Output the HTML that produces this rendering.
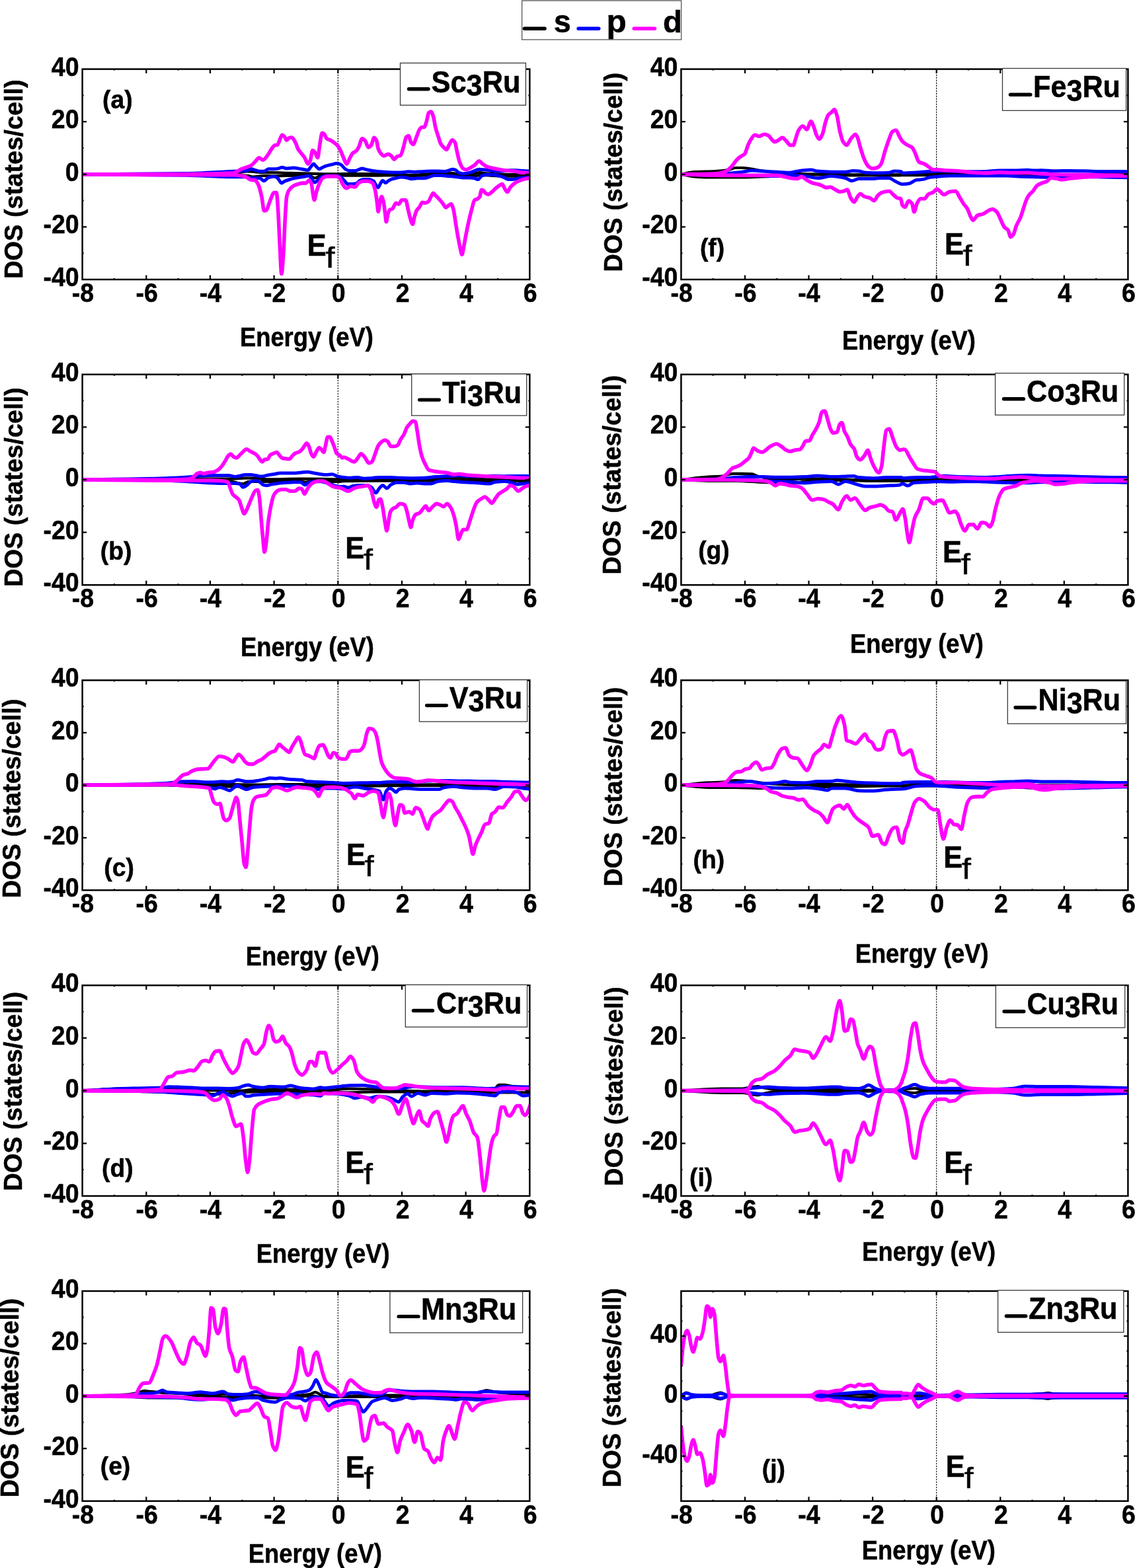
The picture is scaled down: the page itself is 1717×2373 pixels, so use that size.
<!DOCTYPE html>
<html><head><meta charset="utf-8"><title>DOS</title><style>html,body{margin:0;padding:0;background:#fff;}svg{display:block;}</style></head><body>
<svg xmlns="http://www.w3.org/2000/svg" width="1717" height="2373" viewBox="0 0 1717 2373" font-family="'Liberation Sans', Arial, sans-serif">
<style>text{stroke:#000;stroke-width:0.55px;paint-order:stroke}</style>
<rect width="1717" height="2373" fill="#fff"/>
<clipPath id="ca"><rect x="124.6" y="104.6" width="676.7" height="318.4"/></clipPath>
<line x1="511.3" y1="104.6" x2="511.3" y2="423.0" stroke="#000" stroke-width="1.1" stroke-dasharray="2.4,1.6"/>
<g clip-path="url(#ca)" fill="none" stroke-linejoin="round" stroke-linecap="round">
<path d="M124.6,263.8C176.4,263.6 228.2,263.5 280.0,263.1C304.5,262.9 328.9,262.7 353.4,261.9C360.8,261.7 368.2,259.5 375.5,259.5C383.5,259.5 391.5,261.2 399.4,261.2C404.0,261.2 408.5,261.2 413.1,261.2C419.9,261.2 426.7,261.6 433.6,261.8C444.9,262.0 456.3,262.4 467.7,262.6C479.1,262.9 490.4,263.3 501.8,263.3C507.9,263.3 513.9,263.2 520.0,263.2C531.6,263.2 543.2,263.2 554.7,263.2C572.1,263.2 589.5,264.2 606.8,264.6C612.6,264.8 618.4,265.0 624.2,265.0C635.8,265.0 647.4,262.9 658.9,262.5C667.6,262.3 676.3,262.0 685.0,262.0C687.9,262.0 690.8,263.5 693.7,263.8C699.5,264.3 705.2,264.6 711.0,264.6C715.7,264.6 720.3,261.1 724.9,261.1C729.0,261.1 733.0,262.3 737.1,262.5C745.8,263.1 754.5,263.5 763.1,263.8C777.0,264.2 790.9,264.3 804.8,264.6" stroke="#000000" stroke-width="4.2"/>
<path d="M124.6,263.8C176.4,263.8 228.2,263.8 280.0,263.8C304.5,263.8 328.9,264.1 353.4,264.7C360.8,264.8 368.2,265.2 375.5,266.0C377.8,266.3 380.1,267.7 382.4,267.7C388.1,267.7 393.7,266.0 399.4,266.0C404.0,266.0 408.5,266.4 413.1,266.4C419.9,266.4 426.7,266.1 433.6,266.0C444.9,265.8 456.3,265.3 467.7,265.3C470.5,265.3 473.4,269.4 476.2,269.4C479.1,269.4 481.9,266.7 484.7,266.4C490.4,265.7 496.1,265.3 501.8,265.3C507.9,265.3 513.9,265.7 520.0,265.7C531.6,265.7 543.2,265.7 554.7,265.7C572.1,265.7 589.5,265.1 606.8,265.1C612.6,265.1 618.4,266.0 624.2,266.0C635.8,266.0 647.4,264.6 658.9,264.6C670.5,264.6 682.1,264.8 693.7,265.0C702.4,265.1 711.0,266.4 719.7,266.4C721.5,266.4 723.2,265.0 724.9,265.0C737.7,265.0 750.4,266.7 763.1,266.7C777.0,266.7 790.9,266.2 804.8,266.0" stroke="#000000" stroke-width="4.2"/>
<path d="M124.6,263.8C176.4,263.4 228.2,263.4 280.0,262.6C304.5,262.3 328.9,260.3 353.4,259.2C359.6,258.9 365.9,258.9 372.1,258.3C375.0,258.1 377.8,255.8 380.7,255.8C382.4,255.8 384.1,257.0 385.8,257.5C388.1,258.1 390.3,259.2 392.6,259.2C394.9,259.2 397.2,259.2 399.4,259.2C401.7,259.2 404.0,255.8 406.3,255.8C409.1,255.8 411.9,255.8 414.8,255.8C417.1,255.8 419.3,255.4 421.6,254.9C423.3,254.6 425.0,253.2 426.7,253.2C429.0,253.2 431.3,254.9 433.6,254.9C437.0,254.9 440.4,254.1 443.8,254.1C447.8,254.1 451.8,255.2 455.7,255.8C459.2,256.3 462.6,257.5 466.0,257.5C467.4,257.5 468.8,253.9 470.2,252.4C471.7,250.8 473.1,248.1 474.5,248.1C475.9,248.1 477.3,251.1 478.8,252.4C480.2,253.6 481.6,255.8 483.0,255.8C484.7,255.8 486.4,254.0 488.2,253.2C490.4,252.2 492.7,251.3 495.0,250.7C497.3,250.0 499.5,249.5 501.8,249.0C504.4,248.4 506.9,247.3 509.5,247.3C511.5,247.3 513.5,248.1 515.5,249.0C517.7,250.0 520.0,254.3 522.3,255.8C524.0,256.9 525.7,258.2 527.4,258.3C528.4,258.5 529.4,258.5 530.4,258.5C532.7,258.5 535.1,258.5 537.4,258.5C539.1,258.5 540.8,257.4 542.6,256.8C544.3,256.2 546.1,255.1 547.8,255.1C550.1,255.1 552.4,256.3 554.7,256.8C557.6,257.5 560.5,258.2 563.4,258.5C566.3,258.9 569.2,259.1 572.1,259.4C575.0,259.7 577.9,260.1 580.8,260.3C583.7,260.5 586.6,260.7 589.5,260.8C592.9,261.0 596.4,261.1 599.9,261.1C603.4,261.1 606.8,261.0 610.3,260.8C612.6,260.7 614.9,259.8 617.3,259.8C620.7,259.8 624.2,260.3 627.7,260.3C632.3,260.3 636.9,259.6 641.6,259.4C645.0,259.3 648.5,259.1 652.0,259.1C655.5,259.1 658.9,259.1 662.4,259.1C665.9,259.1 669.4,259.4 672.8,259.4C675.1,259.4 677.5,258.3 679.8,257.7C681.5,257.2 683.3,256.3 685.0,256.3C686.4,256.3 687.9,256.8 689.3,257.3C690.8,257.9 692.2,260.6 693.7,261.1C696.0,262.1 698.3,262.9 700.6,262.9C704.1,262.9 707.6,262.0 711.0,261.1C713.4,260.6 715.7,259.4 718.0,258.5C720.3,257.7 722.6,256.3 724.9,256.3C727.2,256.3 729.6,256.6 731.9,256.8C734.2,257.0 736.5,257.4 738.8,257.7C741.1,258.0 743.5,258.4 745.8,258.5C748.7,258.8 751.6,259.1 754.5,259.1C757.4,259.1 760.2,258.8 763.1,258.5C766.0,258.3 768.9,257.7 771.8,257.7C774.7,257.7 777.6,257.7 780.5,257.7C784.0,257.7 787.5,258.3 790.9,258.5C795.6,258.9 800.2,259.1 804.8,259.4" stroke="#0000ff" stroke-width="5.0"/>
<path d="M124.6,263.8C176.4,264.3 228.2,264.4 280.0,265.2C304.5,265.5 328.9,267.7 353.4,267.7C359.1,267.7 364.7,267.7 370.4,267.7C373.3,267.7 376.1,269.4 379.0,269.4C381.2,269.4 383.5,269.4 385.8,269.4C388.1,269.4 390.3,269.4 392.6,269.4C394.9,269.4 397.2,273.7 399.4,273.7C401.7,273.7 404.0,269.3 406.3,268.6C409.1,267.7 411.9,266.9 414.8,266.9C416.5,266.9 418.2,268.2 419.9,269.4C421.9,270.9 423.9,277.1 425.9,277.1C427.3,277.1 428.7,275.2 430.1,274.6C432.4,273.5 434.7,272.7 437.0,272.0C440.4,271.0 443.8,270.1 447.2,269.4C450.6,268.8 454.0,268.3 457.4,267.7C460.9,267.2 464.3,266.0 467.7,266.0C469.4,266.0 471.1,270.9 472.8,272.8C473.9,274.1 475.1,276.3 476.2,276.3C477.6,276.3 479.1,274.0 480.5,272.8C482.5,271.2 484.5,268.5 486.4,267.7C488.7,266.8 491.0,266.0 493.3,266.0C496.1,266.0 499.0,266.0 501.8,266.0C504.6,266.0 507.5,266.0 510.3,266.0C512.6,266.0 514.9,267.9 517.2,269.4C519.4,271.0 521.7,274.5 524.0,277.1C524.4,277.6 524.8,278.5 525.2,278.5C527.5,278.5 529.8,278.5 532.2,278.5C534.5,278.5 536.8,278.2 539.1,277.6C540.8,277.3 542.6,274.1 544.3,273.3C546.3,272.4 548.4,271.6 550.4,271.6C553.0,271.6 555.6,271.6 558.2,271.6C560.5,271.6 562.8,272.7 565.2,274.2C566.6,275.1 568.0,279.4 569.5,281.1C570.4,282.2 571.2,283.7 572.1,283.7C573.3,283.7 574.4,279.3 575.6,277.6C576.7,276.0 577.9,273.3 579.0,273.3C580.5,273.3 581.9,276.8 583.4,276.8C584.5,276.8 585.7,275.0 586.9,274.2C588.3,273.2 589.8,272.1 591.2,271.6C593.5,270.7 595.8,270.3 598.2,269.8C601.0,269.2 603.9,268.1 606.8,268.1C609.7,268.1 612.6,268.5 615.5,269.0C617.8,269.3 620.2,270.7 622.5,270.7C625.4,270.7 628.3,269.8 631.1,269.8C634.6,269.8 638.1,269.8 641.6,269.8C643.9,269.8 646.2,268.7 648.5,268.1C651.4,267.3 654.3,265.5 657.2,265.5C660.7,265.5 664.1,265.5 667.6,265.5C670.5,265.5 673.4,266.1 676.3,266.4C679.8,266.7 683.3,266.9 686.7,267.2C689.0,267.5 691.4,267.8 693.7,268.1C696.6,268.4 699.5,269.0 702.4,269.0C705.2,269.0 708.1,269.0 711.0,269.0C713.4,269.0 715.7,269.4 718.0,269.8C719.7,270.2 721.5,271.6 723.2,271.6C724.9,271.6 726.7,267.1 728.4,266.4C730.7,265.4 733.0,264.6 735.4,264.6C738.8,264.6 742.3,264.6 745.8,264.6C749.2,264.6 752.7,265.5 756.2,266.4C758.5,266.9 760.8,268.0 763.1,269.0C764.9,269.7 766.6,271.6 768.4,271.6C770.7,271.6 773.0,271.6 775.3,271.6C778.2,271.6 781.1,270.3 784.0,269.8C786.3,269.5 788.6,269.2 790.9,269.0C795.6,268.6 800.2,268.4 804.8,268.1" stroke="#0000ff" stroke-width="5.0"/>
<path d="M124.6,263.8C176.4,263.7 228.2,263.7 280.0,263.5C304.5,263.4 328.9,263.1 353.4,261.8C357.3,261.5 361.3,257.5 365.3,255.8C370.4,253.5 375.5,252.9 380.7,249.8C382.9,248.5 385.2,245.3 387.5,243.0C388.9,241.6 390.3,238.7 391.8,238.7C393.7,238.7 395.7,242.1 397.7,242.1C400.0,242.1 402.3,238.1 404.6,235.3C407.1,232.2 409.7,226.4 412.2,223.4C413.4,222.0 414.5,220.3 415.6,220.0C417.1,219.5 418.5,219.6 419.9,219.1C421.0,218.7 422.2,213.9 423.3,211.4C424.5,209.0 425.6,204.3 426.7,204.3C427.9,204.3 429.0,205.3 430.1,206.3C431.3,207.3 432.4,212.3 433.6,212.3C434.7,212.3 435.8,209.3 437.0,208.9C438.4,208.4 439.8,208.0 441.2,208.0C442.4,208.0 443.5,209.9 444.6,211.4C445.8,212.9 446.9,215.6 448.1,218.2C448.9,220.2 449.8,223.5 450.6,225.1C452.3,228.2 454.0,229.6 455.7,231.9C457.4,234.2 459.2,236.1 460.9,238.7C462.6,241.4 464.3,248.1 466.0,248.1C467.1,248.1 468.3,245.5 469.4,243.0C470.5,240.4 471.7,227.6 472.8,227.6C473.9,227.6 475.1,229.0 476.2,230.2C477.6,231.7 479.1,238.7 480.5,238.7C481.6,238.7 482.8,224.5 483.9,218.2C485.0,212.0 486.2,201.2 487.3,201.2C488.4,201.2 489.6,202.0 490.7,202.9C491.9,203.8 493.0,208.9 494.1,209.7C496.1,211.2 498.1,211.2 500.1,212.3C501.8,213.2 503.5,214.4 505.2,215.7C506.9,217.0 508.6,218.1 510.3,220.0C511.8,221.5 513.2,224.0 514.6,226.8C516.0,229.5 517.4,234.0 518.9,237.0C520.9,241.2 522.8,248.1 524.8,248.1C526.1,248.1 527.4,242.7 528.7,240.3C530.4,237.1 532.2,233.3 533.9,231.6C535.6,230.0 537.4,229.8 539.1,228.2C540.3,227.1 541.4,225.1 542.6,222.9C544.3,219.7 546.1,209.9 547.8,209.9C549.2,209.9 550.7,211.2 552.1,212.5C553.9,214.1 555.6,222.9 557.3,222.9C558.8,222.9 560.2,221.2 561.7,219.5C563.1,217.7 564.6,208.2 566.0,208.2C567.2,208.2 568.3,210.2 569.5,212.5C570.4,214.3 571.2,222.2 572.1,224.7C573.3,228.0 574.4,230.2 575.6,231.6C577.3,233.7 579.0,236.0 580.8,236.0C582.8,236.0 584.8,233.4 586.9,233.4C588.3,233.4 589.8,234.2 591.2,235.1C592.9,236.1 594.7,241.2 596.4,241.2C597.9,241.2 599.3,237.6 600.8,236.8C602.5,236.0 604.2,236.2 606.0,235.1C607.4,234.2 608.9,227.5 610.3,222.9C611.8,218.4 613.2,208.5 614.7,207.3C615.8,206.3 617.0,205.6 618.1,205.6C619.3,205.6 620.4,213.4 621.6,215.1C622.8,216.8 623.9,218.6 625.1,218.6C626.5,218.6 628.0,212.4 629.4,209.0C631.1,205.0 632.9,198.4 634.6,196.0C635.8,194.4 636.9,192.5 638.1,192.5C639.3,192.5 640.4,192.5 641.6,192.5C642.7,192.5 643.9,188.1 645.0,184.7C646.2,181.4 647.4,171.9 648.5,170.8C649.7,169.8 650.8,169.1 652.0,169.1C653.1,169.1 654.3,172.7 655.5,176.1C656.6,179.4 657.8,188.9 658.9,193.4C660.4,199.1 661.8,202.8 663.3,207.3C664.4,210.9 665.6,215.7 666.8,217.7C668.2,220.3 669.6,221.6 671.1,222.9C672.5,224.3 674.0,226.4 675.4,226.4C676.9,226.4 678.3,221.1 679.8,218.6C681.2,216.1 682.7,211.7 684.1,211.7C685.6,211.7 687.0,213.5 688.5,216.0C689.3,217.5 690.2,224.4 691.1,228.2C692.5,234.4 694.0,241.8 695.4,245.5C697.1,249.9 698.9,254.0 700.6,255.1C702.1,256.0 703.5,256.8 705.0,256.8C707.0,256.8 709.0,255.2 711.0,254.2C713.4,253.0 715.7,251.5 718.0,249.9C720.3,248.2 722.6,243.8 724.9,243.8C726.7,243.8 728.4,246.8 730.1,248.1C731.9,249.4 733.6,250.9 735.4,251.6C738.2,252.8 741.1,253.5 744.0,254.2C746.9,254.9 749.8,255.4 752.7,255.9C756.2,256.6 759.7,257.2 763.1,257.7C766.0,258.0 768.9,258.3 771.8,258.5C774.7,258.8 777.6,259.0 780.5,259.4C783.4,259.8 786.3,260.9 789.2,261.1C794.4,261.6 799.6,261.7 804.8,262.0" stroke="#ff00ff" stroke-width="5.6"/>
<path d="M124.6,263.8C176.4,264.1 228.2,264.7 280.0,264.7C304.5,264.7 328.9,264.7 353.4,264.7C357.3,264.7 361.3,265.4 365.3,266.0C367.6,266.4 369.9,266.9 372.1,267.7C374.4,268.5 376.7,271.5 379.0,272.0C381.2,272.5 383.5,272.3 385.8,272.8C387.5,273.3 389.2,276.3 390.9,279.7C392.6,283.0 394.3,290.5 396.0,298.4C397.2,303.7 398.3,318.9 399.4,318.9C400.6,318.9 401.7,318.6 402.8,318.1C404.6,317.3 406.3,309.1 408.0,305.3C410.2,300.2 412.5,291.6 414.8,291.6C415.9,291.6 417.1,291.6 418.2,291.6C419.1,291.6 419.9,308.3 420.8,320.6C421.6,333.0 422.5,356.3 423.3,371.8C424.2,387.3 425.0,414.5 425.9,414.5C426.7,414.5 427.6,400.1 428.4,388.9C429.6,373.9 430.7,338.1 431.9,320.6C432.4,311.9 433.0,301.4 433.6,298.4C434.7,292.5 435.8,290.0 437.0,288.2C439.2,284.6 441.5,282.6 443.8,281.4C446.1,280.1 448.3,279.5 450.6,278.8C452.9,278.1 455.2,277.1 457.4,277.1C459.2,277.1 460.9,277.1 462.6,277.1C464.3,277.1 466.0,272.8 467.7,272.8C468.8,272.8 470.0,275.1 471.1,278.0C471.9,280.1 472.8,290.5 473.7,295.0C474.2,298.0 474.8,302.7 475.4,302.7C476.5,302.7 477.6,293.6 478.8,289.9C480.2,285.3 481.6,281.0 483.0,278.0C484.7,274.4 486.4,270.5 488.2,269.4C490.4,268.0 492.7,266.9 495.0,266.9C499.5,266.9 504.1,266.9 508.6,266.9C510.3,266.9 512.0,268.1 513.7,269.4C515.5,270.8 517.2,277.4 518.9,279.7C520.6,281.9 522.3,284.8 524.0,284.8C526.1,284.8 528.3,282.0 530.4,282.0C532.7,282.0 535.1,282.9 537.4,282.9C539.1,282.9 540.8,277.8 542.6,276.8C544.9,275.4 547.2,274.2 549.5,274.2C551.8,274.2 554.2,274.2 556.5,274.2C558.8,274.2 561.1,275.2 563.4,276.8C564.9,277.8 566.3,283.0 567.8,288.9C568.6,292.5 569.5,300.0 570.4,306.3C570.9,310.5 571.5,320.2 572.1,320.2C573.0,320.2 573.8,309.9 574.7,306.3C575.6,302.7 576.4,297.6 577.3,297.6C578.2,297.6 579.0,301.3 579.9,304.6C580.8,307.9 581.7,315.6 582.5,321.9C583.1,326.2 583.7,335.8 584.3,335.8C585.1,335.8 586.0,326.4 586.9,323.7C587.7,321.0 588.6,318.2 589.5,317.6C590.9,316.5 592.4,316.8 593.8,315.9C595.5,314.8 597.3,307.2 599.0,307.2C600.5,307.2 601.9,308.9 603.4,308.9C604.8,308.9 606.3,302.8 607.7,302.8C609.7,302.8 611.8,302.8 613.8,302.8C614.9,302.8 616.1,312.1 617.3,316.7C618.4,321.4 619.6,327.1 620.7,330.6C621.9,334.2 623.0,339.3 624.2,339.3C625.1,339.3 625.9,331.9 626.8,328.9C628.0,324.9 629.1,320.5 630.3,318.5C631.7,315.9 633.2,315.2 634.6,313.3C636.1,311.3 637.5,306.3 639.0,306.3C640.4,306.3 641.9,307.2 643.3,307.2C645.0,307.2 646.8,306.0 648.5,304.6C649.7,303.6 650.8,299.6 652.0,297.6C653.1,295.6 654.3,292.4 655.5,292.4C656.6,292.4 657.8,294.7 658.9,295.9C660.7,297.6 662.4,299.2 664.1,301.1C665.9,303.0 667.6,305.0 669.4,307.2C671.1,309.3 672.8,314.1 674.6,314.1C675.7,314.1 676.9,312.3 678.0,311.5C679.5,310.5 680.9,308.9 682.4,308.9C683.5,308.9 684.7,312.9 685.9,316.7C687.0,320.5 688.2,330.6 689.3,337.6C690.5,344.5 691.6,352.1 692.8,358.4C694.0,364.7 695.1,370.9 696.3,375.8C697.1,379.4 698.0,385.3 698.9,385.3C699.7,385.3 700.6,378.2 701.5,374.0C702.6,368.5 703.8,360.9 705.0,354.9C706.4,347.5 707.9,340.4 709.3,334.1C710.7,327.8 712.2,321.9 713.6,316.7C715.1,311.6 716.5,303.9 718.0,302.8C719.4,301.8 720.9,301.9 722.3,301.1C723.5,300.4 724.6,299.5 725.8,297.6C726.7,296.2 727.5,287.2 728.4,287.2C729.3,287.2 730.1,287.6 731.0,288.1C732.2,288.7 733.3,291.7 734.5,292.4C735.9,293.3 737.4,294.1 738.8,294.1C740.6,294.1 742.3,292.1 744.0,290.7C745.8,289.3 747.5,287.0 749.2,285.5C751.6,283.5 753.9,281.6 756.2,280.3C757.4,279.6 758.5,278.5 759.7,278.5C760.8,278.5 762.0,282.8 763.1,284.6C764.6,286.9 766.0,290.7 767.5,290.7C768.9,290.7 770.4,285.5 771.8,283.7C773.6,281.6 775.3,279.9 777.0,278.5C779.3,276.7 781.7,275.3 784.0,274.2C786.3,273.1 788.6,272.2 790.9,271.6C795.6,270.4 800.2,269.8 804.8,269.0" stroke="#ff00ff" stroke-width="5.6"/>
</g>
<rect x="124.6" y="104.6" width="676.7" height="318.4" fill="none" stroke="#000" stroke-width="2.5"/>
<path d="M172.9,423.0v-2.0M172.9,104.6v2.0M221.3,423.0v-6.5M221.3,104.6v6.5M269.6,423.0v-2.0M269.6,104.6v2.0M317.9,423.0v-6.5M317.9,104.6v6.5M366.3,423.0v-2.0M366.3,104.6v2.0M414.6,423.0v-6.5M414.6,104.6v6.5M462.9,423.0v-2.0M462.9,104.6v2.0M511.3,423.0v-6.5M511.3,104.6v6.5M559.6,423.0v-2.0M559.6,104.6v2.0M608.0,423.0v-6.5M608.0,104.6v6.5M656.3,423.0v-2.0M656.3,104.6v2.0M704.6,423.0v-6.5M704.6,104.6v6.5M753.0,423.0v-2.0M753.0,104.6v2.0M124.6,383.2h2.0M801.3,383.2h-2.0M124.6,343.4h6.5M801.3,343.4h-6.5M124.6,303.6h2.0M801.3,303.6h-2.0M124.6,263.8h6.5M801.3,263.8h-6.5M124.6,224.0h2.0M801.3,224.0h-2.0M124.6,184.2h6.5M801.3,184.2h-6.5M124.6,144.4h2.0M801.3,144.4h-2.0" stroke="#000" stroke-width="2.2" fill="none"/>
<text transform="translate(108.74,457.10) scale(0.9250,1)" font-size="40.50" font-weight="bold">-8</text>
<text transform="translate(205.60,457.10) scale(0.9250,1)" font-size="40.50" font-weight="bold">-6</text>
<text transform="translate(301.71,457.10) scale(0.9250,1)" font-size="40.50" font-weight="bold">-4</text>
<text transform="translate(398.94,457.10) scale(0.9250,1)" font-size="40.50" font-weight="bold">-2</text>
<text transform="translate(501.80,457.10) scale(0.9250,1)" font-size="40.50" font-weight="bold">0</text>
<text transform="translate(598.65,457.10) scale(0.9250,1)" font-size="40.50" font-weight="bold">2</text>
<text transform="translate(694.95,457.10) scale(0.9250,1)" font-size="40.50" font-weight="bold">4</text>
<text transform="translate(791.81,457.10) scale(0.9250,1)" font-size="40.50" font-weight="bold">6</text>
<text transform="translate(77.84,114.50) scale(0.9250,1)" font-size="40.50" font-weight="bold">40</text>
<text transform="translate(77.84,194.10) scale(0.9250,1)" font-size="40.50" font-weight="bold">20</text>
<text transform="translate(98.82,273.70) scale(0.9250,1)" font-size="40.50" font-weight="bold">0</text>
<text transform="translate(65.48,353.30) scale(0.9250,1)" font-size="40.50" font-weight="bold">-20</text>
<text transform="translate(65.48,432.90) scale(0.9250,1)" font-size="40.50" font-weight="bold">-40</text>
<text transform="translate(155.04,164.25) scale(0.9700,1)" font-size="38.40" font-weight="bold">(a)</text>
<text transform="translate(464.76,387.40) scale(0.9415,1)" font-size="46.09" font-weight="bold" fill="#000">E</text>
<text transform="translate(492.60,404.80) scale(1.1180,1)" font-size="44.72" font-weight="normal" fill="#000">f</text>
<text transform="translate(362.96,524.00) scale(0.8998,1)" font-size="40.40" font-weight="bold">Energy (eV)</text>
<text transform="translate(33.80,419.20) rotate(-90) scale(0.9561,1) translate(-2.78,0)" font-size="39.71" font-weight="bold">DOS (states/cell)</text>
<rect x="605.5" y="95.4" width="189.9" height="63.8" fill="#fff" stroke="#3a3a3a" stroke-width="1.3"/>
<line x1="618.5" y1="134.7" x2="648.0" y2="134.7" stroke="#000" stroke-width="5.4" stroke-linecap="round"/>
<text transform="translate(652.60,139.90) scale(0.9267,1)" font-size="46.75" font-weight="bold">Sc<tspan dy="5.2">3</tspan><tspan dy="-5.2">Ru</tspan></text>
<clipPath id="cb"><rect x="124.6" y="566.7" width="676.7" height="318.6"/></clipPath>
<line x1="511.3" y1="566.7" x2="511.3" y2="885.3" stroke="#000" stroke-width="1.1" stroke-dasharray="2.4,1.6"/>
<g clip-path="url(#cb)" fill="none" stroke-linejoin="round" stroke-linecap="round">
<path d="M124.6,726.0C166.4,725.8 208.2,725.7 250.0,725.4C272.7,725.2 295.5,724.6 318.2,724.6C329.6,724.6 341.0,724.6 352.4,724.6C358.1,724.6 363.7,723.7 369.4,723.7C375.1,723.7 380.8,723.7 386.5,723.7C392.2,723.7 397.9,725.4 403.6,725.4C420.6,725.4 437.7,724.6 454.7,724.6C474.6,724.6 494.6,724.7 514.5,725.4C516.3,725.5 518.2,726.8 520.0,726.8C537.4,726.8 554.7,725.9 572.1,725.9C589.5,725.9 606.8,725.9 624.2,725.9C641.6,725.9 658.9,725.2 676.3,724.7C682.1,724.5 687.9,724.2 693.7,724.2C711.0,724.2 728.4,725.2 745.8,725.4C765.5,725.6 785.1,725.7 804.8,725.9" stroke="#000000" stroke-width="4.2"/>
<path d="M124.6,726.0C166.4,726.4 208.2,726.7 250.0,727.1C272.7,727.4 295.5,728.0 318.2,728.0C327.3,728.0 336.4,728.0 345.5,728.0C352.9,728.0 360.3,732.2 367.7,732.2C370.6,732.2 373.4,728.8 376.3,728.8C385.4,728.8 394.5,728.8 403.6,728.8C420.6,728.8 437.7,728.0 454.7,728.0C457.0,728.0 459.3,729.7 461.6,729.7C465.0,729.7 468.4,728.3 471.8,728.3C486.0,728.3 500.2,728.8 514.5,728.8C516.3,728.8 518.2,728.2 520.0,728.2C537.4,727.8 554.7,727.6 572.1,727.6C589.5,727.6 606.8,727.6 624.2,727.6C641.6,727.6 658.9,727.6 676.3,727.6C687.9,727.6 699.5,728.0 711.0,728.2C716.8,728.3 722.6,728.5 728.4,728.5C734.2,728.5 740.0,727.6 745.8,727.6C765.5,727.6 785.1,728.0 804.8,728.2" stroke="#000000" stroke-width="4.2"/>
<path d="M124.6,726.0C166.4,725.2 208.2,724.9 250.0,723.7C261.4,723.4 272.7,722.8 284.1,722.0C289.8,721.6 295.5,720.7 301.2,720.3C306.9,719.9 312.6,719.4 318.2,719.4C323.9,719.4 329.6,719.4 335.3,719.4C338.7,719.4 342.1,719.4 345.5,719.4C349.0,719.4 352.4,721.5 355.8,721.5C358.1,721.5 360.3,720.7 362.6,720.3C365.5,719.8 368.3,718.6 371.1,718.6C374.0,718.6 376.8,718.6 379.7,718.6C381.9,718.6 384.2,719.1 386.5,719.4C389.3,719.9 392.2,721.1 395.0,721.1C397.9,721.1 400.7,720.0 403.6,719.4C407.0,718.8 410.4,718.3 413.8,717.7C417.2,717.2 420.6,716.0 424.0,716.0C427.4,716.0 430.9,716.0 434.3,716.0C437.7,716.0 441.1,716.0 444.5,716.0C447.9,716.0 451.3,715.5 454.7,715.2C458.2,714.9 461.6,714.3 465.0,714.3C468.4,714.3 471.8,715.5 475.2,716.0C478.6,716.6 482.0,717.2 485.5,717.7C487.7,718.0 490.0,718.6 492.3,718.6C495.7,718.6 499.1,717.7 502.5,717.7C504.8,717.7 507.1,719.6 509.3,720.3C511.6,721.0 513.9,721.6 516.2,722.0C517.4,722.2 518.7,722.3 520.0,722.4C523.5,722.8 526.9,723.3 530.4,723.3C533.9,723.3 537.4,722.4 540.8,722.4C544.3,722.4 547.8,724.2 551.3,724.2C554.7,724.2 558.2,723.9 561.7,723.7C565.2,723.4 568.6,722.4 572.1,722.4C577.9,722.4 583.7,722.4 589.5,722.4C595.3,722.4 601.0,723.1 606.8,723.3C612.6,723.5 618.4,723.7 624.2,723.7C630.0,723.7 635.8,723.5 641.6,723.3C647.4,723.1 653.1,722.0 658.9,721.6C664.7,721.2 670.5,721.0 676.3,720.7C682.1,720.4 687.9,719.8 693.7,719.8C699.5,719.8 705.2,720.7 711.0,720.7C716.8,720.7 722.6,720.7 728.4,720.7C734.2,720.7 740.0,720.2 745.8,720.2C751.6,720.2 757.4,720.7 763.1,720.7C768.9,720.7 774.7,720.4 780.5,720.4C788.6,720.4 796.7,720.6 804.8,720.7" stroke="#0000ff" stroke-width="5.0"/>
<path d="M124.6,726.0C166.4,726.4 208.2,726.4 250.0,727.1C261.4,727.3 272.7,728.2 284.1,728.8C292.7,729.3 301.2,730.1 309.7,730.5C318.2,730.9 326.8,731.4 335.3,731.4C338.7,731.4 342.1,731.4 345.5,731.4C349.0,731.4 352.4,731.4 355.8,731.4C358.1,731.4 360.3,731.7 362.6,732.2C364.3,732.6 366.0,737.3 367.7,737.3C369.4,737.3 371.1,735.9 372.8,734.8C375.1,733.4 377.4,729.4 379.7,728.8C382.5,728.1 385.4,727.6 388.2,727.6C389.9,727.6 391.6,728.7 393.3,729.7C395.0,730.6 396.7,733.5 398.4,733.9C400.1,734.4 401.9,734.8 403.6,734.8C405.8,734.8 408.1,733.5 410.4,733.1C413.8,732.4 417.2,731.8 420.6,731.4C424.0,731.0 427.4,730.8 430.9,730.5C435.4,730.2 440.0,729.7 444.5,729.7C447.9,729.7 451.3,729.7 454.7,729.7C457.0,729.7 459.3,733.9 461.6,733.9C463.3,733.9 465.0,731.1 466.7,730.5C469.5,729.6 472.4,728.8 475.2,728.8C478.6,728.8 482.0,728.8 485.5,728.8C488.9,728.8 492.3,730.4 495.7,731.4C499.1,732.4 502.5,733.9 505.9,734.8C508.8,735.5 511.6,736.5 514.5,736.5C516.3,736.5 518.2,736.3 520.0,736.3C522.3,736.3 524.6,738.1 526.9,738.1C529.3,738.1 531.6,735.8 533.9,735.5C537.4,735.0 540.8,734.6 544.3,734.6C547.8,734.6 551.3,734.6 554.7,734.6C557.0,734.6 559.4,735.9 561.7,737.2C564.0,738.5 566.3,745.9 568.6,745.9C570.4,745.9 572.1,740.7 573.8,738.9C575.6,737.2 577.3,734.6 579.0,734.6C581.1,734.6 583.1,738.9 585.1,738.9C587.2,738.9 589.2,734.9 591.2,733.7C594.1,732.1 597.0,730.3 599.9,730.3C603.4,730.3 606.8,730.3 610.3,730.3C613.8,730.3 617.3,732.0 620.7,732.0C624.2,732.0 627.7,731.1 631.1,731.1C634.6,731.1 638.1,732.0 641.6,732.0C645.0,732.0 648.5,732.0 652.0,732.0C655.5,732.0 658.9,728.9 662.4,728.5C667.0,728.0 671.7,727.6 676.3,727.6C679.8,727.6 683.3,728.2 686.7,728.5C690.2,728.8 693.7,729.1 697.1,729.4C701.8,729.7 706.4,730.0 711.0,730.3C715.7,730.5 720.3,730.8 724.9,731.1C730.1,731.4 735.4,732.0 740.6,732.0C743.5,732.0 746.4,729.7 749.2,729.4C753.9,728.9 758.5,728.5 763.1,728.5C766.6,728.5 770.1,729.5 773.6,730.3C776.5,730.9 779.3,732.9 782.2,732.9C785.1,732.9 788.0,732.2 790.9,732.0C795.6,731.6 800.2,731.4 804.8,731.1" stroke="#0000ff" stroke-width="5.0"/>
<path d="M124.6,726.0C166.4,726.1 208.2,726.3 250.0,726.3C261.4,726.3 272.7,726.1 284.1,725.4C287.0,725.2 289.8,723.7 292.7,722.0C294.4,721.0 296.1,717.7 297.8,716.9C299.5,716.0 301.2,715.2 302.9,715.2C304.6,715.2 306.3,716.9 308.0,716.9C310.3,716.9 312.6,715.5 314.8,715.2C317.7,714.8 320.5,714.8 323.4,714.3C325.6,713.9 327.9,712.4 330.2,710.9C331.9,709.7 333.6,707.8 335.3,705.8C337.0,703.7 338.7,700.8 340.4,698.1C342.1,695.4 343.8,691.3 345.5,689.6C346.7,688.4 347.8,687.0 349.0,687.0C350.1,687.0 351.2,689.7 352.4,690.4C354.1,691.6 355.8,693.0 357.5,693.0C359.2,693.0 360.9,690.3 362.6,688.7C364.3,687.2 366.0,685.0 367.7,683.6C369.4,682.2 371.1,679.8 372.8,679.8C374.6,679.8 376.3,681.8 378.0,682.8C380.2,684.0 382.5,684.7 384.8,686.2C386.5,687.2 388.2,688.6 389.9,690.4C391.0,691.7 392.2,694.2 393.3,695.5C394.5,696.9 395.6,699.0 396.7,699.0C397.9,699.0 399.0,695.9 400.1,695.5C401.9,695.0 403.6,695.2 405.3,694.7C406.4,694.3 407.5,689.6 408.7,688.7C410.4,687.3 412.1,686.8 413.8,686.2C415.5,685.5 417.2,684.5 418.9,684.5C420.1,684.5 421.2,687.5 422.3,688.7C424.0,690.6 425.7,693.1 427.4,693.5C429.2,693.9 430.9,694.0 432.6,694.2C434.3,694.4 436.0,694.7 437.7,694.7C439.1,694.7 440.5,691.9 441.9,690.4C443.4,689.0 444.8,687.0 446.2,686.2C448.5,684.9 450.8,684.9 453.0,683.6C454.7,682.7 456.4,680.4 458.2,678.5C460.1,676.3 462.1,670.8 464.1,670.8C465.3,670.8 466.4,673.6 467.5,675.9C468.7,678.3 469.8,685.0 471.0,687.0C472.1,689.1 473.2,691.3 474.4,691.3C475.8,691.3 477.2,685.8 478.6,683.6C480.1,681.4 481.5,677.6 482.9,677.6C484.0,677.6 485.2,679.1 486.3,680.2C487.4,681.3 488.6,684.5 489.7,684.5C490.6,684.5 491.4,678.3 492.3,675.1C493.4,670.7 494.6,661.4 495.7,661.4C496.8,661.4 498.0,661.4 499.1,661.4C500.2,661.4 501.4,665.7 502.5,668.2C503.7,670.8 504.8,673.8 505.9,676.8C507.1,679.8 508.2,685.0 509.3,686.2C510.8,687.6 512.2,687.7 513.6,688.7C515.0,689.8 516.5,693.0 517.9,693.0C518.6,693.0 519.3,692.0 520.0,692.0C522.3,692.0 524.6,693.7 526.9,694.7C529.8,695.9 532.7,699.0 535.6,699.0C537.4,699.0 539.1,695.8 540.8,693.8C542.6,691.8 544.3,686.8 546.1,686.8C547.8,686.8 549.5,689.4 551.3,691.2C553.6,693.6 555.9,700.7 558.2,700.7C559.7,700.7 561.1,700.0 562.5,699.0C564.0,698.0 565.4,692.2 566.9,688.6C568.6,684.2 570.4,677.5 572.1,674.7C573.8,671.9 575.6,669.8 577.3,668.6C579.0,667.4 580.8,666.0 582.5,666.0C584.0,666.0 585.4,667.3 586.9,668.6C588.3,669.9 589.8,675.5 591.2,675.5C592.9,675.5 594.7,675.5 596.4,675.5C598.2,675.5 599.9,674.8 601.6,673.8C603.1,673.0 604.5,667.6 606.0,665.1C607.7,662.1 609.4,660.5 611.2,657.3C612.6,654.6 614.1,649.2 615.5,646.9C617.0,644.6 618.4,643.3 619.9,641.7C621.3,640.1 622.8,637.3 624.2,637.3C625.7,637.3 627.1,637.6 628.5,638.2C629.4,638.6 630.3,647.0 631.1,652.1C632.3,658.9 633.5,668.5 634.6,674.7C635.8,680.8 636.9,686.7 638.1,690.3C639.8,695.8 641.6,699.1 643.3,702.5C645.0,705.8 646.8,710.4 648.5,711.1C650.8,712.2 653.1,712.4 655.5,712.9C658.4,713.5 661.3,713.9 664.1,714.3C668.2,714.8 672.3,714.9 676.3,715.5C679.8,716.0 683.3,718.1 686.7,718.1C689.0,718.1 691.4,717.2 693.7,717.2C698.3,717.2 702.9,718.5 707.6,719.0C711.6,719.3 715.7,719.6 719.7,719.8C725.5,720.2 731.3,720.4 737.1,720.7C742.9,721.0 748.7,721.3 754.5,721.6C760.2,721.9 766.0,722.1 771.8,722.4C777.6,722.7 783.4,723.1 789.2,723.3C794.4,723.5 799.6,723.5 804.8,723.7" stroke="#ff00ff" stroke-width="5.6"/>
<path d="M124.6,726.0C166.4,726.4 208.2,727.1 250.0,727.1C272.7,727.1 295.5,727.1 318.2,727.1C325.1,727.1 331.9,727.4 338.7,728.0C340.7,728.1 342.7,728.6 344.7,729.7C345.8,730.3 347.0,735.4 348.1,738.2C349.5,741.7 350.9,746.7 352.4,748.4C354.1,750.6 355.8,751.1 357.5,752.7C358.9,754.0 360.3,754.8 361.8,757.0C362.9,758.7 364.0,764.2 365.2,767.2C366.6,771.0 368.0,777.4 369.4,777.4C370.6,777.4 371.7,774.4 372.8,772.3C374.3,769.7 375.7,765.5 377.1,762.1C378.5,758.7 380.0,754.8 381.4,751.9C383.1,748.3 384.8,743.2 386.5,742.5C387.6,742.0 388.8,741.6 389.9,741.6C390.8,741.6 391.6,747.8 392.5,753.6C393.3,759.3 394.2,774.3 395.0,784.3C395.9,794.2 396.7,804.9 397.6,813.3C398.4,821.7 399.3,835.5 400.1,835.5C401.0,835.5 401.9,827.7 402.7,821.8C403.8,814.0 405.0,796.2 406.1,787.7C407.3,779.2 408.4,772.7 409.5,767.2C411.0,760.3 412.4,753.0 413.8,750.1C415.5,746.7 417.2,744.3 418.9,743.3C421.2,742.0 423.5,740.8 425.7,740.8C428.0,740.8 430.3,740.8 432.6,740.8C434.8,740.8 437.1,743.3 439.4,743.3C441.7,743.3 443.9,743.3 446.2,743.3C448.2,743.3 450.2,739.1 452.2,739.1C453.6,739.1 455.0,739.4 456.4,739.9C457.9,740.4 459.3,747.6 460.7,747.6C461.9,747.6 463.0,743.5 464.1,741.6C465.5,739.2 467.0,736.3 468.4,734.8C470.7,732.4 472.9,730.5 475.2,729.7C477.5,728.8 479.8,728.0 482.0,728.0C484.3,728.0 486.6,728.0 488.9,728.0C491.1,728.0 493.4,730.1 495.7,731.4C498.0,732.6 500.2,734.7 502.5,735.6C504.2,736.4 505.9,737.0 507.6,737.3C509.9,737.8 512.2,737.7 514.5,738.2C516.3,738.6 518.2,739.9 520.0,740.7C522.3,741.6 524.6,743.3 526.9,743.3C529.3,743.3 531.6,740.8 533.9,739.8C536.2,738.8 538.5,737.6 540.8,737.2C543.2,736.8 545.5,736.7 547.8,736.3C550.7,735.9 553.6,734.6 556.5,734.6C558.2,734.6 559.9,738.6 561.7,742.4C563.1,745.6 564.6,755.7 566.0,759.8C567.2,763.1 568.3,767.6 569.5,767.6C570.7,767.6 571.8,757.0 573.0,756.3C573.8,755.8 574.7,755.4 575.6,755.4C576.7,755.4 577.9,763.0 579.0,768.5C580.2,774.0 581.4,784.8 582.5,791.0C583.4,795.7 584.3,803.2 585.1,803.2C586.0,803.2 586.9,793.9 587.7,789.3C588.6,784.7 589.5,777.5 590.3,775.4C591.5,772.6 592.7,771.1 593.8,770.2C595.5,768.9 597.3,768.7 599.0,767.6C601.0,766.3 603.1,762.4 605.1,762.4C607.4,762.4 609.7,762.9 612.0,764.1C613.2,764.7 614.4,769.7 615.5,773.7C616.7,777.6 617.8,784.9 619.0,789.3C619.9,792.6 620.7,798.0 621.6,798.0C622.5,798.0 623.3,789.9 624.2,787.6C625.7,783.6 627.1,779.9 628.5,778.9C630.6,777.4 632.6,777.6 634.6,776.3C636.4,775.2 638.1,772.1 639.8,770.2C641.3,768.6 642.7,765.9 644.2,765.9C645.6,765.9 647.1,772.8 648.5,772.8C650.3,772.8 652.0,769.1 653.7,767.6C656.0,765.6 658.4,762.4 660.7,762.4C662.4,762.4 664.1,763.4 665.9,764.1C667.6,764.8 669.4,766.7 671.1,766.7C672.8,766.7 674.6,762.4 676.3,762.4C678.0,762.4 679.8,765.1 681.5,767.6C683.3,770.1 685.0,774.9 686.7,780.6C687.9,784.4 689.0,790.4 690.2,796.2C691.4,802.1 692.5,816.2 693.7,816.2C694.8,816.2 696.0,810.9 697.1,808.4C698.3,806.0 699.5,801.5 700.6,801.5C702.4,801.5 704.1,801.5 705.8,801.5C707.6,801.5 709.3,792.5 711.0,787.6C712.8,782.7 714.5,776.5 716.2,771.9C718.0,767.4 719.7,761.8 721.5,759.8C723.8,757.1 726.1,755.9 728.4,754.6C730.1,753.5 731.9,752.0 733.6,752.0C735.4,752.0 737.1,754.7 738.8,756.3C740.6,757.9 742.3,761.5 744.0,761.5C745.8,761.5 747.5,756.9 749.2,754.6C751.0,752.3 752.7,749.2 754.5,747.6C756.2,746.1 757.9,745.3 759.7,744.1C762.0,742.7 764.3,741.6 766.6,739.8C768.4,738.5 770.1,734.6 771.8,734.6C773.6,734.6 775.3,735.5 777.0,736.3C779.3,737.5 781.7,743.3 784.0,743.3C785.7,743.3 787.5,741.0 789.2,739.8C790.9,738.6 792.7,737.0 794.4,736.3C797.9,735.0 801.3,734.6 804.8,733.7" stroke="#ff00ff" stroke-width="5.6"/>
</g>
<rect x="124.6" y="566.7" width="676.7" height="318.6" fill="none" stroke="#000" stroke-width="2.5"/>
<path d="M172.9,885.3v-2.0M172.9,566.7v2.0M221.3,885.3v-6.5M221.3,566.7v6.5M269.6,885.3v-2.0M269.6,566.7v2.0M317.9,885.3v-6.5M317.9,566.7v6.5M366.3,885.3v-2.0M366.3,566.7v2.0M414.6,885.3v-6.5M414.6,566.7v6.5M462.9,885.3v-2.0M462.9,566.7v2.0M511.3,885.3v-6.5M511.3,566.7v6.5M559.6,885.3v-2.0M559.6,566.7v2.0M608.0,885.3v-6.5M608.0,566.7v6.5M656.3,885.3v-2.0M656.3,566.7v2.0M704.6,885.3v-6.5M704.6,566.7v6.5M753.0,885.3v-2.0M753.0,566.7v2.0M124.6,845.5h2.0M801.3,845.5h-2.0M124.6,805.6h6.5M801.3,805.6h-6.5M124.6,765.8h2.0M801.3,765.8h-2.0M124.6,726.0h6.5M801.3,726.0h-6.5M124.6,686.2h2.0M801.3,686.2h-2.0M124.6,646.4h6.5M801.3,646.4h-6.5M124.6,606.5h2.0M801.3,606.5h-2.0" stroke="#000" stroke-width="2.2" fill="none"/>
<text transform="translate(108.74,919.40) scale(0.9250,1)" font-size="40.50" font-weight="bold">-8</text>
<text transform="translate(205.60,919.40) scale(0.9250,1)" font-size="40.50" font-weight="bold">-6</text>
<text transform="translate(301.71,919.40) scale(0.9250,1)" font-size="40.50" font-weight="bold">-4</text>
<text transform="translate(398.94,919.40) scale(0.9250,1)" font-size="40.50" font-weight="bold">-2</text>
<text transform="translate(501.80,919.40) scale(0.9250,1)" font-size="40.50" font-weight="bold">0</text>
<text transform="translate(598.65,919.40) scale(0.9250,1)" font-size="40.50" font-weight="bold">2</text>
<text transform="translate(694.95,919.40) scale(0.9250,1)" font-size="40.50" font-weight="bold">4</text>
<text transform="translate(791.81,919.40) scale(0.9250,1)" font-size="40.50" font-weight="bold">6</text>
<text transform="translate(77.84,576.60) scale(0.9250,1)" font-size="40.50" font-weight="bold">40</text>
<text transform="translate(77.84,656.25) scale(0.9250,1)" font-size="40.50" font-weight="bold">20</text>
<text transform="translate(98.82,735.90) scale(0.9250,1)" font-size="40.50" font-weight="bold">0</text>
<text transform="translate(65.48,815.55) scale(0.9250,1)" font-size="40.50" font-weight="bold">-20</text>
<text transform="translate(65.48,895.20) scale(0.9250,1)" font-size="40.50" font-weight="bold">-40</text>
<text transform="translate(151.84,847.05) scale(0.9700,1)" font-size="38.40" font-weight="bold">(b)</text>
<text transform="translate(522.16,844.70) scale(0.9298,1)" font-size="46.67" font-weight="bold" fill="#000">E</text>
<text transform="translate(550.00,862.10) scale(1.1043,1)" font-size="45.28" font-weight="normal" fill="#000">f</text>
<text transform="translate(363.96,992.60) scale(0.8998,1)" font-size="40.40" font-weight="bold">Energy (eV)</text>
<text transform="translate(34.40,885.30) rotate(-90) scale(0.9561,1) translate(-2.78,0)" font-size="39.71" font-weight="bold">DOS (states/cell)</text>
<rect x="622.7" y="565.9" width="174.0" height="63.0" fill="#fff" stroke="#3a3a3a" stroke-width="1.3"/>
<line x1="634.6" y1="605.1" x2="664.3" y2="605.1" stroke="#000" stroke-width="5.4" stroke-linecap="round"/>
<text transform="translate(669.06,609.70) scale(0.9314,1)" font-size="46.75" font-weight="bold">Ti<tspan dy="5.2">3</tspan><tspan dy="-5.2">Ru</tspan></text>
<clipPath id="cc"><rect x="124.6" y="1029.5" width="676.7" height="317.7"/></clipPath>
<line x1="511.3" y1="1029.5" x2="511.3" y2="1347.2" stroke="#000" stroke-width="1.1" stroke-dasharray="2.4,1.6"/>
<g clip-path="url(#cc)" fill="none" stroke-linejoin="round" stroke-linecap="round">
<path d="M124.6,1188.3C166.4,1187.9 208.2,1187.8 250.0,1187.1C258.5,1187.0 267.1,1186.3 275.6,1186.3C289.8,1186.3 304.0,1187.1 318.2,1187.1C329.6,1187.1 341.0,1187.1 352.4,1187.1C363.7,1187.1 375.1,1187.6 386.5,1187.6C397.9,1187.6 409.2,1187.1 420.6,1187.1C432.0,1187.1 443.4,1187.1 454.7,1187.1C476.4,1187.1 498.0,1188.3 519.6,1188.3C537.1,1188.3 554.6,1187.6 572.1,1187.6C589.5,1187.6 606.8,1187.6 624.2,1187.6C641.6,1187.6 658.9,1187.1 676.3,1187.1C699.5,1187.1 722.6,1187.9 745.8,1188.2C765.5,1188.4 785.1,1188.6 804.8,1188.9" stroke="#000000" stroke-width="4.2"/>
<path d="M124.6,1188.3C166.4,1188.3 208.2,1188.3 250.0,1188.3C267.1,1188.3 284.1,1189.7 301.2,1189.7C312.6,1189.7 323.9,1189.3 335.3,1189.3C338.7,1189.3 342.1,1190.5 345.5,1190.5C353.5,1190.5 361.5,1190.5 369.4,1190.5C380.8,1190.5 392.2,1190.0 403.6,1190.0C420.6,1190.0 437.7,1190.0 454.7,1190.0C463.8,1190.0 472.9,1191.4 482.0,1191.4C494.6,1191.4 507.1,1190.8 519.6,1190.5C537.1,1190.1 554.6,1189.6 572.1,1189.4C589.5,1189.1 606.8,1188.9 624.2,1188.9C641.6,1188.9 658.9,1188.9 676.3,1188.9C699.5,1188.9 722.6,1190.3 745.8,1190.3C765.5,1190.3 785.1,1189.7 804.8,1189.4" stroke="#000000" stroke-width="4.2"/>
<path d="M124.6,1188.3C166.4,1187.4 208.2,1187.2 250.0,1185.4C258.5,1185.0 267.1,1183.1 275.6,1182.8C281.3,1182.7 287.0,1182.5 292.7,1182.5C298.3,1182.5 304.0,1183.7 309.7,1183.7C314.3,1183.7 318.8,1183.7 323.4,1183.7C327.3,1183.7 331.3,1182.8 335.3,1182.8C338.7,1182.8 342.1,1183.2 345.5,1183.2C347.8,1183.2 350.1,1183.0 352.4,1182.8C354.6,1182.6 356.9,1180.3 359.2,1180.3C360.9,1180.3 362.6,1180.8 364.3,1181.1C367.2,1181.7 370.0,1182.8 372.8,1182.8C376.3,1182.8 379.7,1182.7 383.1,1182.5C385.9,1182.3 388.8,1181.6 391.6,1181.1C394.5,1180.6 397.3,1180.1 400.1,1179.4C403.0,1178.8 405.8,1177.4 408.7,1177.4C411.5,1177.4 414.4,1178.1 417.2,1178.1C419.5,1178.1 421.8,1177.4 424.0,1177.4C427.4,1177.4 430.9,1178.6 434.3,1178.9C437.7,1179.3 441.1,1179.6 444.5,1179.8C448.5,1180.0 452.5,1180.0 456.4,1180.3C458.7,1180.5 461.0,1182.3 463.3,1182.5C467.3,1182.9 471.2,1183.0 475.2,1183.2C479.8,1183.4 484.3,1183.5 488.9,1183.7C494.6,1183.9 500.2,1184.2 505.9,1184.6C510.5,1184.8 515.0,1185.4 519.6,1185.4C525.5,1185.4 531.4,1185.2 537.4,1185.0C543.2,1184.9 548.9,1184.8 554.7,1184.7C560.5,1184.6 566.3,1184.6 572.1,1184.5C577.9,1184.4 583.7,1183.3 589.5,1183.3C595.3,1183.3 601.0,1183.3 606.8,1183.3C612.6,1183.3 618.4,1183.7 624.2,1183.7C630.0,1183.7 635.8,1182.8 641.6,1182.4C647.4,1182.1 653.1,1181.6 658.9,1181.6C664.7,1181.6 670.5,1181.6 676.3,1181.6C682.1,1181.6 687.9,1181.8 693.7,1181.9C699.5,1182.0 705.2,1182.0 711.0,1182.1C716.8,1182.2 722.6,1182.4 728.4,1182.4C734.2,1182.4 740.0,1182.4 745.8,1182.4C751.6,1182.4 757.4,1183.1 763.1,1183.3C768.9,1183.5 774.7,1183.5 780.5,1183.7C788.6,1183.8 796.7,1184.0 804.8,1184.2" stroke="#0000ff" stroke-width="5.0"/>
<path d="M124.6,1188.3C166.4,1188.1 208.2,1187.6 250.0,1187.6C258.5,1187.6 267.1,1188.3 275.6,1188.8C284.1,1189.3 292.7,1189.8 301.2,1190.5C306.9,1191.0 312.6,1191.4 318.2,1192.2C320.5,1192.6 322.8,1193.9 325.1,1193.9C327.3,1193.9 329.6,1191.4 331.9,1191.4C334.2,1191.4 336.4,1192.4 338.7,1193.1C341.6,1194.0 344.4,1196.5 347.3,1196.5C349.0,1196.5 350.7,1194.2 352.4,1193.1C354.6,1191.6 356.9,1188.8 359.2,1188.8C361.5,1188.8 363.7,1191.3 366.0,1192.2C368.3,1193.2 370.6,1194.8 372.8,1194.8C376.3,1194.8 379.7,1191.8 383.1,1191.4C387.1,1190.9 391.0,1190.7 395.0,1190.5C399.0,1190.3 403.0,1190.1 407.0,1190.0C411.5,1189.9 416.1,1189.7 420.6,1189.7C425.2,1189.7 429.7,1189.7 434.3,1189.7C438.3,1189.7 442.2,1189.7 446.2,1189.7C450.2,1189.7 454.2,1190.8 458.2,1191.4C462.7,1192.0 467.3,1192.3 471.8,1193.1C474.1,1193.5 476.4,1194.8 478.6,1194.8C482.0,1194.8 485.5,1193.1 488.9,1193.1C494.6,1193.1 500.2,1193.1 505.9,1193.1C510.5,1193.1 515.0,1193.9 519.6,1193.9C525.5,1193.9 531.4,1191.1 537.4,1191.1C543.2,1191.1 548.9,1192.9 554.7,1193.7C558.2,1194.2 561.7,1194.5 565.2,1195.1C568.0,1195.6 570.9,1195.9 573.8,1197.2C575.9,1198.1 577.9,1210.2 579.9,1210.2C581.4,1210.2 582.8,1199.1 584.3,1197.2C586.0,1194.9 587.7,1192.9 589.5,1192.9C591.2,1192.9 592.9,1194.4 594.7,1195.5C596.1,1196.4 597.6,1198.9 599.0,1198.9C600.5,1198.9 601.9,1195.1 603.4,1194.6C606.3,1193.6 609.2,1192.9 612.0,1192.9C616.1,1192.9 620.2,1193.5 624.2,1193.7C630.0,1194.1 635.8,1194.6 641.6,1194.6C646.2,1194.6 650.8,1194.6 655.5,1194.6C658.4,1194.6 661.3,1194.6 664.1,1194.6C666.5,1194.6 668.8,1192.4 671.1,1192.0C675.7,1191.1 680.4,1190.3 685.0,1190.3C690.8,1190.3 696.6,1191.6 702.4,1192.0C708.1,1192.4 713.9,1192.9 719.7,1192.9C725.5,1192.9 731.3,1192.9 737.1,1192.9C741.1,1192.9 745.2,1194.6 749.2,1194.6C751.0,1194.6 752.7,1193.4 754.5,1192.9C757.4,1191.9 760.2,1190.3 763.1,1190.3C768.9,1190.3 774.7,1190.7 780.5,1191.1C784.0,1191.4 787.5,1192.4 790.9,1192.9C795.6,1193.5 800.2,1194.0 804.8,1194.6" stroke="#0000ff" stroke-width="5.0"/>
<path d="M124.6,1188.3C166.4,1187.9 208.2,1188.1 250.0,1187.1C253.4,1187.0 256.8,1186.8 260.2,1186.3C263.1,1185.8 265.9,1182.5 268.8,1180.3C271.6,1178.0 274.5,1173.7 277.3,1172.6C279.6,1171.7 281.8,1171.7 284.1,1170.9C285.8,1170.3 287.5,1168.3 289.2,1167.5C292.7,1165.9 296.1,1164.3 299.5,1164.1C302.3,1163.9 305.2,1163.9 308.0,1163.7C310.3,1163.6 312.6,1163.6 314.8,1163.2C316.5,1163.0 318.2,1159.4 320.0,1157.3C321.7,1155.1 323.4,1152.2 325.1,1150.4C327.3,1148.0 329.6,1144.5 331.9,1144.5C334.7,1144.5 337.6,1145.3 340.4,1146.2C342.1,1146.7 343.8,1147.8 345.5,1148.7C347.8,1150.0 350.1,1153.0 352.4,1153.0C353.8,1153.0 355.2,1148.9 356.6,1147.0C358.1,1145.2 359.5,1141.9 360.9,1141.9C362.6,1141.9 364.3,1144.4 366.0,1146.2C367.7,1147.9 369.4,1151.5 371.1,1153.0C372.8,1154.5 374.6,1156.4 376.3,1156.4C378.5,1156.4 380.8,1156.4 383.1,1156.4C385.4,1156.4 387.6,1153.4 389.9,1152.1C392.2,1150.9 394.5,1150.2 396.7,1148.7C398.4,1147.6 400.1,1145.9 401.9,1144.5C403.6,1143.0 405.3,1141.3 407.0,1140.2C408.7,1139.1 410.4,1138.2 412.1,1137.6C413.2,1137.3 414.4,1137.3 415.5,1136.8C416.6,1136.3 417.8,1133.4 418.9,1131.7C420.1,1130.0 421.2,1126.5 422.3,1126.5C424.0,1126.5 425.7,1129.4 427.4,1130.8C429.2,1132.2 430.9,1133.8 432.6,1135.1C434.3,1136.3 436.0,1138.5 437.7,1138.5C438.8,1138.5 440.0,1133.7 441.1,1131.7C442.8,1128.5 444.5,1125.8 446.2,1123.1C447.9,1120.4 449.6,1115.5 451.3,1115.5C452.5,1115.5 453.6,1118.8 454.7,1121.4C455.9,1124.1 457.0,1130.0 458.2,1133.4C459.3,1136.7 460.4,1141.2 461.6,1141.9C463.3,1143.0 465.0,1142.9 466.7,1143.6C468.4,1144.3 470.1,1145.3 471.8,1146.2C472.9,1146.7 474.1,1147.9 475.2,1147.9C476.4,1147.9 477.5,1141.1 478.6,1138.5C480.3,1134.5 482.0,1128.8 483.7,1128.2C485.5,1127.7 487.2,1127.4 488.9,1127.4C490.0,1127.4 491.1,1131.1 492.3,1133.4C493.7,1136.2 495.1,1141.6 496.5,1143.6C497.7,1145.2 498.8,1147.0 500.0,1147.0C501.4,1147.0 502.8,1139.3 504.2,1139.3C505.4,1139.3 506.5,1139.7 507.6,1140.2C509.1,1140.8 510.5,1146.3 511.9,1147.0C513.9,1148.0 515.9,1148.7 517.9,1148.7C519.6,1148.7 521.3,1148.7 523.0,1148.7C524.4,1148.7 525.8,1144.8 527.3,1141.9C527.7,1140.9 528.2,1138.5 528.7,1138.2C530.4,1136.9 532.2,1136.4 533.9,1136.4C536.8,1136.4 539.7,1136.4 542.6,1136.4C544.3,1136.4 546.1,1134.7 547.8,1132.9C548.9,1131.7 550.1,1129.2 551.3,1126.0C552.4,1122.8 553.6,1113.8 554.7,1110.4C555.9,1106.9 557.0,1102.5 558.2,1102.5C559.9,1102.5 561.7,1102.9 563.4,1103.4C564.9,1103.9 566.3,1106.0 567.8,1108.6C568.9,1110.7 570.1,1115.6 571.2,1120.8C572.1,1124.7 573.0,1131.7 573.8,1136.4C575.0,1142.8 576.2,1150.4 577.3,1153.8C579.0,1158.9 580.8,1161.5 582.5,1164.2C584.8,1167.8 587.2,1171.0 589.5,1172.9C591.8,1174.8 594.1,1176.9 596.4,1177.2C599.9,1177.8 603.4,1177.8 606.8,1178.1C610.3,1178.4 613.8,1178.5 617.3,1179.0C619.6,1179.3 621.9,1180.9 624.2,1181.6C626.5,1182.3 628.8,1183.3 631.1,1183.3C633.5,1183.3 635.8,1182.8 638.1,1182.4C641.6,1181.9 645.0,1180.7 648.5,1180.7C652.0,1180.7 655.5,1181.3 658.9,1181.6C664.7,1182.1 670.5,1182.9 676.3,1183.3C682.1,1183.7 687.9,1184.0 693.7,1184.2C699.5,1184.4 705.2,1184.5 711.0,1184.7C716.8,1184.9 722.6,1185.2 728.4,1185.4C734.2,1185.6 740.0,1185.7 745.8,1185.9C751.6,1186.1 757.4,1186.3 763.1,1186.4C768.9,1186.6 774.7,1186.6 780.5,1186.8C788.6,1187.0 796.7,1187.4 804.8,1187.6" stroke="#ff00ff" stroke-width="5.6"/>
<path d="M124.6,1188.3C166.4,1187.9 208.2,1187.1 250.0,1187.1C261.4,1187.1 272.7,1188.8 284.1,1189.7C292.1,1190.3 300.0,1190.5 308.0,1191.4C310.9,1191.7 313.7,1191.9 316.5,1193.1C317.7,1193.6 318.8,1199.9 320.0,1203.3C321.1,1206.7 322.2,1212.3 323.4,1213.6C325.1,1215.5 326.8,1217.0 328.5,1217.0C329.9,1217.0 331.3,1216.1 332.8,1216.1C333.6,1216.1 334.5,1222.2 335.3,1225.5C336.4,1229.8 337.6,1237.7 338.7,1239.2C339.9,1240.6 341.0,1241.7 342.1,1241.7C343.8,1241.7 345.5,1240.3 347.3,1238.3C348.4,1237.0 349.5,1231.0 350.7,1227.2C351.8,1223.4 352.9,1218.6 354.1,1215.3C355.2,1211.9 356.4,1206.7 357.5,1206.7C358.3,1206.7 359.2,1210.0 360.0,1213.6C360.9,1217.1 361.8,1230.6 362.6,1239.2C363.7,1250.5 364.9,1261.9 366.0,1273.3C367.2,1284.6 368.3,1303.7 369.4,1307.4C370.3,1310.2 371.1,1312.5 372.0,1312.5C372.8,1312.5 373.7,1299.0 374.6,1290.3C375.7,1278.8 376.8,1260.3 378.0,1247.7C378.8,1238.3 379.7,1227.0 380.5,1222.1C381.4,1217.2 382.2,1213.5 383.1,1211.9C384.8,1208.6 386.5,1206.5 388.2,1205.9C391.0,1204.8 393.9,1204.7 396.7,1204.2C398.4,1203.9 400.1,1203.8 401.9,1203.3C403.6,1202.8 405.3,1200.0 407.0,1198.2C408.7,1196.4 410.4,1192.6 412.1,1192.2C414.4,1191.7 416.6,1191.4 418.9,1191.4C421.2,1191.4 423.5,1192.4 425.7,1193.1C428.6,1194.0 431.4,1196.5 434.3,1196.5C436.5,1196.5 438.8,1194.7 441.1,1193.9C443.9,1193.0 446.8,1191.4 449.6,1191.4C452.5,1191.4 455.3,1191.9 458.2,1192.2C461.0,1192.5 463.8,1192.7 466.7,1193.1C469.0,1193.4 471.2,1193.9 473.5,1194.8C475.2,1195.5 476.9,1197.8 478.6,1199.9C479.8,1201.3 480.9,1205.0 482.0,1205.0C483.2,1205.0 484.3,1200.2 485.5,1198.2C486.6,1196.3 487.7,1193.6 488.9,1193.1C491.1,1192.0 493.4,1191.4 495.7,1191.4C499.1,1191.4 502.5,1191.4 505.9,1191.4C509.3,1191.4 512.8,1191.7 516.2,1192.2C518.4,1192.6 520.7,1193.7 523.0,1194.8C524.3,1195.4 525.6,1196.3 526.9,1197.2C528.7,1198.4 530.4,1199.6 532.2,1201.5C533.6,1203.1 535.1,1208.5 536.5,1208.5C537.9,1208.5 539.4,1202.4 540.8,1202.4C543.7,1202.4 546.6,1204.1 549.5,1204.1C552.4,1204.1 555.3,1199.9 558.2,1198.9C560.5,1198.1 562.8,1197.2 565.2,1197.2C567.5,1197.2 569.8,1198.0 572.1,1199.8C573.3,1200.7 574.4,1210.8 575.6,1216.3C577.0,1223.2 578.5,1237.1 579.9,1237.1C581.1,1237.1 582.2,1225.2 583.4,1219.8C584.8,1213.0 586.3,1200.7 587.7,1200.7C588.9,1200.7 590.0,1204.0 591.2,1207.6C592.4,1211.3 593.5,1227.2 594.7,1233.7C595.8,1240.2 597.0,1249.3 598.2,1249.3C599.3,1249.3 600.5,1237.1 601.6,1231.9C602.8,1226.8 603.9,1218.0 605.1,1218.0C606.5,1218.0 608.0,1218.6 609.4,1219.8C610.3,1220.5 611.2,1230.2 612.0,1230.2C614.4,1230.2 616.7,1228.5 619.0,1228.5C620.7,1228.5 622.5,1231.9 624.2,1231.9C625.7,1231.9 627.1,1222.4 628.5,1222.4C630.6,1222.4 632.6,1223.5 634.6,1225.0C636.4,1226.3 638.1,1232.7 639.8,1237.1C641.3,1240.8 642.7,1246.0 644.2,1249.3C645.0,1251.3 645.9,1254.5 646.8,1254.5C647.9,1254.5 649.1,1246.9 650.3,1244.1C651.7,1240.6 653.1,1237.2 654.6,1235.4C656.6,1232.9 658.6,1231.7 660.7,1230.2C662.4,1228.9 664.1,1228.2 665.9,1226.7C668.2,1224.7 670.5,1220.6 672.8,1218.0C675.1,1215.5 677.5,1211.1 679.8,1211.1C681.2,1211.1 682.7,1211.9 684.1,1212.8C685.6,1213.8 687.0,1218.9 688.5,1221.5C690.2,1224.7 691.9,1227.0 693.7,1230.2C695.4,1233.4 697.1,1237.1 698.9,1240.6C700.6,1244.1 702.4,1247.1 704.1,1251.0C705.8,1255.0 707.6,1258.8 709.3,1264.9C710.5,1269.0 711.6,1277.2 712.8,1282.3C713.6,1286.1 714.5,1292.7 715.4,1292.7C716.5,1292.7 717.7,1283.9 718.9,1280.6C720.3,1276.4 721.7,1273.3 723.2,1270.1C724.9,1266.3 726.7,1263.5 728.4,1259.7C730.1,1256.0 731.9,1248.5 733.6,1247.6C735.6,1246.5 737.7,1246.9 739.7,1245.8C741.1,1245.0 742.6,1233.6 744.0,1231.9C745.8,1230.0 747.5,1230.0 749.2,1228.5C751.0,1226.9 752.7,1221.5 754.5,1221.5C756.5,1221.5 758.5,1222.4 760.5,1222.4C762.6,1222.4 764.6,1217.1 766.6,1214.6C768.9,1211.6 771.2,1209.1 773.6,1205.9C775.3,1203.5 777.0,1198.6 778.8,1198.1C780.5,1197.5 782.2,1197.2 784.0,1197.2C785.7,1197.2 787.5,1202.0 789.2,1204.1C791.2,1206.6 793.2,1211.1 795.3,1211.1C798.5,1211.1 801.6,1203.0 804.8,1198.9" stroke="#ff00ff" stroke-width="5.6"/>
</g>
<rect x="124.6" y="1029.5" width="676.7" height="317.7" fill="none" stroke="#000" stroke-width="2.5"/>
<path d="M172.9,1347.2v-2.0M172.9,1029.5v2.0M221.3,1347.2v-6.5M221.3,1029.5v6.5M269.6,1347.2v-2.0M269.6,1029.5v2.0M317.9,1347.2v-6.5M317.9,1029.5v6.5M366.3,1347.2v-2.0M366.3,1029.5v2.0M414.6,1347.2v-6.5M414.6,1029.5v6.5M462.9,1347.2v-2.0M462.9,1029.5v2.0M511.3,1347.2v-6.5M511.3,1029.5v6.5M559.6,1347.2v-2.0M559.6,1029.5v2.0M608.0,1347.2v-6.5M608.0,1029.5v6.5M656.3,1347.2v-2.0M656.3,1029.5v2.0M704.6,1347.2v-6.5M704.6,1029.5v6.5M753.0,1347.2v-2.0M753.0,1029.5v2.0M124.6,1307.5h2.0M801.3,1307.5h-2.0M124.6,1267.8h6.5M801.3,1267.8h-6.5M124.6,1228.1h2.0M801.3,1228.1h-2.0M124.6,1188.3h6.5M801.3,1188.3h-6.5M124.6,1148.6h2.0M801.3,1148.6h-2.0M124.6,1108.9h6.5M801.3,1108.9h-6.5M124.6,1069.2h2.0M801.3,1069.2h-2.0" stroke="#000" stroke-width="2.2" fill="none"/>
<text transform="translate(108.74,1381.30) scale(0.9250,1)" font-size="40.50" font-weight="bold">-8</text>
<text transform="translate(205.60,1381.30) scale(0.9250,1)" font-size="40.50" font-weight="bold">-6</text>
<text transform="translate(301.71,1381.30) scale(0.9250,1)" font-size="40.50" font-weight="bold">-4</text>
<text transform="translate(398.94,1381.30) scale(0.9250,1)" font-size="40.50" font-weight="bold">-2</text>
<text transform="translate(501.80,1381.30) scale(0.9250,1)" font-size="40.50" font-weight="bold">0</text>
<text transform="translate(598.65,1381.30) scale(0.9250,1)" font-size="40.50" font-weight="bold">2</text>
<text transform="translate(694.95,1381.30) scale(0.9250,1)" font-size="40.50" font-weight="bold">4</text>
<text transform="translate(791.81,1381.30) scale(0.9250,1)" font-size="40.50" font-weight="bold">6</text>
<text transform="translate(77.84,1039.40) scale(0.9250,1)" font-size="40.50" font-weight="bold">40</text>
<text transform="translate(77.84,1118.83) scale(0.9250,1)" font-size="40.50" font-weight="bold">20</text>
<text transform="translate(98.82,1198.25) scale(0.9250,1)" font-size="40.50" font-weight="bold">0</text>
<text transform="translate(65.48,1277.67) scale(0.9250,1)" font-size="40.50" font-weight="bold">-20</text>
<text transform="translate(65.48,1357.10) scale(0.9250,1)" font-size="40.50" font-weight="bold">-40</text>
<text transform="translate(157.34,1325.85) scale(0.9700,1)" font-size="38.40" font-weight="bold">(c)</text>
<text transform="translate(523.96,1308.90) scale(0.9357,1)" font-size="46.38" font-weight="bold" fill="#000">E</text>
<text transform="translate(551.80,1326.30) scale(1.1111,1)" font-size="45.00" font-weight="normal" fill="#000">f</text>
<text transform="translate(371.86,1460.80) scale(0.8998,1)" font-size="40.40" font-weight="bold">Energy (eV)</text>
<text transform="translate(31.40,1356.50) rotate(-90) scale(0.9561,1) translate(-2.78,0)" font-size="39.71" font-weight="bold">DOS (states/cell)</text>
<rect x="634.4" y="1028.8" width="163.2" height="63.3" fill="#fff" stroke="#3a3a3a" stroke-width="1.3"/>
<line x1="645.6" y1="1067.6" x2="675.3" y2="1067.6" stroke="#000" stroke-width="5.4" stroke-linecap="round"/>
<text transform="translate(679.77,1072.00) scale(0.9246,1)" font-size="46.75" font-weight="bold">V<tspan dy="5.2">3</tspan><tspan dy="-5.2">Ru</tspan></text>
<clipPath id="cd"><rect x="124.6" y="1491.2" width="676.7" height="318.8"/></clipPath>
<line x1="511.3" y1="1491.2" x2="511.3" y2="1810.0" stroke="#000" stroke-width="1.1" stroke-dasharray="2.4,1.6"/>
<g clip-path="url(#cd)" fill="none" stroke-linejoin="round" stroke-linecap="round">
<path d="M124.6,1650.6C149.7,1649.4 174.9,1647.1 200.0,1647.1C218.3,1647.1 236.6,1647.5 254.8,1648.0C273.1,1648.4 291.4,1649.9 309.7,1650.2C328.0,1650.5 346.3,1650.7 364.5,1650.7C370.6,1650.7 376.7,1648.9 382.8,1648.9C401.1,1648.9 419.4,1648.9 437.7,1648.9C453.5,1648.9 469.3,1649.4 485.2,1650.2C486.8,1650.2 488.4,1650.5 490.0,1650.5C502.8,1650.5 515.6,1647.6 528.4,1647.6C541.2,1647.6 554.0,1648.2 566.8,1648.6C579.6,1649.0 592.4,1650.1 605.2,1650.5C618.0,1650.9 630.8,1651.5 643.6,1651.5C656.3,1651.5 669.1,1650.5 681.9,1650.5C694.7,1650.5 707.5,1650.5 720.3,1650.5C729.3,1650.5 738.2,1650.0 747.2,1648.6C749.8,1648.2 752.3,1641.9 754.9,1641.9C757.4,1641.9 760.0,1641.9 762.6,1641.9C766.4,1641.9 770.2,1643.4 774.1,1643.8C784.3,1644.8 794.5,1645.1 804.8,1645.7" stroke="#000000" stroke-width="4.2"/>
<path d="M124.6,1650.6C149.7,1650.9 174.9,1651.2 200.0,1651.6C218.3,1652.0 236.6,1652.9 254.8,1653.1C273.1,1653.3 291.4,1653.2 309.7,1653.5C313.3,1653.5 317.0,1656.2 320.7,1656.2C335.3,1656.2 349.9,1654.2 364.5,1653.5C376.7,1652.9 388.9,1652.0 401.1,1652.0C429.1,1652.0 457.2,1652.5 485.2,1652.5C486.8,1652.5 488.4,1652.4 490.0,1652.4C502.8,1652.4 515.6,1653.4 528.4,1653.4C541.2,1653.4 554.0,1652.4 566.8,1652.4C579.6,1652.4 592.4,1652.4 605.2,1652.4C618.0,1652.4 630.8,1653.4 643.6,1653.4C656.3,1653.4 669.1,1652.1 681.9,1652.1C694.7,1652.1 707.5,1652.3 720.3,1652.4C733.1,1652.6 745.9,1653.4 758.7,1653.4C774.1,1653.4 789.4,1653.4 804.8,1653.4" stroke="#000000" stroke-width="4.2"/>
<path d="M124.6,1650.6C149.7,1649.4 174.9,1647.7 200.0,1647.1C215.2,1646.6 230.5,1646.8 245.7,1646.1C248.8,1646.0 251.8,1644.7 254.8,1644.7C260.9,1644.7 267.0,1645.0 273.1,1645.2C279.2,1645.5 285.3,1645.8 291.4,1646.1C297.5,1646.4 303.6,1647.1 309.7,1647.1C315.8,1647.1 321.9,1647.1 328.0,1647.1C334.1,1647.1 340.2,1647.4 346.3,1647.4C351.1,1647.4 356.0,1646.9 360.9,1646.1C363.3,1645.8 365.8,1644.0 368.2,1643.4C370.6,1642.8 373.1,1642.1 375.5,1642.1C377.9,1642.1 380.4,1643.9 382.8,1644.3C387.7,1645.2 392.6,1646.1 397.4,1646.1C401.1,1646.1 404.8,1644.3 408.4,1644.3C412.1,1644.3 415.7,1644.6 419.4,1644.7C423.0,1644.8 426.7,1644.9 430.3,1644.9C433.4,1644.9 436.4,1642.9 439.5,1642.9C442.5,1642.9 445.6,1644.6 448.6,1645.2C452.3,1646.0 455.9,1646.7 459.6,1647.1C464.5,1647.5 469.3,1648.0 474.2,1648.0C477.9,1648.0 481.5,1645.8 485.2,1645.8C486.8,1645.8 488.4,1646.7 490.0,1646.7C496.4,1646.7 502.8,1645.4 509.2,1644.8C515.6,1644.1 522.0,1643.1 528.4,1642.8C534.8,1642.6 541.2,1642.5 547.6,1642.5C554.0,1642.5 560.4,1644.1 566.8,1644.8C573.2,1645.5 579.6,1646.3 586.0,1646.7C592.4,1647.1 598.8,1647.6 605.2,1647.6C611.6,1647.6 618.0,1644.4 624.4,1644.4C630.8,1644.4 637.2,1644.9 643.6,1645.1C649.9,1645.4 656.3,1645.7 662.7,1645.7C669.1,1645.7 675.5,1645.7 681.9,1645.7C688.3,1645.7 694.7,1645.7 701.1,1645.7C707.5,1645.7 713.9,1646.4 720.3,1646.7C726.7,1647.0 733.1,1647.6 739.5,1647.6C743.4,1647.6 747.2,1647.4 751.0,1647.1C753.6,1646.8 756.2,1644.4 758.7,1644.4C765.1,1644.4 771.5,1644.7 777.9,1644.8C786.9,1644.9 795.8,1645.0 804.8,1645.1" stroke="#0000ff" stroke-width="5.0"/>
<path d="M124.6,1650.6C149.7,1650.8 174.9,1650.9 200.0,1651.3C215.2,1651.5 230.5,1651.9 245.7,1652.5C254.8,1652.9 264.0,1653.8 273.1,1654.4C282.3,1655.0 291.4,1655.6 300.5,1656.2C304.8,1656.5 309.1,1656.8 313.3,1657.1C316.4,1657.4 319.4,1658.0 322.5,1658.0C324.9,1658.0 327.4,1655.2 329.8,1654.4C332.2,1653.6 334.7,1652.5 337.1,1652.5C339.5,1652.5 342.0,1655.2 344.4,1656.2C346.9,1657.2 349.3,1658.9 351.7,1658.9C354.2,1658.9 356.6,1656.9 359.0,1656.2C361.5,1655.5 363.9,1654.4 366.4,1654.4C368.2,1654.4 370.0,1658.9 371.8,1658.9C373.7,1658.9 375.5,1658.9 377.3,1658.9C379.2,1658.9 381.0,1657.7 382.8,1657.5C388.9,1656.7 395.0,1656.6 401.1,1656.2C407.2,1655.8 413.3,1655.3 419.4,1655.3C425.5,1655.3 431.6,1655.3 437.7,1655.3C443.8,1655.3 449.8,1655.9 455.9,1656.2C462.0,1656.5 468.1,1656.7 474.2,1657.1C477.9,1657.4 481.5,1658.6 485.2,1658.6C486.8,1658.6 488.4,1654.4 490.0,1654.4C496.4,1654.4 502.8,1654.8 509.2,1655.3C515.6,1655.8 522.0,1656.6 528.4,1658.2C530.9,1658.8 533.5,1662.0 536.1,1662.0C539.9,1662.0 543.7,1660.1 547.6,1660.1C551.4,1660.1 555.3,1662.0 559.1,1662.0C562.9,1662.0 566.8,1659.2 570.6,1659.2C574.5,1659.2 578.3,1659.6 582.1,1660.1C586.0,1660.6 589.8,1661.7 593.6,1663.0C596.8,1664.1 600.0,1667.8 603.2,1667.8C605.2,1667.8 607.1,1661.8 609.0,1660.1C611.6,1657.9 614.1,1655.3 616.7,1655.3C618.6,1655.3 620.5,1659.2 622.4,1659.2C625.6,1659.2 628.8,1654.4 632.0,1654.4C635.9,1654.4 639.7,1657.2 643.6,1657.2C646.7,1657.2 649.9,1654.4 653.1,1654.4C659.5,1654.4 665.9,1655.3 672.3,1655.3C678.7,1655.3 685.1,1654.0 691.5,1654.0C697.9,1654.0 704.3,1654.1 710.7,1654.4C717.1,1654.6 723.5,1655.6 729.9,1656.3C733.1,1656.6 736.3,1656.9 739.5,1657.2C742.7,1657.6 745.9,1658.2 749.1,1658.2C751.0,1658.2 753.0,1653.9 754.9,1653.4C759.4,1652.2 763.8,1651.5 768.3,1651.5C772.8,1651.5 777.3,1652.4 781.7,1653.4C784.9,1654.1 788.1,1658.2 791.3,1658.2C795.8,1658.2 800.3,1657.2 804.8,1656.7" stroke="#0000ff" stroke-width="5.0"/>
<path d="M124.6,1650.6C149.7,1650.6 174.9,1650.7 200.0,1650.7C214.0,1650.7 228.0,1650.4 242.0,1648.9C243.9,1648.7 245.7,1643.4 247.5,1640.7C250.0,1637.0 252.4,1630.4 254.8,1629.7C256.7,1629.2 258.5,1629.3 260.3,1628.8C262.8,1628.1 265.2,1623.7 267.6,1623.3C270.7,1622.7 273.7,1622.8 276.8,1622.4C280.4,1621.9 284.1,1619.6 287.8,1619.6C289.6,1619.6 291.4,1620.5 293.2,1620.5C295.1,1620.5 296.9,1617.1 298.7,1615.1C301.2,1612.4 303.6,1606.6 306.0,1605.9C307.9,1605.4 309.7,1605.0 311.5,1605.0C313.3,1605.0 315.2,1606.8 317.0,1606.8C318.5,1606.8 320.0,1599.1 321.6,1596.8C323.1,1594.4 324.6,1591.7 326.1,1591.3C328.3,1590.7 330.4,1590.4 332.5,1590.4C334.1,1590.4 335.6,1597.2 337.1,1600.4C338.9,1604.3 340.8,1608.1 342.6,1611.4C344.4,1614.7 346.3,1618.3 348.1,1620.5C349.3,1622.0 350.5,1624.2 351.7,1624.2C353.6,1624.2 355.4,1621.7 357.2,1619.6C358.4,1618.2 359.7,1616.3 360.9,1613.2C362.1,1610.2 363.3,1602.3 364.5,1596.8C365.8,1591.3 367.0,1583.0 368.2,1580.3C369.7,1577.0 371.2,1573.9 372.8,1573.9C374.3,1573.9 375.8,1577.7 377.3,1580.3C379.2,1583.5 381.0,1591.9 382.8,1593.1C384.3,1594.1 385.9,1595.0 387.4,1595.0C389.5,1595.0 391.7,1590.3 393.8,1587.6C395.6,1585.4 397.4,1584.3 399.3,1580.3C400.5,1577.7 401.7,1566.4 402.9,1562.0C404.1,1557.7 405.4,1552.0 406.6,1552.0C407.8,1552.0 409.0,1554.8 410.2,1557.5C411.5,1560.2 412.7,1571.0 413.9,1573.0C415.1,1575.0 416.3,1576.7 417.6,1576.7C419.4,1576.7 421.2,1575.8 423.0,1574.8C424.6,1574.0 426.1,1568.4 427.6,1568.4C429.1,1568.4 430.7,1576.4 432.2,1578.5C434.0,1581.0 435.8,1581.3 437.7,1584.0C438.9,1585.8 440.1,1589.4 441.3,1593.1C442.8,1597.8 444.4,1607.1 445.9,1611.4C447.4,1615.7 448.9,1619.5 450.5,1621.5C452.6,1624.2 454.7,1626.9 456.9,1626.9C459.0,1626.9 461.1,1623.6 463.3,1620.5C465.1,1617.9 466.9,1606.8 468.7,1606.8C470.0,1606.8 471.2,1606.8 472.4,1606.8C473.9,1606.8 475.4,1613.2 477.0,1613.2C478.8,1613.2 480.6,1593.1 482.4,1593.1C484.0,1593.1 485.5,1593.1 487.0,1593.1C488.5,1593.1 490.1,1593.1 491.6,1593.1C492.8,1593.1 494.0,1601.3 495.2,1605.9C496.1,1609.0 496.9,1614.2 497.7,1616.0C499.6,1620.1 501.5,1623.6 503.4,1623.6C505.4,1623.6 507.3,1621.3 509.2,1619.8C511.8,1617.8 514.3,1614.5 516.9,1612.1C519.4,1609.7 522.0,1608.0 524.5,1605.4C526.5,1603.5 528.4,1598.7 530.3,1598.7C531.9,1598.7 533.5,1601.6 535.1,1604.5C536.7,1607.3 538.3,1618.6 539.9,1621.7C541.8,1625.5 543.7,1627.7 545.7,1629.4C548.2,1631.6 550.8,1633.0 553.3,1634.2C555.9,1635.4 558.5,1636.6 561.0,1637.1C563.6,1637.6 566.1,1637.5 568.7,1638.0C570.6,1638.5 572.5,1641.4 574.5,1642.8C576.4,1644.3 578.3,1646.5 580.2,1646.7C583.4,1646.9 586.6,1647.1 589.8,1647.1C593.0,1647.1 596.2,1646.9 599.4,1646.7C602.0,1646.5 604.5,1644.7 607.1,1643.8C609.0,1643.1 610.9,1641.9 612.8,1641.9C615.4,1641.9 618.0,1642.5 620.5,1642.8C624.4,1643.3 628.2,1643.9 632.0,1644.4C635.9,1644.9 639.7,1645.4 643.6,1645.7C649.9,1646.2 656.3,1646.5 662.7,1646.7C669.1,1646.9 675.5,1646.9 681.9,1647.1C688.3,1647.2 694.7,1647.4 701.1,1647.6C707.5,1647.8 713.9,1648.0 720.3,1648.2C726.7,1648.4 733.1,1648.7 739.5,1649.0C742.7,1649.1 745.9,1649.6 749.1,1649.6C751.7,1649.6 754.2,1648.0 756.8,1647.6C760.6,1647.1 764.5,1646.7 768.3,1646.7C774.7,1646.7 781.1,1647.6 787.5,1647.6C793.3,1647.6 799.0,1647.6 804.8,1647.6" stroke="#ff00ff" stroke-width="5.6"/>
<path d="M124.6,1650.6C149.7,1650.8 174.9,1651.3 200.0,1651.3C218.3,1651.3 236.6,1650.7 254.8,1650.7C267.0,1650.7 279.2,1651.1 291.4,1651.6C297.5,1651.9 303.6,1652.2 309.7,1653.5C312.1,1654.0 314.6,1658.9 317.0,1660.8C319.4,1662.6 321.9,1665.3 324.3,1665.3C326.8,1665.3 329.2,1664.5 331.6,1663.5C333.5,1662.7 335.3,1657.1 337.1,1657.1C338.6,1657.1 340.2,1658.9 341.7,1660.8C343.2,1662.6 344.7,1667.3 346.3,1671.7C348.1,1677.0 349.9,1686.6 351.7,1691.8C353.6,1697.1 355.4,1704.6 357.2,1704.6C359.7,1704.6 362.1,1701.0 364.5,1701.0C365.8,1701.0 367.0,1712.4 368.2,1721.1C369.4,1729.7 370.6,1748.6 371.8,1757.7C372.8,1764.4 373.7,1774.1 374.6,1774.1C375.5,1774.1 376.4,1764.9 377.3,1757.7C378.5,1747.9 379.8,1724.7 381.0,1712.0C382.2,1699.2 383.4,1682.0 384.6,1679.0C386.5,1674.6 388.3,1673.1 390.1,1671.7C392.6,1669.9 395.0,1669.1 397.4,1668.1C399.9,1667.0 402.3,1666.1 404.8,1665.3C407.2,1664.6 409.6,1663.9 412.1,1663.5C414.5,1663.1 416.9,1663.1 419.4,1662.6C421.8,1662.1 424.3,1660.3 426.7,1658.9C429.1,1657.6 431.6,1654.4 434.0,1654.4C436.4,1654.4 438.9,1656.1 441.3,1657.1C443.8,1658.2 446.2,1660.8 448.6,1660.8C451.1,1660.8 453.5,1658.7 455.9,1658.0C459.0,1657.2 462.0,1656.5 465.1,1656.2C468.1,1655.9 471.2,1655.6 474.2,1655.6C477.9,1655.6 481.5,1656.2 485.2,1656.2C486.8,1656.2 488.4,1654.4 490.0,1654.4C492.6,1654.4 495.1,1655.3 497.7,1655.3C500.2,1655.3 502.8,1654.4 505.4,1654.4C508.6,1654.4 511.8,1654.4 515.0,1654.4C519.4,1654.4 523.9,1654.9 528.4,1655.3C532.2,1655.7 536.1,1656.4 539.9,1657.2C543.7,1658.1 547.6,1659.7 551.4,1661.1C554.0,1662.0 556.5,1662.6 559.1,1664.0C560.7,1664.8 562.3,1667.8 563.9,1667.8C565.5,1667.8 567.1,1663.2 568.7,1662.0C570.6,1660.7 572.5,1659.2 574.5,1659.2C577.0,1659.2 579.6,1660.2 582.1,1661.1C585.3,1662.1 588.5,1663.5 591.7,1665.9C593.6,1667.3 595.6,1670.4 597.5,1673.6C599.4,1676.7 601.3,1686.0 603.2,1686.0C605.2,1686.0 607.1,1675.6 609.0,1671.6C610.6,1668.3 612.2,1663.0 613.8,1663.0C615.1,1663.0 616.4,1669.4 617.6,1673.6C619.2,1678.7 620.8,1687.7 622.4,1692.7C623.4,1695.8 624.4,1700.4 625.3,1700.4C626.9,1700.4 628.5,1692.4 630.1,1688.9C631.4,1686.1 632.7,1681.2 634.0,1681.2C635.6,1681.2 637.2,1694.5 638.8,1696.6C640.4,1698.6 642.0,1699.0 643.6,1700.4C644.8,1701.6 646.1,1704.3 647.4,1704.3C648.7,1704.3 649.9,1695.4 651.2,1692.7C653.1,1688.8 655.1,1685.3 657.0,1684.1C658.6,1683.1 660.2,1682.2 661.8,1682.2C663.4,1682.2 665.0,1691.3 666.6,1696.6C668.2,1701.8 669.8,1708.0 671.4,1713.9C672.7,1718.6 673.9,1728.3 675.2,1728.3C676.2,1728.3 677.1,1723.2 678.1,1719.6C679.4,1714.9 680.7,1705.2 681.9,1700.4C683.2,1695.6 684.5,1690.4 685.8,1688.9C687.7,1686.7 689.6,1686.9 691.5,1685.1C692.8,1683.9 694.1,1681.0 695.4,1679.3C697.0,1677.2 698.6,1673.6 700.2,1673.6C701.8,1673.6 703.4,1681.6 705.0,1685.1C706.9,1689.3 708.8,1692.0 710.7,1696.6C712.6,1701.2 714.6,1710.3 716.5,1713.9C718.4,1717.4 720.3,1717.0 722.2,1721.5C723.5,1724.6 724.8,1739.4 726.1,1750.3C727.4,1761.3 728.6,1779.5 729.9,1788.7C730.7,1794.2 731.5,1802.1 732.2,1802.1C733.4,1802.1 734.5,1791.8 735.7,1784.9C737.0,1777.2 738.2,1765.0 739.5,1756.1C740.8,1747.2 742.1,1736.4 743.4,1731.1C744.6,1725.9 745.9,1721.5 747.2,1719.6C748.5,1717.7 749.8,1718.0 751.0,1715.8C752.3,1713.6 753.6,1699.3 754.9,1692.7C756.2,1686.2 757.4,1675.5 758.7,1675.5C760.0,1675.5 761.3,1675.5 762.6,1675.5C764.2,1675.5 765.8,1685.7 767.4,1687.0C768.6,1688.0 769.9,1688.9 771.2,1688.9C772.8,1688.9 774.4,1685.4 776.0,1683.1C777.9,1680.5 779.8,1673.6 781.7,1673.6C783.3,1673.6 784.9,1673.6 786.5,1673.6C788.1,1673.6 789.7,1682.9 791.3,1685.1C792.3,1686.4 793.3,1687.9 794.2,1687.9C797.7,1687.9 801.3,1673.2 804.8,1665.9" stroke="#ff00ff" stroke-width="5.6"/>
</g>
<rect x="124.6" y="1491.2" width="676.7" height="318.8" fill="none" stroke="#000" stroke-width="2.5"/>
<path d="M172.9,1810.0v-2.0M172.9,1491.2v2.0M221.3,1810.0v-6.5M221.3,1491.2v6.5M269.6,1810.0v-2.0M269.6,1491.2v2.0M317.9,1810.0v-6.5M317.9,1491.2v6.5M366.3,1810.0v-2.0M366.3,1491.2v2.0M414.6,1810.0v-6.5M414.6,1491.2v6.5M462.9,1810.0v-2.0M462.9,1491.2v2.0M511.3,1810.0v-6.5M511.3,1491.2v6.5M559.6,1810.0v-2.0M559.6,1491.2v2.0M608.0,1810.0v-6.5M608.0,1491.2v6.5M656.3,1810.0v-2.0M656.3,1491.2v2.0M704.6,1810.0v-6.5M704.6,1491.2v6.5M753.0,1810.0v-2.0M753.0,1491.2v2.0M124.6,1770.1h2.0M801.3,1770.1h-2.0M124.6,1730.3h6.5M801.3,1730.3h-6.5M124.6,1690.4h2.0M801.3,1690.4h-2.0M124.6,1650.6h6.5M801.3,1650.6h-6.5M124.6,1610.8h2.0M801.3,1610.8h-2.0M124.6,1570.9h6.5M801.3,1570.9h-6.5M124.6,1531.0h2.0M801.3,1531.0h-2.0" stroke="#000" stroke-width="2.2" fill="none"/>
<text transform="translate(108.74,1844.10) scale(0.9250,1)" font-size="40.50" font-weight="bold">-8</text>
<text transform="translate(205.60,1844.10) scale(0.9250,1)" font-size="40.50" font-weight="bold">-6</text>
<text transform="translate(301.71,1844.10) scale(0.9250,1)" font-size="40.50" font-weight="bold">-4</text>
<text transform="translate(398.94,1844.10) scale(0.9250,1)" font-size="40.50" font-weight="bold">-2</text>
<text transform="translate(501.80,1844.10) scale(0.9250,1)" font-size="40.50" font-weight="bold">0</text>
<text transform="translate(598.65,1844.10) scale(0.9250,1)" font-size="40.50" font-weight="bold">2</text>
<text transform="translate(694.95,1844.10) scale(0.9250,1)" font-size="40.50" font-weight="bold">4</text>
<text transform="translate(791.81,1844.10) scale(0.9250,1)" font-size="40.50" font-weight="bold">6</text>
<text transform="translate(77.84,1501.10) scale(0.9250,1)" font-size="40.50" font-weight="bold">40</text>
<text transform="translate(77.84,1580.80) scale(0.9250,1)" font-size="40.50" font-weight="bold">20</text>
<text transform="translate(98.82,1660.50) scale(0.9250,1)" font-size="40.50" font-weight="bold">0</text>
<text transform="translate(65.48,1740.20) scale(0.9250,1)" font-size="40.50" font-weight="bold">-20</text>
<text transform="translate(65.48,1819.90) scale(0.9250,1)" font-size="40.50" font-weight="bold">-40</text>
<text transform="translate(154.04,1781.45) scale(0.9700,1)" font-size="38.40" font-weight="bold">(d)</text>
<text transform="translate(522.16,1774.60) scale(0.9357,1)" font-size="46.38" font-weight="bold" fill="#000">E</text>
<text transform="translate(550.00,1792.00) scale(1.1111,1)" font-size="45.00" font-weight="normal" fill="#000">f</text>
<text transform="translate(387.76,1911.40) scale(0.8998,1)" font-size="40.40" font-weight="bold">Energy (eV)</text>
<text transform="translate(32.90,1799.80) rotate(-90) scale(0.9561,1) translate(-2.78,0)" font-size="39.71" font-weight="bold">DOS (states/cell)</text>
<rect x="613.3" y="1490.4" width="184.2" height="63.9" fill="#fff" stroke="#3a3a3a" stroke-width="1.3"/>
<line x1="625.4" y1="1529.5" x2="654.5" y2="1529.5" stroke="#000" stroke-width="5.4" stroke-linecap="round"/>
<text transform="translate(659.88,1534.10) scale(0.9222,1)" font-size="46.75" font-weight="bold">Cr<tspan dy="5.2">3</tspan><tspan dy="-5.2">Ru</tspan></text>
<clipPath id="ce"><rect x="124.6" y="1953.9" width="676.7" height="317.8"/></clipPath>
<line x1="511.3" y1="1953.9" x2="511.3" y2="2271.7" stroke="#000" stroke-width="1.1" stroke-dasharray="2.4,1.6"/>
<g clip-path="url(#ce)" fill="none" stroke-linejoin="round" stroke-linecap="round">
<path d="M124.6,2112.8C146.4,2112.1 168.2,2112.0 190.0,2110.6C196.3,2110.2 202.6,2109.1 208.9,2107.8C212.0,2107.1 215.2,2104.9 218.3,2104.9C221.5,2104.9 224.6,2105.6 227.8,2105.9C234.1,2106.5 240.4,2107.3 246.7,2107.8C259.3,2108.7 271.9,2109.0 284.4,2109.7C290.7,2110.0 297.0,2110.6 303.3,2110.6C309.6,2110.6 315.9,2110.6 322.2,2110.6C327.3,2110.6 332.3,2109.7 337.3,2109.7C344.9,2109.7 352.4,2113.4 360.0,2113.4C366.3,2113.4 372.6,2111.6 378.9,2111.6C385.2,2111.6 391.5,2112.6 397.8,2113.1C404.1,2113.5 410.4,2114.4 416.7,2114.4C423.0,2114.4 429.3,2113.5 435.6,2113.1C441.9,2112.6 448.2,2112.2 454.5,2111.6C459.5,2111.1 464.5,2110.7 469.6,2109.7C472.1,2109.2 474.6,2106.8 477.1,2106.8C479.6,2106.8 482.2,2109.4 484.7,2110.6C486.4,2111.5 488.2,2113.2 490.0,2113.2C502.8,2113.2 515.6,2112.9 528.4,2112.6C534.8,2112.5 541.2,2112.1 547.6,2112.1C554.0,2112.1 560.4,2113.2 566.8,2113.2C573.2,2113.2 579.6,2111.7 586.0,2111.7C589.8,2111.7 593.6,2111.7 597.5,2111.7C606.4,2111.7 615.4,2112.4 624.4,2112.6C637.2,2113.0 649.9,2113.6 662.7,2113.6C675.5,2113.6 688.3,2113.6 701.1,2113.6C709.4,2113.6 717.8,2110.4 726.1,2107.8C729.3,2106.9 732.5,2104.0 735.7,2104.0C738.9,2104.0 742.1,2105.4 745.3,2105.9C749.8,2106.7 754.2,2107.4 758.7,2107.8C774.1,2109.3 789.4,2109.8 804.8,2110.7" stroke="#000000" stroke-width="4.2"/>
<path d="M124.6,2112.8C146.4,2113.0 168.2,2113.1 190.0,2113.4C202.6,2113.7 215.2,2115.3 227.8,2115.3C240.4,2115.3 253.0,2115.3 265.6,2115.3C278.2,2115.3 290.7,2112.5 303.3,2112.5C309.6,2112.5 315.9,2113.1 322.2,2113.4C334.8,2114.1 347.4,2115.3 360.0,2115.3C372.6,2115.3 385.2,2115.3 397.8,2115.3C404.1,2115.3 410.4,2115.7 416.7,2115.7C429.3,2115.7 441.9,2114.1 454.5,2113.4C460.7,2113.1 467.0,2112.5 473.3,2112.5C478.4,2112.5 483.4,2115.0 488.5,2115.0C489.0,2115.0 489.5,2114.0 490.0,2114.0C502.8,2114.0 515.6,2114.0 528.4,2114.0C541.2,2114.0 554.0,2114.0 566.8,2114.0C579.6,2114.0 592.4,2113.6 605.2,2113.6C624.4,2113.6 643.6,2114.6 662.7,2114.6C675.5,2114.6 688.3,2114.6 701.1,2114.6C713.9,2114.6 726.7,2114.1 739.5,2114.0C761.3,2113.8 783.0,2113.7 804.8,2113.6" stroke="#000000" stroke-width="4.2"/>
<path d="M124.6,2112.8C146.4,2112.5 168.2,2112.5 190.0,2111.9C196.3,2111.8 202.6,2110.1 208.9,2109.7C215.2,2109.2 221.5,2109.2 227.8,2108.7C231.6,2108.4 235.3,2107.8 239.1,2106.8C241.3,2106.3 243.5,2104.0 245.7,2104.0C247.9,2104.0 250.1,2106.5 252.3,2106.8C256.7,2107.4 261.1,2107.5 265.6,2107.8C271.9,2108.2 278.2,2108.7 284.4,2108.7C290.7,2108.7 297.0,2106.8 303.3,2106.8C306.5,2106.8 309.6,2107.5 312.8,2107.8C315.9,2108.1 319.1,2108.7 322.2,2108.7C327.3,2108.7 332.3,2105.9 337.3,2105.9C339.9,2105.9 342.4,2109.4 344.9,2109.7C349.9,2110.3 355.0,2110.6 360.0,2110.6C365.0,2110.6 370.1,2110.2 375.1,2109.7C378.9,2109.3 382.7,2105.9 386.4,2105.9C390.2,2105.9 394.0,2107.8 397.8,2108.7C401.6,2109.6 405.3,2110.9 409.1,2111.2C414.8,2111.6 420.4,2111.9 426.1,2111.9C431.2,2111.9 436.2,2111.3 441.2,2110.6C444.4,2110.2 447.5,2108.0 450.7,2107.4C453.2,2106.9 455.7,2106.7 458.2,2106.3C461.4,2105.7 464.5,2105.3 467.7,2104.0C469.6,2103.2 471.5,2100.2 473.3,2097.4C474.9,2095.1 476.5,2087.9 478.1,2087.9C479.6,2087.9 481.2,2093.5 482.8,2096.4C484.7,2100.0 486.6,2107.7 488.5,2107.8C489.0,2107.8 489.5,2107.8 490.0,2107.8C493.2,2108.0 496.4,2110.0 499.6,2110.7C503.4,2111.5 507.3,2112.6 511.1,2112.6C514.3,2112.6 517.5,2112.2 520.7,2111.7C523.9,2111.2 527.1,2107.8 530.3,2107.8C534.1,2107.8 538.0,2107.8 541.8,2107.8C545.7,2107.8 549.5,2109.2 553.3,2109.8C557.8,2110.5 562.3,2111.7 566.8,2111.7C570.6,2111.7 574.5,2110.8 578.3,2109.8C581.5,2108.9 584.7,2104.0 587.9,2104.0C591.1,2104.0 594.3,2104.0 597.5,2104.0C600.0,2104.0 602.6,2104.8 605.2,2105.0C611.6,2105.4 618.0,2105.9 624.4,2105.9C630.8,2105.9 637.2,2105.9 643.6,2105.9C649.9,2105.9 656.3,2106.2 662.7,2106.3C669.1,2106.5 675.5,2106.6 681.9,2106.9C688.3,2107.1 694.7,2107.8 701.1,2107.8C707.5,2107.8 713.9,2107.8 720.3,2107.8C723.5,2107.8 726.7,2105.9 729.9,2105.9C733.1,2105.9 736.3,2105.9 739.5,2105.9C745.9,2105.9 752.3,2106.9 758.7,2106.9C765.1,2106.9 771.5,2106.9 777.9,2106.9C786.9,2106.9 795.8,2106.9 804.8,2106.9" stroke="#0000ff" stroke-width="5.0"/>
<path d="M124.6,2112.8C146.4,2113.0 168.2,2113.1 190.0,2113.4C202.6,2113.6 215.2,2114.1 227.8,2114.4C240.4,2114.7 253.0,2114.9 265.6,2115.3C278.2,2115.8 290.7,2118.2 303.3,2118.2C309.6,2118.2 315.9,2117.2 322.2,2117.2C328.5,2117.2 334.8,2117.2 341.1,2117.2C344.9,2117.2 348.7,2119.1 352.4,2119.1C355.0,2119.1 357.5,2117.6 360.0,2117.2C366.3,2116.3 372.6,2115.3 378.9,2115.3C382.7,2115.3 386.4,2115.3 390.2,2115.3C392.7,2115.3 395.3,2118.5 397.8,2119.1C404.1,2120.7 410.4,2121.9 416.7,2121.9C419.2,2121.9 421.7,2119.0 424.2,2118.2C428.0,2116.9 431.8,2115.3 435.6,2115.3C441.9,2115.3 448.2,2115.6 454.5,2116.3C457.0,2116.5 459.5,2120.1 462.0,2120.1C464.5,2120.1 467.0,2115.8 469.6,2115.3C472.7,2114.8 475.9,2114.4 479.0,2114.4C482.2,2114.4 485.3,2115.4 488.5,2117.2C489.0,2117.5 489.5,2118.7 490.0,2119.4C492.6,2122.6 495.1,2128.0 497.7,2128.0C500.2,2128.0 502.8,2124.2 505.4,2123.2C509.8,2121.4 514.3,2119.4 518.8,2119.4C522.0,2119.4 525.2,2119.4 528.4,2119.4C532.2,2119.4 536.1,2119.6 539.9,2120.3C541.8,2120.7 543.7,2127.7 545.7,2130.9C546.9,2133.0 548.2,2136.6 549.5,2136.6C551.4,2136.6 553.3,2133.0 555.3,2130.9C557.8,2128.0 560.4,2122.8 562.9,2121.3C565.5,2119.8 568.1,2119.2 570.6,2118.4C574.5,2117.2 578.3,2115.5 582.1,2115.5C586.0,2115.5 589.8,2119.4 593.6,2119.4C597.5,2119.4 601.3,2118.3 605.2,2117.4C608.4,2116.7 611.6,2114.6 614.8,2114.6C618.0,2114.6 621.2,2116.5 624.4,2116.5C627.6,2116.5 630.8,2115.5 634.0,2115.5C637.2,2115.5 640.4,2115.5 643.6,2115.5C649.9,2115.5 656.3,2116.2 662.7,2116.5C669.1,2116.8 675.5,2117.0 681.9,2117.4C684.5,2117.6 687.1,2118.4 689.6,2118.4C692.2,2118.4 694.7,2117.1 697.3,2117.1C701.8,2117.1 706.3,2117.2 710.7,2117.4C713.9,2117.6 717.1,2118.4 720.3,2118.4C726.7,2118.4 733.1,2117.8 739.5,2117.4C745.9,2117.1 752.3,2116.7 758.7,2116.5C765.1,2116.2 771.5,2116.0 777.9,2115.9C786.9,2115.7 795.8,2115.6 804.8,2115.5" stroke="#0000ff" stroke-width="5.0"/>
<path d="M124.6,2112.8C146.4,2112.5 168.2,2112.5 190.0,2111.9C195.0,2111.8 200.1,2111.6 205.1,2110.6C207.0,2110.2 208.9,2102.9 210.8,2100.2C212.7,2097.5 214.6,2094.0 216.4,2093.6C219.6,2093.0 222.7,2093.3 225.9,2092.7C227.8,2092.3 229.7,2085.7 231.6,2081.3C233.4,2077.0 235.3,2072.5 237.2,2066.2C238.8,2061.0 240.4,2052.4 241.9,2045.4C243.5,2038.5 245.1,2026.6 246.7,2024.7C247.9,2023.1 249.2,2021.8 250.4,2021.8C253.3,2021.8 256.1,2026.3 258.9,2030.3C261.1,2033.5 263.4,2040.7 265.6,2045.4C268.1,2050.8 270.6,2057.8 273.1,2060.6C274.7,2062.3 276.3,2064.3 277.8,2064.3C279.4,2064.3 281.0,2057.7 282.6,2053.0C284.4,2047.4 286.3,2034.2 288.2,2030.3C289.8,2027.1 291.4,2023.7 292.9,2023.7C294.5,2023.7 296.1,2030.7 297.7,2032.2C299.6,2034.1 301.4,2034.1 303.3,2036.0C305.9,2038.5 308.4,2052.1 310.9,2052.1C311.8,2052.1 312.8,2046.7 313.7,2041.7C314.7,2036.6 315.6,2023.6 316.6,2013.3C317.5,2003.0 318.4,1979.3 319.4,1979.3C320.3,1979.3 321.3,1980.1 322.2,1981.2C323.5,1982.7 324.7,2005.2 326.0,2009.6C327.3,2013.9 328.5,2018.1 329.8,2018.1C331.4,2018.1 332.9,2010.4 334.5,2003.9C335.8,1998.7 337.0,1980.3 338.3,1980.3C339.2,1980.3 340.2,1980.6 341.1,1981.2C342.1,1981.8 343.0,2003.7 343.9,2013.3C344.9,2023.0 345.8,2035.5 346.8,2039.8C348.4,2046.9 349.9,2047.6 351.5,2053.0C353.1,2058.4 354.7,2072.4 356.2,2073.8C357.5,2074.9 358.7,2075.7 360.0,2075.7C361.3,2075.7 362.5,2063.2 363.8,2060.6C365.4,2057.2 366.9,2053.9 368.5,2053.9C369.8,2053.9 371.0,2064.6 372.3,2070.0C373.9,2076.8 375.4,2085.8 377.0,2090.8C378.3,2094.8 379.5,2100.2 380.8,2100.2C382.7,2100.2 384.6,2100.2 386.4,2100.2C389.0,2100.2 391.5,2102.7 394.0,2104.0C397.2,2105.6 400.3,2108.0 403.4,2108.7C407.9,2109.7 412.3,2110.3 416.7,2110.6C421.7,2110.9 426.7,2111.2 431.8,2111.2C433.7,2111.2 435.6,2108.2 437.4,2105.9C440.0,2102.9 442.5,2099.4 445.0,2092.7C446.6,2088.5 448.2,2079.5 449.7,2070.0C451.0,2062.4 452.2,2039.8 453.5,2039.8C454.5,2039.8 455.4,2040.6 456.3,2041.7C457.6,2043.1 458.9,2061.3 460.1,2066.2C462.0,2073.6 463.9,2081.3 465.8,2081.3C467.0,2081.3 468.3,2079.5 469.6,2077.6C471.5,2074.6 473.3,2054.7 475.2,2051.1C476.5,2048.7 477.7,2046.4 479.0,2046.4C480.6,2046.4 482.2,2055.2 483.7,2060.6C485.3,2066.0 486.9,2074.8 488.5,2079.4C490.3,2085.1 492.2,2090.5 494.1,2092.7C496.6,2095.5 499.1,2096.4 501.5,2098.2C504.1,2100.2 506.6,2101.4 509.2,2104.0C511.1,2106.0 513.0,2112.6 515.0,2112.6C516.9,2112.6 518.8,2110.3 520.7,2107.8C522.6,2105.4 524.5,2095.2 526.5,2092.5C527.7,2090.7 529.0,2088.6 530.3,2088.6C532.9,2088.6 535.4,2092.4 538.0,2094.4C541.2,2096.9 544.4,2100.4 547.6,2102.1C550.8,2103.8 554.0,2105.1 557.2,2105.9C560.4,2106.8 563.6,2107.8 566.8,2107.8C570.0,2107.8 573.2,2107.8 576.4,2107.8C578.3,2107.8 580.2,2105.7 582.1,2105.0C584.0,2104.2 586.0,2103.0 587.9,2103.0C591.1,2103.0 594.3,2104.3 597.5,2105.0C601.3,2105.8 605.2,2107.3 609.0,2107.8C614.1,2108.6 619.2,2109.2 624.4,2109.4C630.8,2109.6 637.2,2109.6 643.6,2109.8C649.9,2109.9 656.3,2110.0 662.7,2110.1C669.1,2110.3 675.5,2110.5 681.9,2110.7C688.3,2110.9 694.7,2111.1 701.1,2111.3C707.5,2111.5 713.9,2111.8 720.3,2112.1C726.7,2112.3 733.1,2112.4 739.5,2112.6C745.9,2112.8 752.3,2113.0 758.7,2113.2C765.1,2113.4 771.5,2113.8 777.9,2114.0C786.9,2114.2 795.8,2114.4 804.8,2114.6" stroke="#ff00ff" stroke-width="5.6"/>
<path d="M124.6,2112.8C146.4,2113.0 168.2,2113.4 190.0,2113.4C208.9,2113.4 227.8,2113.4 246.7,2113.4C259.3,2113.4 271.9,2114.5 284.4,2115.3C290.7,2115.8 297.0,2117.2 303.3,2117.2C309.6,2117.2 315.9,2117.2 322.2,2117.2C328.5,2117.2 334.8,2117.5 341.1,2118.2C343.0,2118.4 344.9,2120.6 346.8,2122.9C348.7,2125.2 350.6,2133.1 352.4,2136.1C354.0,2138.6 355.6,2141.8 357.2,2141.8C359.1,2141.8 360.9,2136.6 362.8,2136.1C365.0,2135.6 367.2,2135.5 369.4,2135.2C372.0,2134.8 374.5,2134.8 377.0,2134.2C378.9,2133.8 380.8,2130.1 382.7,2128.6C384.9,2126.7 387.1,2123.8 389.3,2123.8C390.9,2123.8 392.4,2127.7 394.0,2130.4C395.9,2133.7 397.8,2142.1 399.7,2143.7C401.6,2145.2 403.4,2144.7 405.3,2146.5C406.6,2147.7 407.9,2159.3 409.1,2166.3C410.4,2173.4 411.6,2186.0 412.9,2189.0C414.2,2192.0 415.4,2194.7 416.7,2194.7C417.9,2194.7 419.2,2188.7 420.4,2183.3C421.7,2177.9 423.0,2164.1 424.2,2155.0C425.5,2145.9 426.7,2130.9 428.0,2128.6C429.9,2125.1 431.8,2122.9 433.7,2122.9C436.2,2122.9 438.7,2127.6 441.2,2128.6C443.7,2129.5 446.3,2130.4 448.8,2130.4C450.7,2130.4 452.6,2128.6 454.5,2128.6C455.7,2128.6 457.0,2136.5 458.2,2139.9C459.5,2143.3 460.7,2149.3 462.0,2149.3C463.3,2149.3 464.5,2140.8 465.8,2136.1C467.0,2131.4 468.3,2122.2 469.6,2121.0C472.1,2118.6 474.6,2117.2 477.1,2117.2C479.6,2117.2 482.2,2117.2 484.7,2117.2C486.6,2117.2 488.5,2122.1 490.3,2124.8C492.5,2127.8 494.6,2134.7 496.7,2134.7C499.0,2134.7 501.2,2129.8 503.4,2129.0C506.0,2128.0 508.6,2127.7 511.1,2127.0C513.7,2126.4 516.2,2125.7 518.8,2125.1C522.0,2124.4 525.2,2123.2 528.4,2123.2C532.2,2123.2 536.1,2123.7 539.9,2125.1C541.2,2125.6 542.5,2132.4 543.7,2138.6C545.0,2144.7 546.3,2160.1 547.6,2167.3C548.5,2172.8 549.5,2180.8 550.5,2180.8C552.1,2180.8 553.7,2179.2 555.3,2176.9C556.5,2175.1 557.8,2163.0 559.1,2157.7C560.4,2152.5 561.7,2145.4 562.9,2144.3C564.2,2143.2 565.5,2142.4 566.8,2142.4C568.7,2142.4 570.6,2154.9 572.5,2154.9C575.1,2154.9 577.7,2153.9 580.2,2153.9C582.1,2153.9 584.0,2158.0 586.0,2159.7C588.5,2161.9 591.1,2161.7 593.6,2165.4C594.9,2167.3 596.2,2181.6 597.5,2186.5C598.8,2191.5 600.0,2198.1 601.3,2198.1C602.6,2198.1 603.9,2184.8 605.2,2180.8C607.1,2174.8 609.0,2171.5 610.9,2167.3C612.8,2163.2 614.8,2155.8 616.7,2155.8C618.6,2155.8 620.5,2161.0 622.4,2165.4C624.0,2169.1 625.6,2182.7 627.2,2182.7C628.8,2182.7 630.4,2166.4 632.0,2166.4C633.3,2166.4 634.6,2167.7 635.9,2169.3C637.8,2171.6 639.7,2190.1 641.6,2192.3C643.6,2194.5 645.5,2194.1 647.4,2196.1C649.0,2197.8 650.6,2205.1 652.2,2207.6C653.8,2210.2 655.4,2213.4 657.0,2213.4C658.6,2213.4 660.2,2205.7 661.8,2205.7C663.4,2205.7 665.0,2209.6 666.6,2209.6C667.9,2209.6 669.1,2186.9 670.4,2180.8C671.7,2174.7 673.0,2170.6 674.3,2167.3C675.9,2163.2 677.5,2157.7 679.1,2157.7C680.7,2157.7 682.3,2165.6 683.9,2169.3C685.1,2172.2 686.4,2177.9 687.7,2177.9C689.3,2177.9 690.9,2164.6 692.5,2157.7C694.1,2150.9 695.7,2142.3 697.3,2136.6C698.9,2130.9 700.5,2122.2 702.1,2122.2C703.7,2122.2 705.3,2122.7 706.9,2123.2C709.4,2124.0 712.0,2134.7 714.6,2134.7C716.5,2134.7 718.4,2130.4 720.3,2129.0C722.9,2127.0 725.4,2125.1 728.0,2124.2C731.8,2122.7 735.7,2122.0 739.5,2121.3C743.4,2120.5 747.2,2120.0 751.0,2119.4C754.9,2118.7 758.7,2117.8 762.6,2117.4C767.7,2117.0 772.8,2116.7 777.9,2116.5C786.9,2116.1 795.8,2115.8 804.8,2115.5" stroke="#ff00ff" stroke-width="5.6"/>
</g>
<rect x="124.6" y="1953.9" width="676.7" height="317.8" fill="none" stroke="#000" stroke-width="2.5"/>
<path d="M172.9,2271.7v-2.0M172.9,1953.9v2.0M221.3,2271.7v-6.5M221.3,1953.9v6.5M269.6,2271.7v-2.0M269.6,1953.9v2.0M317.9,2271.7v-6.5M317.9,1953.9v6.5M366.3,2271.7v-2.0M366.3,1953.9v2.0M414.6,2271.7v-6.5M414.6,1953.9v6.5M462.9,2271.7v-2.0M462.9,1953.9v2.0M511.3,2271.7v-6.5M511.3,1953.9v6.5M559.6,2271.7v-2.0M559.6,1953.9v2.0M608.0,2271.7v-6.5M608.0,1953.9v6.5M656.3,2271.7v-2.0M656.3,1953.9v2.0M704.6,2271.7v-6.5M704.6,1953.9v6.5M753.0,2271.7v-2.0M753.0,1953.9v2.0M124.6,2232.0h2.0M801.3,2232.0h-2.0M124.6,2192.2h6.5M801.3,2192.2h-6.5M124.6,2152.5h2.0M801.3,2152.5h-2.0M124.6,2112.8h6.5M801.3,2112.8h-6.5M124.6,2073.1h2.0M801.3,2073.1h-2.0M124.6,2033.4h6.5M801.3,2033.4h-6.5M124.6,1993.6h2.0M801.3,1993.6h-2.0" stroke="#000" stroke-width="2.2" fill="none"/>
<text transform="translate(108.74,2305.80) scale(0.9250,1)" font-size="40.50" font-weight="bold">-8</text>
<text transform="translate(205.60,2305.80) scale(0.9250,1)" font-size="40.50" font-weight="bold">-6</text>
<text transform="translate(301.71,2305.80) scale(0.9250,1)" font-size="40.50" font-weight="bold">-4</text>
<text transform="translate(398.94,2305.80) scale(0.9250,1)" font-size="40.50" font-weight="bold">-2</text>
<text transform="translate(501.80,2305.80) scale(0.9250,1)" font-size="40.50" font-weight="bold">0</text>
<text transform="translate(598.65,2305.80) scale(0.9250,1)" font-size="40.50" font-weight="bold">2</text>
<text transform="translate(694.95,2305.80) scale(0.9250,1)" font-size="40.50" font-weight="bold">4</text>
<text transform="translate(791.81,2305.80) scale(0.9250,1)" font-size="40.50" font-weight="bold">6</text>
<text transform="translate(77.84,1963.80) scale(0.9250,1)" font-size="40.50" font-weight="bold">40</text>
<text transform="translate(77.84,2043.25) scale(0.9250,1)" font-size="40.50" font-weight="bold">20</text>
<text transform="translate(98.82,2122.70) scale(0.9250,1)" font-size="40.50" font-weight="bold">0</text>
<text transform="translate(65.48,2202.15) scale(0.9250,1)" font-size="40.50" font-weight="bold">-20</text>
<text transform="translate(65.48,2281.60) scale(0.9250,1)" font-size="40.50" font-weight="bold">-40</text>
<text transform="translate(151.74,2232.25) scale(0.9700,1)" font-size="38.40" font-weight="bold">(e)</text>
<text transform="translate(522.66,2235.90) scale(0.9241,1)" font-size="46.96" font-weight="bold" fill="#000">E</text>
<text transform="translate(550.50,2253.30) scale(1.0976,1)" font-size="45.56" font-weight="normal" fill="#000">f</text>
<text transform="translate(375.86,2364.90) scale(0.8998,1)" font-size="40.40" font-weight="bold">Energy (eV)</text>
<text transform="translate(28.00,2263.70) rotate(-90) scale(0.9561,1) translate(-2.78,0)" font-size="39.71" font-weight="bold">DOS (states/cell)</text>
<rect x="589.9" y="1954.8" width="200.7" height="62.2" fill="#fff" stroke="#3a3a3a" stroke-width="1.3"/>
<line x1="603.2" y1="1992.4" x2="632.9" y2="1992.4" stroke="#000" stroke-width="5.4" stroke-linecap="round"/>
<text transform="translate(636.97,1996.90) scale(0.9267,1)" font-size="46.75" font-weight="bold">Mn<tspan dy="5.2">3</tspan><tspan dy="-5.2">Ru</tspan></text>
<clipPath id="cf"><rect x="1030.4" y="104.6" width="676.0" height="318.4"/></clipPath>
<line x1="1416.7" y1="104.6" x2="1416.7" y2="423.0" stroke="#000" stroke-width="1.1" stroke-dasharray="2.4,1.6"/>
<g clip-path="url(#cf)" fill="none" stroke-linejoin="round" stroke-linecap="round">
<path d="M1030.4,263.8C1037.2,262.6 1043.9,260.6 1050.7,260.2C1061.1,259.6 1071.4,259.7 1081.8,259.1C1088.7,258.8 1095.6,258.2 1102.5,257.1C1106.0,256.5 1109.4,254.0 1112.9,254.0C1116.3,254.0 1119.8,254.0 1123.2,254.0C1126.7,254.0 1130.2,254.5 1133.6,255.0C1137.1,255.5 1140.5,256.5 1144.0,257.1C1150.9,258.3 1157.8,259.4 1164.7,260.2C1171.6,261.0 1178.5,261.9 1185.4,262.3C1195.8,262.8 1206.1,263.1 1216.5,263.3C1230.3,263.6 1244.1,263.7 1257.9,263.9C1271.7,264.1 1285.6,264.3 1299.4,264.3C1320.1,264.3 1340.8,264.3 1361.5,264.3C1362.7,264.3 1363.8,264.1 1365.0,264.0C1379.0,263.4 1393.0,263.2 1407.0,263.0C1421.1,262.7 1435.1,262.3 1449.1,262.3C1463.1,262.3 1477.1,263.0 1491.1,263.0C1505.1,263.0 1519.2,263.0 1533.2,263.0C1547.2,263.0 1561.2,264.0 1575.2,264.0C1589.2,264.0 1603.2,264.0 1617.3,264.0C1648.1,264.0 1678.9,264.0 1709.8,264.0" stroke="#000000" stroke-width="4.2"/>
<path d="M1030.4,263.8C1037.2,265.0 1043.9,266.9 1050.7,267.4C1057.6,268.0 1064.5,268.5 1071.4,268.5C1085.3,268.5 1099.1,268.5 1112.9,268.5C1126.7,268.5 1140.5,267.9 1154.3,267.4C1168.1,267.0 1182.0,265.8 1195.8,265.4C1209.6,264.9 1223.4,264.3 1237.2,264.3C1251.0,264.3 1264.8,265.4 1278.7,265.4C1292.5,265.4 1306.3,265.4 1320.1,265.4C1333.9,265.4 1347.7,265.4 1361.5,265.4C1362.7,265.4 1363.8,265.1 1365.0,265.1C1379.0,265.1 1393.0,265.1 1407.0,265.1C1421.1,265.1 1435.1,264.4 1449.1,264.4C1463.1,264.4 1477.1,264.4 1491.1,264.4C1505.1,264.4 1519.2,264.9 1533.2,265.1C1547.2,265.3 1561.2,265.4 1575.2,265.7C1584.3,265.9 1593.4,267.2 1602.5,267.2C1614.5,267.2 1626.4,265.9 1638.3,265.7C1662.1,265.3 1685.9,265.3 1709.8,265.1" stroke="#000000" stroke-width="4.2"/>
<path d="M1030.4,263.8C1044.1,263.8 1057.8,263.9 1071.4,263.9C1081.8,263.9 1092.2,263.0 1102.5,262.3C1109.4,261.8 1116.3,261.0 1123.2,260.2C1128.1,259.6 1132.9,258.1 1137.7,258.1C1143.3,258.1 1148.8,258.8 1154.3,259.1C1161.2,259.5 1168.1,259.8 1175.0,260.2C1182.0,260.5 1188.9,261.2 1195.8,261.2C1199.2,261.2 1202.7,259.7 1206.1,259.1C1209.6,258.6 1213.0,258.0 1216.5,257.7C1219.9,257.4 1223.4,257.1 1226.9,257.1C1230.3,257.1 1233.8,258.9 1237.2,259.1C1244.1,259.7 1251.0,260.2 1257.9,260.2C1264.8,260.2 1271.7,260.2 1278.7,260.2C1282.8,260.2 1286.9,258.5 1291.1,258.5C1293.8,258.5 1296.6,258.8 1299.4,259.1C1302.8,259.5 1306.3,261.0 1309.7,261.2C1316.6,261.6 1323.5,261.8 1330.5,261.8C1335.3,261.8 1340.1,261.6 1345.0,261.2C1347.7,261.0 1350.5,259.1 1353.2,259.1C1356.7,259.1 1360.2,259.2 1363.6,259.8C1364.1,259.8 1364.5,261.9 1365.0,261.9C1372.0,261.9 1379.0,261.3 1386.0,260.9C1393.0,260.5 1400.0,259.7 1407.0,259.4C1414.1,259.1 1421.1,258.8 1428.1,258.8C1435.1,258.8 1442.1,259.2 1449.1,259.4C1456.1,259.6 1463.1,259.8 1470.1,259.8C1477.1,259.8 1484.1,259.6 1491.1,259.4C1498.1,259.2 1505.1,258.1 1512.2,258.1C1519.2,258.1 1526.2,258.1 1533.2,258.1C1540.2,258.1 1547.2,257.3 1554.2,257.3C1557.7,257.3 1561.2,258.1 1564.7,258.1C1568.2,258.1 1571.7,257.7 1575.2,257.7C1582.2,257.7 1589.2,258.8 1596.2,258.8C1603.2,258.8 1610.3,258.4 1617.3,258.4C1624.3,258.4 1631.3,258.6 1638.3,258.8C1645.3,258.9 1652.3,259.4 1659.3,259.4C1666.3,259.4 1673.3,259.4 1680.3,259.4C1690.1,259.4 1699.9,259.7 1709.8,259.8" stroke="#0000ff" stroke-width="5.0"/>
<path d="M1030.4,263.8C1051.0,264.3 1071.6,265.4 1092.2,265.4C1106.0,265.4 1119.8,265.4 1133.6,265.4C1147.4,265.4 1161.2,266.4 1175.0,266.4C1182.0,266.4 1188.9,265.4 1195.8,265.4C1202.7,265.4 1209.6,265.9 1216.5,266.4C1223.4,266.9 1230.3,269.5 1237.2,269.5C1244.1,269.5 1251.0,266.4 1257.9,266.4C1264.8,266.4 1271.7,267.9 1278.7,269.5C1282.1,270.3 1285.6,273.7 1289.0,273.7C1292.5,273.7 1295.9,270.5 1299.4,270.5C1306.3,270.5 1313.2,270.5 1320.1,270.5C1323.5,270.5 1327.0,269.5 1330.5,269.5C1335.3,269.5 1340.1,269.5 1345.0,269.5C1347.7,269.5 1350.5,272.3 1353.2,273.7C1356.0,275.0 1358.8,276.9 1361.5,277.8C1362.7,278.2 1363.8,278.7 1365.0,278.7C1368.5,278.7 1372.0,278.3 1375.5,277.7C1379.0,277.1 1382.5,273.0 1386.0,272.4C1389.5,271.9 1393.0,271.9 1396.5,271.4C1400.0,270.9 1403.5,268.8 1407.0,268.2C1410.5,267.7 1414.1,267.4 1417.6,267.2C1424.6,266.7 1431.6,266.1 1438.6,266.1C1445.6,266.1 1452.6,266.1 1459.6,266.1C1466.6,266.1 1473.6,266.1 1480.6,266.1C1487.6,266.1 1494.6,266.1 1501.6,266.1C1508.6,266.1 1515.7,266.1 1522.7,266.1C1529.7,266.1 1536.7,266.9 1543.7,267.2C1550.7,267.4 1557.7,267.6 1564.7,267.8C1571.7,268.0 1578.7,268.2 1585.7,268.2C1592.7,268.2 1599.7,267.2 1606.7,267.2C1613.8,267.2 1620.8,267.2 1627.8,267.2C1638.3,267.2 1648.8,267.6 1659.3,267.8C1666.3,268.0 1673.3,268.1 1680.3,268.2C1690.1,268.4 1699.9,268.5 1709.8,268.7" stroke="#0000ff" stroke-width="5.0"/>
<path d="M1030.4,263.8C1044.1,263.6 1057.8,263.6 1071.4,263.3C1077.0,263.2 1082.5,262.9 1088.0,262.3C1091.5,261.9 1094.9,260.7 1098.4,259.1C1101.1,257.9 1103.9,254.7 1106.7,251.9C1109.4,249.0 1112.2,244.3 1115.0,241.5C1117.0,239.5 1119.1,237.8 1121.2,236.4C1122.9,235.2 1124.6,234.9 1126.4,233.2C1128.1,231.6 1129.8,223.7 1131.5,219.8C1132.9,216.7 1134.3,213.6 1135.7,211.5C1137.7,208.4 1139.8,204.2 1141.9,204.2C1144.0,204.2 1146.0,206.3 1148.1,206.3C1150.9,206.3 1153.6,203.2 1156.4,203.2C1158.5,203.2 1160.5,204.2 1162.6,205.3C1164.3,206.2 1166.1,209.9 1167.8,211.5C1169.2,212.8 1170.6,214.6 1171.9,214.6C1173.7,214.6 1175.4,213.4 1177.1,212.5C1179.2,211.5 1181.3,208.4 1183.3,208.4C1185.4,208.4 1187.5,211.7 1189.6,213.6C1191.6,215.4 1193.7,219.8 1195.8,219.8C1197.2,219.8 1198.5,219.8 1199.9,219.8C1201.3,219.8 1202.7,212.2 1204.1,208.4C1205.4,204.6 1206.8,199.1 1208.2,197.0C1210.3,193.8 1212.3,190.8 1214.4,190.8C1216.5,190.8 1218.6,195.9 1220.6,195.9C1222.7,195.9 1224.8,183.5 1226.9,183.5C1228.2,183.5 1229.6,188.5 1231.0,191.8C1232.4,195.1 1233.8,201.5 1235.1,204.2C1236.5,207.0 1237.9,210.5 1239.3,210.5C1241.0,210.5 1242.7,206.2 1244.5,202.2C1245.8,199.0 1247.2,190.1 1248.6,185.6C1250.0,181.1 1251.4,175.9 1252.8,174.2C1254.5,172.0 1256.2,171.6 1257.9,170.0C1259.3,168.8 1260.7,165.9 1262.1,165.9C1263.5,165.9 1264.8,170.8 1266.2,175.2C1267.6,179.6 1269.0,192.4 1270.4,198.0C1272.1,205.1 1273.8,212.0 1275.5,214.6C1277.3,217.2 1279.0,219.8 1280.7,219.8C1282.8,219.8 1284.9,213.0 1286.9,210.5C1289.4,207.5 1291.8,203.2 1294.2,203.2C1295.2,203.2 1296.3,206.1 1297.3,208.4C1298.7,211.4 1300.1,218.4 1301.4,222.9C1303.5,229.6 1305.6,237.1 1307.7,241.5C1309.7,246.0 1311.8,250.3 1313.9,251.9C1316.0,253.5 1318.0,255.0 1320.1,255.0C1322.2,255.0 1324.2,254.5 1326.3,254.0C1328.4,253.4 1330.5,251.5 1332.5,248.8C1334.6,246.1 1336.7,235.5 1338.7,229.1C1340.8,222.7 1342.9,215.7 1345.0,210.5C1346.7,206.1 1348.4,200.2 1350.1,199.1C1351.9,197.9 1353.6,197.0 1355.3,197.0C1357.0,197.0 1358.8,203.4 1360.5,206.3C1362.2,209.2 1364.0,212.9 1365.7,214.6C1368.3,217.1 1370.8,218.4 1373.4,219.9C1375.5,221.1 1377.6,221.3 1379.7,223.0C1381.1,224.2 1382.5,227.6 1383.9,230.4C1386.0,234.6 1388.1,243.7 1390.2,245.1C1393.0,247.0 1395.8,246.9 1398.6,248.3C1400.7,249.3 1402.8,251.1 1404.9,252.5C1407.0,253.9 1409.1,256.7 1411.2,256.7C1413.3,256.7 1415.5,256.7 1417.6,256.7C1421.1,256.7 1424.6,257.5 1428.1,257.7C1435.1,258.2 1442.1,258.3 1449.1,258.8C1456.1,259.2 1463.1,260.4 1470.1,260.9C1477.1,261.3 1484.1,261.9 1491.1,261.9C1498.1,261.9 1505.1,260.9 1512.2,260.9C1519.2,260.9 1526.2,261.5 1533.2,261.5C1540.2,261.5 1547.2,261.5 1554.2,261.5C1561.2,261.5 1568.2,262.6 1575.2,263.0C1582.2,263.4 1589.2,263.8 1596.2,264.0C1603.2,264.2 1610.3,264.4 1617.3,264.4C1624.3,264.4 1631.3,264.4 1638.3,264.4C1645.3,264.4 1652.3,264.6 1659.3,264.7C1666.3,264.8 1673.3,264.9 1680.3,265.1C1690.1,265.3 1699.9,265.5 1709.8,265.7" stroke="#ff00ff" stroke-width="5.6"/>
<path d="M1030.4,263.8C1051.0,264.3 1071.6,265.4 1092.2,265.4C1106.0,265.4 1119.8,265.4 1133.6,265.4C1147.4,265.4 1161.2,265.4 1175.0,265.4C1182.0,265.4 1188.9,268.6 1195.8,269.5C1199.2,270.0 1202.7,270.5 1206.1,270.5C1208.2,270.5 1210.3,267.4 1212.3,267.4C1215.1,267.4 1217.9,271.1 1220.6,272.6C1223.4,274.1 1226.2,275.8 1228.9,276.8C1231.7,277.7 1234.4,278.0 1237.2,278.8C1239.3,279.4 1241.4,280.1 1243.4,280.9C1245.5,281.7 1247.6,284.0 1249.6,284.0C1251.7,284.0 1253.8,283.0 1255.9,283.0C1257.9,283.0 1260.0,285.0 1262.1,286.1C1264.8,287.5 1267.6,290.2 1270.4,290.2C1272.4,290.2 1274.5,289.7 1276.6,289.2C1278.3,288.8 1280.0,287.1 1281.8,287.1C1283.5,287.1 1285.2,296.8 1286.9,299.6C1288.7,302.3 1290.4,305.8 1292.1,305.8C1293.8,305.8 1295.6,299.6 1297.3,297.5C1298.7,295.8 1300.1,293.3 1301.4,293.3C1303.5,293.3 1305.6,296.7 1307.7,297.5C1310.4,298.5 1313.2,298.5 1316.0,299.6C1318.0,300.3 1320.1,303.7 1322.2,303.7C1324.2,303.7 1326.3,297.3 1328.4,295.4C1330.5,293.6 1332.5,291.9 1334.6,291.3C1338.1,290.2 1341.5,289.2 1345.0,289.2C1347.0,289.2 1349.1,292.6 1351.2,294.4C1353.2,296.1 1355.3,298.9 1357.4,299.6C1359.1,300.1 1360.8,299.9 1362.6,300.6C1363.4,300.9 1364.2,309.2 1365.0,310.3C1366.4,312.2 1367.8,313.4 1369.2,313.4C1371.0,313.4 1372.7,304.0 1374.5,304.0C1376.2,304.0 1378.0,305.7 1379.7,308.2C1380.8,309.7 1381.8,320.8 1382.9,320.8C1384.3,320.8 1385.7,310.9 1387.1,308.2C1388.8,304.8 1390.6,300.8 1392.3,300.8C1394.4,300.8 1396.5,300.8 1398.6,300.8C1400.7,300.8 1402.8,294.5 1404.9,293.5C1407.0,292.4 1409.1,292.4 1411.2,291.4C1413.3,290.4 1415.5,286.1 1417.6,286.1C1419.0,286.1 1420.4,288.2 1421.8,289.3C1423.9,290.9 1426.0,294.5 1428.1,294.5C1430.9,294.5 1433.7,290.8 1436.5,290.3C1439.6,289.7 1442.8,289.3 1445.9,289.3C1447.7,289.3 1449.4,294.8 1451.2,297.7C1453.3,301.1 1455.4,305.1 1457.5,308.2C1459.6,311.3 1461.7,312.9 1463.8,316.6C1465.2,319.1 1466.6,324.5 1468.0,327.1C1469.4,329.7 1470.8,333.4 1472.2,333.4C1474.3,333.4 1476.4,326.9 1478.5,326.0C1481.3,324.9 1484.1,324.9 1486.9,323.9C1489.7,322.9 1492.5,319.9 1495.3,318.7C1497.4,317.8 1499.5,316.6 1501.6,316.6C1503.7,316.6 1505.8,318.7 1507.9,320.8C1510.0,322.9 1512.2,329.2 1514.3,333.4C1516.0,336.9 1517.8,341.9 1519.5,343.9C1521.3,345.9 1523.0,345.9 1524.8,348.1C1526.2,349.8 1527.6,358.6 1529.0,358.6C1530.4,358.6 1531.8,356.5 1533.2,354.4C1534.6,352.3 1536.0,345.2 1537.4,341.8C1539.5,336.7 1541.6,334.3 1543.7,329.2C1545.1,325.8 1546.5,320.8 1547.9,316.6C1549.3,312.4 1550.7,307.3 1552.1,304.0C1553.5,300.6 1554.9,297.5 1556.3,295.6C1558.4,292.7 1560.5,291.7 1562.6,289.3C1564.7,286.9 1566.8,282.4 1568.9,280.8C1571.7,278.8 1574.5,277.8 1577.3,276.6C1579.4,275.8 1581.5,275.5 1583.6,274.5C1585.7,273.5 1587.8,269.3 1589.9,269.3C1592.7,269.3 1595.5,269.9 1598.3,270.3C1601.1,270.8 1603.9,272.0 1606.7,272.0C1610.3,272.0 1613.8,270.8 1617.3,270.3C1624.3,269.4 1631.3,268.7 1638.3,268.2C1645.3,267.8 1652.3,267.5 1659.3,267.2C1666.3,266.8 1673.3,266.1 1680.3,266.1C1690.1,266.1 1699.9,266.1 1709.8,266.1" stroke="#ff00ff" stroke-width="5.6"/>
</g>
<rect x="1030.4" y="104.6" width="676.0" height="318.4" fill="none" stroke="#000" stroke-width="2.5"/>
<path d="M1078.7,423.0v-2.0M1078.7,104.6v2.0M1127.0,423.0v-6.5M1127.0,104.6v6.5M1175.3,423.0v-2.0M1175.3,104.6v2.0M1223.5,423.0v-6.5M1223.5,104.6v6.5M1271.8,423.0v-2.0M1271.8,104.6v2.0M1320.1,423.0v-6.5M1320.1,104.6v6.5M1368.4,423.0v-2.0M1368.4,104.6v2.0M1416.7,423.0v-6.5M1416.7,104.6v6.5M1465.0,423.0v-2.0M1465.0,104.6v2.0M1513.3,423.0v-6.5M1513.3,104.6v6.5M1561.5,423.0v-2.0M1561.5,104.6v2.0M1609.8,423.0v-6.5M1609.8,104.6v6.5M1658.1,423.0v-2.0M1658.1,104.6v2.0M1030.4,383.2h2.0M1706.4,383.2h-2.0M1030.4,343.4h6.5M1706.4,343.4h-6.5M1030.4,303.6h2.0M1706.4,303.6h-2.0M1030.4,263.8h6.5M1706.4,263.8h-6.5M1030.4,224.0h2.0M1706.4,224.0h-2.0M1030.4,184.2h6.5M1706.4,184.2h-6.5M1030.4,144.4h2.0M1706.4,144.4h-2.0" stroke="#000" stroke-width="2.2" fill="none"/>
<text transform="translate(1014.54,457.10) scale(0.9250,1)" font-size="40.50" font-weight="bold">-8</text>
<text transform="translate(1111.30,457.10) scale(0.9250,1)" font-size="40.50" font-weight="bold">-6</text>
<text transform="translate(1207.31,457.10) scale(0.9250,1)" font-size="40.50" font-weight="bold">-4</text>
<text transform="translate(1304.44,457.10) scale(0.9250,1)" font-size="40.50" font-weight="bold">-2</text>
<text transform="translate(1407.20,457.10) scale(0.9250,1)" font-size="40.50" font-weight="bold">0</text>
<text transform="translate(1503.95,457.10) scale(0.9250,1)" font-size="40.50" font-weight="bold">2</text>
<text transform="translate(1600.15,457.10) scale(0.9250,1)" font-size="40.50" font-weight="bold">4</text>
<text transform="translate(1696.91,457.10) scale(0.9250,1)" font-size="40.50" font-weight="bold">6</text>
<text transform="translate(983.64,114.50) scale(0.9250,1)" font-size="40.50" font-weight="bold">40</text>
<text transform="translate(983.64,194.10) scale(0.9250,1)" font-size="40.50" font-weight="bold">20</text>
<text transform="translate(1004.62,273.70) scale(0.9250,1)" font-size="40.50" font-weight="bold">0</text>
<text transform="translate(971.28,353.30) scale(0.9250,1)" font-size="40.50" font-weight="bold">-20</text>
<text transform="translate(971.28,432.90) scale(0.9250,1)" font-size="40.50" font-weight="bold">-40</text>
<text transform="translate(1058.94,388.35) scale(0.9700,1)" font-size="38.40" font-weight="bold">(f)</text>
<text transform="translate(1428.96,384.50) scale(0.9415,1)" font-size="46.09" font-weight="bold" fill="#000">E</text>
<text transform="translate(1456.80,401.90) scale(1.1180,1)" font-size="44.72" font-weight="normal" fill="#000">f</text>
<text transform="translate(1274.06,529.00) scale(0.8998,1)" font-size="40.40" font-weight="bold">Energy (eV)</text>
<text transform="translate(940.60,408.90) rotate(-90) scale(0.9561,1) translate(-2.78,0)" font-size="39.71" font-weight="bold">DOS (states/cell)</text>
<rect x="1516.5" y="103.5" width="187.1" height="63.8" fill="#fff" stroke="#3a3a3a" stroke-width="1.3"/>
<line x1="1528.5" y1="143.2" x2="1558.8" y2="143.2" stroke="#000" stroke-width="5.4" stroke-linecap="round"/>
<text transform="translate(1563.08,147.30) scale(0.9223,1)" font-size="46.75" font-weight="bold">Fe<tspan dy="5.2">3</tspan><tspan dy="-5.2">Ru</tspan></text>
<clipPath id="cg"><rect x="1030.4" y="566.7" width="676.0" height="318.6"/></clipPath>
<line x1="1416.7" y1="566.7" x2="1416.7" y2="885.3" stroke="#000" stroke-width="1.1" stroke-dasharray="2.4,1.6"/>
<g clip-path="url(#cg)" fill="none" stroke-linejoin="round" stroke-linecap="round">
<path d="M1030.4,726.0C1044.1,724.5 1057.8,722.5 1071.4,721.6C1078.3,721.1 1085.3,721.1 1092.2,720.5C1097.7,720.1 1103.2,716.8 1108.7,716.8C1113.6,716.8 1118.4,716.8 1123.2,716.8C1128.1,716.8 1132.9,717.0 1137.7,717.4C1140.5,717.7 1143.3,719.8 1146.0,720.5C1155.7,723.0 1165.4,725.7 1175.0,725.7C1188.9,725.7 1202.7,724.7 1216.5,724.7C1223.4,724.7 1230.3,724.7 1237.2,724.7C1251.0,724.7 1264.8,725.4 1278.7,725.7C1292.5,726.1 1306.3,726.8 1320.1,726.8C1333.9,726.8 1347.7,726.3 1361.5,726.3C1362.7,726.3 1363.8,727.7 1365.0,727.7C1379.0,727.7 1393.0,726.7 1407.0,726.2C1421.1,725.8 1435.1,725.0 1449.1,725.0C1470.1,725.0 1491.1,725.0 1512.2,725.0C1533.2,725.0 1554.2,725.0 1575.2,725.0C1620.1,725.0 1664.9,725.4 1709.8,725.6" stroke="#000000" stroke-width="4.2"/>
<path d="M1030.4,726.0C1044.1,726.6 1057.8,727.8 1071.4,727.8C1085.3,727.8 1099.1,727.8 1112.9,727.8C1126.7,727.8 1140.5,729.4 1154.3,729.9C1168.1,730.3 1182.0,730.9 1195.8,730.9C1209.6,730.9 1223.4,726.8 1237.2,726.8C1251.0,726.8 1264.8,726.8 1278.7,726.8C1292.5,726.8 1306.3,727.8 1320.1,727.8C1333.9,727.8 1347.7,727.8 1361.5,727.8C1362.7,727.8 1363.8,727.7 1365.0,727.7C1386.0,727.7 1407.0,727.7 1428.1,727.7C1449.1,727.7 1470.1,727.7 1491.1,727.7C1505.1,727.7 1519.2,728.7 1533.2,728.7C1547.2,728.7 1561.2,728.7 1575.2,728.7C1582.2,728.7 1589.2,729.8 1596.2,729.8C1603.2,729.8 1610.3,728.4 1617.3,728.3C1648.1,727.9 1678.9,727.9 1709.8,727.7" stroke="#000000" stroke-width="4.2"/>
<path d="M1030.4,726.0C1051.0,725.6 1071.6,725.5 1092.2,724.7C1099.1,724.4 1106.0,723.1 1112.9,722.6C1119.8,722.2 1126.7,721.6 1133.6,721.6C1140.5,721.6 1147.4,721.6 1154.3,721.6C1161.2,721.6 1168.1,722.2 1175.0,722.2C1182.0,722.2 1188.9,722.2 1195.8,722.2C1202.7,722.2 1209.6,721.9 1216.5,721.6C1223.4,721.3 1230.3,720.1 1237.2,720.1C1244.1,720.1 1251.0,721.6 1257.9,721.6C1264.8,721.6 1271.7,721.2 1278.7,721.0C1282.8,720.8 1286.9,720.5 1291.1,720.5C1293.8,720.5 1296.6,722.4 1299.4,722.6C1306.3,723.3 1313.2,723.7 1320.1,723.7C1327.0,723.7 1333.9,722.6 1340.8,722.6C1348.4,722.6 1356.0,722.6 1363.6,722.6C1364.1,722.6 1364.5,723.5 1365.0,723.5C1372.0,723.5 1379.0,722.4 1386.0,722.4C1393.0,722.4 1400.0,722.4 1407.0,722.4C1414.1,722.4 1421.1,720.3 1428.1,720.3C1435.1,720.3 1442.1,721.1 1449.1,721.4C1456.1,721.6 1463.1,721.8 1470.1,722.0C1477.1,722.2 1484.1,722.4 1491.1,722.4C1498.1,722.4 1505.1,721.8 1512.2,721.4C1519.2,721.0 1526.2,720.2 1533.2,719.9C1540.2,719.6 1547.2,719.3 1554.2,719.3C1561.2,719.3 1568.2,719.7 1575.2,719.9C1582.2,720.1 1589.2,720.2 1596.2,720.3C1603.2,720.5 1610.3,720.6 1617.3,720.8C1624.3,720.9 1631.3,721.2 1638.3,721.4C1645.3,721.6 1652.3,721.8 1659.3,722.0C1666.3,722.2 1673.3,722.3 1680.3,722.4C1690.1,722.6 1699.9,722.7 1709.8,722.9" stroke="#0000ff" stroke-width="5.0"/>
<path d="M1030.4,726.0C1051.0,726.1 1071.6,726.2 1092.2,726.3C1106.0,726.4 1119.8,726.5 1133.6,726.8C1140.5,726.9 1147.4,727.4 1154.3,727.8C1161.2,728.1 1168.1,728.6 1175.0,728.8C1182.0,729.0 1188.9,729.0 1195.8,729.2C1202.7,729.5 1209.6,730.9 1216.5,730.9C1223.4,730.9 1230.3,729.6 1237.2,729.2C1244.1,728.9 1251.0,728.4 1257.9,728.4C1261.4,728.4 1264.8,733.0 1268.3,733.0C1271.7,733.0 1275.2,728.4 1278.7,728.4C1282.1,728.4 1285.6,730.0 1289.0,730.9C1292.5,731.8 1295.9,733.2 1299.4,734.0C1302.8,734.8 1306.3,736.1 1309.7,736.1C1313.2,736.1 1316.6,736.1 1320.1,736.1C1327.0,736.1 1333.9,735.4 1340.8,735.0C1347.7,734.7 1354.6,734.8 1361.5,734.0C1362.7,733.9 1363.8,731.9 1365.0,731.9C1367.8,731.9 1370.6,735.0 1373.4,735.0C1376.2,735.0 1379.0,731.2 1381.8,730.8C1386.7,730.2 1391.6,730.1 1396.5,729.8C1403.5,729.4 1410.5,728.7 1417.6,728.7C1424.6,728.7 1431.6,729.2 1438.6,729.2C1445.6,729.2 1452.6,728.7 1459.6,728.7C1466.6,728.7 1473.6,728.7 1480.6,728.7C1487.6,728.7 1494.6,729.5 1501.6,729.8C1508.6,730.1 1515.7,730.2 1522.7,730.4C1526.2,730.5 1529.7,730.8 1533.2,730.8C1540.2,730.8 1547.2,730.8 1554.2,730.8C1561.2,730.8 1568.2,729.8 1575.2,729.8C1582.2,729.8 1589.2,729.8 1596.2,729.8C1603.2,729.8 1610.3,729.2 1617.3,729.2C1624.3,729.2 1631.3,729.2 1638.3,729.2C1645.3,729.2 1652.3,729.8 1659.3,729.8C1666.3,729.8 1673.3,729.8 1680.3,729.8C1690.1,729.8 1699.9,730.2 1709.8,730.4" stroke="#0000ff" stroke-width="5.0"/>
<path d="M1030.4,726.0C1047.5,725.9 1064.7,726.0 1081.8,725.7C1085.3,725.7 1088.7,724.1 1092.2,722.6C1094.9,721.4 1097.7,718.8 1100.5,716.4C1103.2,714.0 1106.0,709.5 1108.7,708.1C1110.8,707.1 1112.9,706.9 1115.0,706.0C1117.0,705.2 1119.1,704.2 1121.2,702.9C1123.2,701.6 1125.3,699.4 1127.4,697.7C1129.1,696.3 1130.8,695.6 1132.6,693.6C1134.0,692.0 1135.3,688.3 1136.7,685.3C1137.7,683.1 1138.8,678.1 1139.8,678.1C1141.9,678.1 1144.0,681.4 1146.0,682.2C1148.5,683.2 1150.9,684.3 1153.3,684.3C1155.0,684.3 1156.7,682.4 1158.5,681.2C1160.5,679.7 1162.6,677.1 1164.7,676.0C1168.1,674.1 1171.6,671.8 1175.0,671.8C1177.1,671.8 1179.2,673.7 1181.3,675.0C1183.3,676.3 1185.4,679.0 1187.5,680.1C1190.2,681.6 1193.0,683.2 1195.8,683.2C1197.8,683.2 1199.9,681.6 1202.0,681.2C1204.7,680.7 1207.5,680.8 1210.3,680.1C1211.7,679.8 1213.0,677.0 1214.4,675.0C1215.8,672.9 1217.2,668.1 1218.6,667.7C1220.6,667.0 1222.7,667.3 1224.8,666.7C1226.2,666.2 1227.5,660.9 1228.9,658.4C1231.0,654.6 1233.1,652.0 1235.1,648.0C1236.5,645.3 1237.9,642.6 1239.3,638.7C1240.7,634.8 1242.0,623.8 1243.4,623.2C1244.8,622.5 1246.2,622.1 1247.6,622.1C1249.0,622.1 1250.3,629.3 1251.7,633.5C1253.1,637.8 1254.5,644.8 1255.9,648.0C1257.2,651.2 1258.6,655.3 1260.0,655.3C1262.1,655.3 1264.1,654.9 1266.2,654.2C1267.6,653.8 1269.0,643.3 1270.4,641.8C1271.4,640.7 1272.4,639.7 1273.5,639.7C1274.9,639.7 1276.2,650.1 1277.6,653.2C1279.0,656.3 1280.4,657.7 1281.8,660.5C1283.5,663.9 1285.2,670.1 1286.9,672.9C1288.7,675.6 1290.4,676.1 1292.1,679.1C1293.5,681.5 1294.9,689.8 1296.3,691.5C1298.0,693.8 1299.7,695.7 1301.4,695.7C1303.5,695.7 1305.6,692.0 1307.7,689.5C1309.4,687.3 1311.1,681.2 1312.8,681.2C1314.2,681.2 1315.6,689.9 1317.0,693.6C1318.7,698.2 1320.4,703.1 1322.2,706.0C1324.6,710.2 1327.0,715.4 1329.4,715.4C1330.8,715.4 1332.2,711.1 1333.6,706.0C1334.6,702.2 1335.6,687.0 1336.7,679.1C1338.1,668.6 1339.4,652.4 1340.8,651.1C1342.2,649.8 1343.6,649.1 1345.0,649.1C1347.0,649.1 1349.1,659.5 1351.2,664.6C1352.9,668.8 1354.6,675.0 1356.4,677.0C1358.1,679.1 1359.8,681.2 1361.5,681.2C1363.3,681.2 1365.0,680.1 1366.7,680.1C1367.5,680.1 1368.4,680.3 1369.2,680.4C1371.3,680.8 1373.4,687.4 1375.5,690.9C1377.6,694.4 1379.7,698.3 1381.8,701.4C1383.9,704.5 1386.0,708.9 1388.1,709.8C1390.9,711.0 1393.7,711.5 1396.5,711.9C1400.0,712.4 1403.5,712.6 1407.0,713.0C1409.5,713.3 1411.9,713.4 1414.4,714.0C1416.2,714.5 1417.9,718.4 1419.7,719.3C1421.8,720.4 1423.9,721.1 1426.0,721.4C1430.2,722.0 1434.4,722.2 1438.6,722.4C1445.6,722.9 1452.6,723.2 1459.6,723.5C1466.6,723.8 1473.6,723.9 1480.6,724.1C1487.6,724.3 1494.6,724.5 1501.6,724.5C1508.6,724.5 1515.7,723.2 1522.7,722.9C1529.7,722.5 1536.7,722.0 1543.7,722.0C1550.7,722.0 1557.7,723.1 1564.7,723.5C1571.7,723.9 1578.7,724.5 1585.7,724.5C1592.7,724.5 1599.7,724.5 1606.7,724.5C1613.8,724.5 1620.8,724.8 1627.8,725.0C1634.8,725.1 1641.8,725.4 1648.8,725.6C1655.8,725.8 1662.8,726.1 1669.8,726.2C1683.1,726.4 1696.4,726.5 1709.8,726.6" stroke="#ff00ff" stroke-width="5.6"/>
<path d="M1030.4,726.0C1051.0,726.1 1071.6,726.2 1092.2,726.3C1106.0,726.4 1119.8,726.5 1133.6,726.8C1142.6,726.9 1151.6,727.3 1160.5,728.4C1162.6,728.7 1164.7,729.9 1166.8,730.9C1168.8,731.9 1170.9,735.0 1173.0,735.0C1175.0,735.0 1177.1,731.9 1179.2,731.9C1182.0,731.9 1184.7,732.5 1187.5,733.0C1190.2,733.4 1193.0,734.6 1195.8,735.0C1199.2,735.5 1202.7,735.5 1206.1,736.1C1208.2,736.4 1210.3,737.1 1212.3,738.2C1215.1,739.5 1217.9,744.4 1220.6,747.5C1223.4,750.6 1226.2,756.8 1228.9,756.8C1231.7,756.8 1234.4,754.7 1237.2,754.7C1240.0,754.7 1242.7,755.2 1245.5,755.8C1248.3,756.3 1251.0,758.5 1253.8,759.9C1255.9,760.9 1257.9,761.7 1260.0,763.0C1262.8,764.8 1265.5,771.3 1268.3,771.3C1270.0,771.3 1271.7,762.8 1273.5,759.9C1275.9,755.9 1278.3,750.6 1280.7,750.6C1282.8,750.6 1284.9,756.8 1286.9,756.8C1289.0,756.8 1291.1,753.7 1293.2,753.7C1295.9,753.7 1298.7,760.8 1301.4,764.1C1303.9,766.9 1306.3,772.3 1308.7,772.3C1311.1,772.3 1313.5,769.0 1316.0,768.2C1318.7,767.2 1321.5,766.8 1324.2,766.1C1327.0,765.4 1329.8,764.1 1332.5,764.1C1334.6,764.1 1336.7,765.8 1338.7,767.2C1340.8,768.5 1342.9,772.7 1345.0,773.4C1346.7,773.9 1348.4,773.8 1350.1,774.4C1351.9,775.1 1353.6,786.9 1355.3,786.9C1357.4,786.9 1359.5,779.8 1361.5,776.5C1362.9,774.3 1364.3,770.3 1365.7,770.3C1366.9,770.3 1368.0,777.6 1369.2,783.4C1370.3,788.6 1371.3,800.5 1372.4,806.5C1373.4,812.5 1374.5,821.2 1375.5,821.2C1376.9,821.2 1378.3,808.6 1379.7,802.3C1381.1,796.0 1382.5,787.4 1383.9,783.4C1386.0,777.4 1388.1,775.6 1390.2,770.8C1392.3,766.0 1394.4,754.0 1396.5,754.0C1398.6,754.0 1400.7,754.0 1402.8,754.0C1404.9,754.0 1407.0,758.9 1409.1,760.3C1410.5,761.2 1411.9,762.4 1413.3,762.4C1414.8,762.4 1416.2,758.5 1417.6,758.2C1420.4,757.5 1423.2,757.1 1426.0,757.1C1427.4,757.1 1428.8,762.0 1430.2,764.5C1432.3,768.2 1434.4,776.0 1436.5,776.0C1439.3,776.0 1442.1,773.9 1444.9,773.9C1446.3,773.9 1447.7,776.7 1449.1,779.2C1450.5,781.7 1451.9,788.6 1453.3,791.8C1455.4,796.7 1457.5,803.4 1459.6,803.4C1461.7,803.4 1463.8,793.9 1465.9,793.9C1468.0,793.9 1470.1,793.9 1472.2,793.9C1474.3,793.9 1476.4,800.2 1478.5,800.2C1480.6,800.2 1482.7,790.8 1484.8,790.8C1486.9,790.8 1489.0,791.2 1491.1,791.8C1493.2,792.4 1495.3,797.1 1497.4,797.1C1498.8,797.1 1500.2,793.2 1501.6,789.7C1503.0,786.2 1504.4,776.2 1505.8,770.8C1507.9,762.7 1510.0,754.1 1512.2,749.8C1514.3,745.4 1516.4,741.4 1518.5,740.3C1522.0,738.4 1525.5,738.1 1529.0,737.2C1531.8,736.4 1534.6,736.0 1537.4,735.0C1540.2,734.1 1543.0,731.6 1545.8,730.8C1548.6,730.0 1551.4,729.6 1554.2,729.2C1558.4,728.5 1562.6,727.7 1566.8,727.7C1571.0,727.7 1575.2,728.2 1579.4,728.7C1582.2,729.1 1585.0,729.8 1587.8,730.4C1590.6,731.1 1593.4,732.9 1596.2,732.9C1599.7,732.9 1603.2,732.8 1606.7,732.5C1610.3,732.3 1613.8,731.3 1617.3,730.8C1624.3,730.0 1631.3,729.2 1638.3,728.7C1645.3,728.3 1652.3,727.7 1659.3,727.7C1666.3,727.7 1673.3,727.7 1680.3,727.7C1690.1,727.7 1699.9,727.7 1709.8,727.7" stroke="#ff00ff" stroke-width="5.6"/>
</g>
<rect x="1030.4" y="566.7" width="676.0" height="318.6" fill="none" stroke="#000" stroke-width="2.5"/>
<path d="M1078.7,885.3v-2.0M1078.7,566.7v2.0M1127.0,885.3v-6.5M1127.0,566.7v6.5M1175.3,885.3v-2.0M1175.3,566.7v2.0M1223.5,885.3v-6.5M1223.5,566.7v6.5M1271.8,885.3v-2.0M1271.8,566.7v2.0M1320.1,885.3v-6.5M1320.1,566.7v6.5M1368.4,885.3v-2.0M1368.4,566.7v2.0M1416.7,885.3v-6.5M1416.7,566.7v6.5M1465.0,885.3v-2.0M1465.0,566.7v2.0M1513.3,885.3v-6.5M1513.3,566.7v6.5M1561.5,885.3v-2.0M1561.5,566.7v2.0M1609.8,885.3v-6.5M1609.8,566.7v6.5M1658.1,885.3v-2.0M1658.1,566.7v2.0M1030.4,845.5h2.0M1706.4,845.5h-2.0M1030.4,805.6h6.5M1706.4,805.6h-6.5M1030.4,765.8h2.0M1706.4,765.8h-2.0M1030.4,726.0h6.5M1706.4,726.0h-6.5M1030.4,686.2h2.0M1706.4,686.2h-2.0M1030.4,646.4h6.5M1706.4,646.4h-6.5M1030.4,606.5h2.0M1706.4,606.5h-2.0" stroke="#000" stroke-width="2.2" fill="none"/>
<text transform="translate(1014.54,919.40) scale(0.9250,1)" font-size="40.50" font-weight="bold">-8</text>
<text transform="translate(1111.30,919.40) scale(0.9250,1)" font-size="40.50" font-weight="bold">-6</text>
<text transform="translate(1207.31,919.40) scale(0.9250,1)" font-size="40.50" font-weight="bold">-4</text>
<text transform="translate(1304.44,919.40) scale(0.9250,1)" font-size="40.50" font-weight="bold">-2</text>
<text transform="translate(1407.20,919.40) scale(0.9250,1)" font-size="40.50" font-weight="bold">0</text>
<text transform="translate(1503.95,919.40) scale(0.9250,1)" font-size="40.50" font-weight="bold">2</text>
<text transform="translate(1600.15,919.40) scale(0.9250,1)" font-size="40.50" font-weight="bold">4</text>
<text transform="translate(1696.91,919.40) scale(0.9250,1)" font-size="40.50" font-weight="bold">6</text>
<text transform="translate(983.64,576.60) scale(0.9250,1)" font-size="40.50" font-weight="bold">40</text>
<text transform="translate(983.64,656.25) scale(0.9250,1)" font-size="40.50" font-weight="bold">20</text>
<text transform="translate(1004.62,735.90) scale(0.9250,1)" font-size="40.50" font-weight="bold">0</text>
<text transform="translate(971.28,815.55) scale(0.9250,1)" font-size="40.50" font-weight="bold">-20</text>
<text transform="translate(971.28,895.20) scale(0.9250,1)" font-size="40.50" font-weight="bold">-40</text>
<text transform="translate(1056.14,845.95) scale(0.9700,1)" font-size="38.40" font-weight="bold">(g)</text>
<text transform="translate(1426.06,851.40) scale(0.9415,1)" font-size="46.09" font-weight="bold" fill="#000">E</text>
<text transform="translate(1453.90,868.80) scale(1.1180,1)" font-size="44.72" font-weight="normal" fill="#000">f</text>
<text transform="translate(1285.96,988.40) scale(0.8998,1)" font-size="40.40" font-weight="bold">Energy (eV)</text>
<text transform="translate(939.20,866.90) rotate(-90) scale(0.9561,1) translate(-2.78,0)" font-size="39.71" font-weight="bold">DOS (states/cell)</text>
<rect x="1505.6" y="564.8" width="195.1" height="63.3" fill="#fff" stroke="#3a3a3a" stroke-width="1.3"/>
<line x1="1518.5" y1="603.8" x2="1548.4" y2="603.8" stroke="#000" stroke-width="5.4" stroke-linecap="round"/>
<text transform="translate(1553.07,608.20) scale(0.9237,1)" font-size="46.75" font-weight="bold">Co<tspan dy="5.2">3</tspan><tspan dy="-5.2">Ru</tspan></text>
<clipPath id="ch"><rect x="1030.4" y="1029.5" width="676.0" height="317.7"/></clipPath>
<line x1="1416.7" y1="1029.5" x2="1416.7" y2="1347.2" stroke="#000" stroke-width="1.1" stroke-dasharray="2.4,1.6"/>
<g clip-path="url(#ch)" fill="none" stroke-linejoin="round" stroke-linecap="round">
<path d="M1030.4,1188.3C1044.1,1187.0 1057.8,1184.9 1071.4,1184.3C1078.3,1184.0 1085.3,1184.0 1092.2,1183.7C1099.1,1183.3 1106.0,1181.0 1112.9,1181.0C1121.2,1181.0 1129.5,1181.8 1137.7,1182.6C1143.3,1183.1 1148.8,1184.6 1154.3,1185.1C1168.1,1186.4 1182.0,1187.8 1195.8,1187.8C1209.6,1187.8 1223.4,1187.4 1237.2,1187.2C1244.1,1187.1 1251.0,1186.8 1257.9,1186.8C1271.7,1186.8 1285.6,1187.6 1299.4,1187.8C1320.8,1188.1 1342.2,1187.9 1363.6,1188.4C1364.1,1188.4 1364.5,1188.7 1365.0,1188.7C1379.0,1188.7 1393.0,1187.1 1407.0,1187.1C1421.1,1187.1 1435.1,1187.1 1449.1,1187.1C1470.1,1187.1 1491.1,1187.5 1512.2,1187.7C1533.2,1187.9 1554.2,1188.3 1575.2,1188.3C1620.1,1188.3 1664.9,1188.3 1709.8,1188.3" stroke="#000000" stroke-width="4.2"/>
<path d="M1030.4,1188.3C1044.1,1189.5 1057.8,1191.9 1071.4,1191.9C1085.3,1191.9 1099.1,1191.9 1112.9,1191.9C1126.7,1191.9 1140.5,1193.0 1154.3,1193.0C1168.1,1193.0 1182.0,1193.0 1195.8,1193.0C1209.6,1193.0 1223.4,1191.1 1237.2,1190.9C1251.0,1190.7 1264.8,1190.6 1278.7,1190.5C1307.0,1190.2 1335.3,1189.2 1363.6,1189.2C1364.1,1189.2 1364.5,1189.8 1365.0,1189.8C1386.0,1189.8 1407.0,1189.2 1428.1,1189.2C1438.6,1189.2 1449.1,1189.2 1459.6,1189.2C1477.1,1189.2 1494.6,1189.5 1512.2,1189.8C1533.2,1190.2 1554.2,1192.9 1575.2,1192.9C1582.2,1192.9 1589.2,1191.5 1596.2,1191.3C1634.1,1189.9 1671.9,1189.9 1709.8,1189.2" stroke="#000000" stroke-width="4.2"/>
<path d="M1030.4,1188.3C1051.0,1187.7 1071.6,1187.4 1092.2,1186.3C1099.1,1186.0 1106.0,1185.3 1112.9,1184.7C1119.8,1184.1 1126.7,1182.6 1133.6,1182.6C1140.5,1182.6 1147.4,1185.7 1154.3,1185.7C1161.2,1185.7 1168.1,1185.2 1175.0,1184.7C1179.2,1184.4 1183.3,1182.6 1187.5,1182.6C1190.2,1182.6 1193.0,1184.2 1195.8,1184.3C1202.7,1184.6 1209.6,1184.7 1216.5,1184.7C1223.4,1184.7 1230.3,1182.8 1237.2,1182.6C1244.1,1182.4 1251.0,1182.5 1257.9,1182.2C1260.7,1182.1 1263.5,1181.0 1266.2,1181.0C1270.4,1181.0 1274.5,1181.8 1278.7,1182.2C1285.6,1182.9 1292.5,1183.9 1299.4,1184.3C1306.3,1184.7 1313.2,1184.9 1320.1,1185.1C1327.0,1185.3 1333.9,1185.7 1340.8,1185.7C1348.4,1185.7 1356.0,1185.7 1363.6,1185.7C1364.1,1185.7 1364.5,1184.6 1365.0,1184.5C1372.0,1183.6 1379.0,1183.5 1386.0,1183.5C1393.0,1183.5 1400.0,1183.5 1407.0,1183.5C1414.1,1183.5 1421.1,1183.5 1428.1,1183.5C1435.1,1183.5 1442.1,1183.9 1449.1,1184.1C1456.1,1184.3 1463.1,1184.5 1470.1,1184.5C1477.1,1184.5 1484.1,1184.5 1491.1,1184.5C1498.1,1184.5 1505.1,1183.8 1512.2,1183.5C1519.2,1183.2 1526.2,1183.1 1533.2,1182.9C1540.2,1182.6 1547.2,1182.0 1554.2,1182.0C1561.2,1182.0 1568.2,1182.9 1575.2,1182.9C1582.2,1182.9 1589.2,1182.9 1596.2,1182.9C1603.2,1182.9 1610.3,1182.9 1617.3,1182.9C1624.3,1182.9 1631.3,1183.3 1638.3,1183.5C1645.3,1183.7 1652.3,1183.9 1659.3,1184.1C1666.3,1184.3 1673.3,1184.5 1680.3,1184.5C1690.1,1184.5 1699.9,1184.5 1709.8,1184.5" stroke="#0000ff" stroke-width="5.0"/>
<path d="M1030.4,1188.3C1051.0,1188.5 1071.6,1188.6 1092.2,1188.8C1106.0,1189.0 1119.8,1189.0 1133.6,1189.2C1140.5,1189.4 1147.4,1190.4 1154.3,1190.9C1161.2,1191.5 1168.1,1192.3 1175.0,1192.6C1182.0,1192.8 1188.9,1193.0 1195.8,1193.0C1202.7,1193.0 1209.6,1191.9 1216.5,1191.9C1223.4,1191.9 1230.3,1192.7 1237.2,1193.4C1242.0,1193.9 1246.9,1196.1 1251.7,1196.1C1253.8,1196.1 1255.9,1193.0 1257.9,1193.0C1264.8,1193.0 1271.7,1193.0 1278.7,1193.0C1285.6,1193.0 1292.5,1196.5 1299.4,1196.7C1306.3,1197.0 1313.2,1197.1 1320.1,1197.1C1327.0,1197.1 1333.9,1195.5 1340.8,1195.0C1348.4,1194.6 1356.0,1194.1 1363.6,1194.0C1364.1,1194.0 1364.5,1194.0 1365.0,1194.0C1372.0,1193.9 1379.0,1190.4 1386.0,1189.8C1393.0,1189.2 1400.0,1188.7 1407.0,1188.7C1414.1,1188.7 1421.1,1189.4 1428.1,1189.8C1435.1,1190.2 1442.1,1191.0 1449.1,1191.3C1456.1,1191.6 1463.1,1191.7 1470.1,1191.9C1477.1,1192.1 1484.1,1192.5 1491.1,1192.5C1498.1,1192.5 1505.1,1192.1 1512.2,1191.9C1519.2,1191.7 1526.2,1191.3 1533.2,1191.3C1540.2,1191.3 1547.2,1191.3 1554.2,1191.3C1561.2,1191.3 1568.2,1193.4 1575.2,1193.4C1582.2,1193.4 1589.2,1193.4 1596.2,1193.4C1603.2,1193.4 1610.3,1193.1 1617.3,1192.9C1624.3,1192.8 1631.3,1192.7 1638.3,1192.5C1645.3,1192.4 1652.3,1192.1 1659.3,1191.9C1666.3,1191.7 1673.3,1191.4 1680.3,1191.3C1690.1,1191.1 1699.9,1191.0 1709.8,1190.8" stroke="#0000ff" stroke-width="5.0"/>
<path d="M1030.4,1188.3C1048.9,1187.8 1067.4,1187.9 1085.9,1186.8C1089.4,1186.6 1092.9,1185.9 1096.3,1184.7C1098.4,1184.0 1100.5,1181.5 1102.5,1179.5C1104.6,1177.5 1106.7,1174.0 1108.7,1172.3C1110.8,1170.5 1112.9,1168.4 1115.0,1168.1C1117.0,1167.9 1119.1,1167.9 1121.2,1167.7C1123.2,1167.4 1125.3,1164.5 1127.4,1164.0C1129.5,1163.4 1131.5,1163.6 1133.6,1162.9C1135.0,1162.5 1136.4,1159.0 1137.7,1157.7C1139.8,1155.9 1141.9,1153.6 1144.0,1153.6C1145.3,1153.6 1146.7,1156.0 1148.1,1157.7C1149.5,1159.5 1150.9,1165.0 1152.3,1165.0C1154.3,1165.0 1156.4,1163.3 1158.5,1162.9C1161.2,1162.4 1164.0,1162.6 1166.8,1161.9C1168.1,1161.5 1169.5,1158.2 1170.9,1155.7C1173.0,1151.9 1175.0,1144.7 1177.1,1141.2C1179.2,1137.7 1181.3,1133.6 1183.3,1132.9C1185.1,1132.3 1186.8,1131.8 1188.5,1131.8C1190.2,1131.8 1192.0,1141.6 1193.7,1143.2C1195.8,1145.2 1197.8,1146.7 1199.9,1147.0C1202.0,1147.2 1204.1,1147.1 1206.1,1147.4C1208.2,1147.7 1210.3,1153.0 1212.3,1155.7C1215.1,1159.2 1217.9,1166.0 1220.6,1166.0C1222.4,1166.0 1224.1,1161.3 1225.8,1157.7C1227.5,1154.2 1229.3,1145.8 1231.0,1143.2C1233.1,1140.1 1235.1,1138.9 1237.2,1137.0C1238.9,1135.5 1240.7,1134.7 1242.4,1132.9C1243.8,1131.4 1245.2,1126.7 1246.5,1126.7C1249.0,1126.7 1251.4,1130.8 1253.8,1130.8C1255.2,1130.8 1256.6,1122.7 1257.9,1118.4C1260.0,1111.9 1262.1,1102.5 1264.1,1097.7C1266.9,1091.2 1269.7,1083.2 1272.4,1083.2C1274.2,1083.2 1275.9,1090.4 1277.6,1097.7C1278.7,1102.0 1279.7,1119.7 1280.7,1120.5C1282.8,1121.9 1284.9,1121.7 1286.9,1122.5C1289.4,1123.4 1291.8,1125.6 1294.2,1125.6C1296.6,1125.6 1299.0,1120.8 1301.4,1118.4C1303.9,1116.0 1306.3,1111.1 1308.7,1111.1C1310.4,1111.1 1312.2,1118.9 1313.9,1120.5C1315.6,1122.0 1317.3,1122.0 1319.1,1123.6C1320.8,1125.1 1322.5,1131.6 1324.2,1132.9C1325.6,1133.9 1327.0,1135.0 1328.4,1135.0C1330.5,1135.0 1332.5,1134.2 1334.6,1132.9C1336.0,1132.0 1337.4,1120.3 1338.7,1116.3C1340.1,1112.3 1341.5,1107.3 1342.9,1107.0C1345.7,1106.3 1348.4,1105.9 1351.2,1105.9C1352.9,1105.9 1354.6,1113.2 1356.4,1118.4C1358.1,1123.6 1359.8,1137.0 1361.5,1139.1C1362.9,1140.8 1364.3,1142.2 1365.7,1142.2C1367.6,1142.2 1369.4,1140.4 1371.3,1139.3C1373.4,1138.1 1375.5,1135.1 1377.6,1135.1C1379.0,1135.1 1380.4,1142.1 1381.8,1146.7C1383.2,1151.3 1384.6,1160.9 1386.0,1163.5C1388.1,1167.5 1390.2,1169.7 1392.3,1170.9C1395.1,1172.5 1397.9,1173.0 1400.7,1174.0C1403.5,1175.1 1406.3,1175.6 1409.1,1177.2C1411.2,1178.4 1413.3,1183.1 1415.5,1183.5C1419.7,1184.2 1423.9,1184.5 1428.1,1184.5C1435.1,1184.5 1442.1,1184.5 1449.1,1184.5C1456.1,1184.5 1463.1,1185.2 1470.1,1185.6C1477.1,1185.9 1484.1,1186.3 1491.1,1186.6C1498.1,1187.0 1505.1,1187.7 1512.2,1187.7C1519.2,1187.7 1526.2,1187.2 1533.2,1187.1C1540.2,1186.9 1547.2,1186.6 1554.2,1186.6C1561.2,1186.6 1568.2,1189.8 1575.2,1189.8C1582.2,1189.8 1589.2,1189.8 1596.2,1189.8C1603.2,1189.8 1610.3,1189.2 1617.3,1189.2C1624.3,1189.2 1631.3,1189.2 1638.3,1189.2C1645.3,1189.2 1652.3,1188.7 1659.3,1188.7C1666.3,1188.7 1673.3,1188.7 1680.3,1188.7C1690.1,1188.7 1699.9,1188.7 1709.8,1188.7" stroke="#ff00ff" stroke-width="5.6"/>
<path d="M1030.4,1188.3C1051.0,1188.4 1071.6,1188.4 1092.2,1188.4C1106.0,1188.4 1119.8,1188.6 1133.6,1188.8C1139.8,1189.0 1146.0,1189.5 1152.3,1190.5C1155.0,1190.9 1157.8,1192.6 1160.5,1194.0C1162.6,1195.1 1164.7,1197.4 1166.8,1198.2C1169.5,1199.2 1172.3,1199.3 1175.0,1200.2C1177.8,1201.1 1180.6,1203.5 1183.3,1204.4C1186.1,1205.3 1188.9,1206.0 1191.6,1206.4C1194.4,1206.9 1197.2,1207.0 1199.9,1207.5C1202.7,1208.0 1205.4,1210.6 1208.2,1210.6C1210.3,1210.6 1212.3,1209.6 1214.4,1209.6C1217.2,1209.6 1219.9,1217.3 1222.7,1219.9C1225.5,1222.5 1228.2,1224.5 1231.0,1226.1C1233.8,1227.8 1236.5,1228.4 1239.3,1230.3C1241.4,1231.7 1243.4,1234.1 1245.5,1236.5C1247.6,1238.9 1249.6,1244.8 1251.7,1244.8C1253.1,1244.8 1254.5,1237.9 1255.9,1234.4C1257.2,1231.0 1258.6,1225.6 1260.0,1224.1C1262.1,1221.8 1264.1,1220.6 1266.2,1219.9C1267.6,1219.4 1269.0,1218.9 1270.4,1218.9C1272.4,1218.9 1274.5,1224.1 1276.6,1224.1C1278.3,1224.1 1280.0,1217.8 1281.8,1217.8C1283.5,1217.8 1285.2,1223.5 1286.9,1226.1C1289.0,1229.3 1291.1,1233.1 1293.2,1235.5C1295.9,1238.5 1298.7,1240.6 1301.4,1242.7C1303.5,1244.3 1305.6,1245.3 1307.7,1246.9C1309.7,1248.4 1311.8,1249.5 1313.9,1252.0C1316.0,1254.5 1318.0,1265.5 1320.1,1265.5C1322.9,1265.5 1325.6,1263.4 1328.4,1263.4C1330.5,1263.4 1332.5,1274.3 1334.6,1275.9C1336.0,1276.9 1337.4,1277.9 1338.7,1277.9C1340.8,1277.9 1342.9,1267.5 1345.0,1263.4C1347.0,1259.4 1349.1,1253.8 1351.2,1253.1C1352.9,1252.5 1354.6,1252.0 1356.4,1252.0C1358.1,1252.0 1359.8,1269.0 1361.5,1271.7C1362.9,1273.9 1364.3,1275.9 1365.7,1275.9C1366.9,1275.9 1368.0,1262.1 1369.2,1258.1C1370.6,1253.4 1372.0,1251.7 1373.4,1247.6C1374.8,1243.5 1376.2,1237.4 1377.6,1232.9C1379.7,1226.1 1381.8,1216.7 1383.9,1214.0C1386.0,1211.2 1388.1,1208.7 1390.2,1208.7C1393.0,1208.7 1395.8,1211.0 1398.6,1212.9C1401.4,1214.9 1404.2,1220.5 1407.0,1222.4C1409.1,1223.8 1411.2,1225.5 1413.3,1225.5C1415.1,1225.5 1416.9,1225.5 1418.6,1225.5C1420.0,1225.5 1421.4,1242.4 1422.8,1249.7C1424.2,1257.0 1425.6,1269.7 1427.0,1269.7C1428.8,1269.7 1430.5,1256.2 1432.3,1251.8C1434.0,1247.4 1435.8,1241.3 1437.5,1241.3C1439.3,1241.3 1441.0,1247.1 1442.8,1247.6C1444.9,1248.2 1447.0,1248.0 1449.1,1248.7C1450.8,1249.2 1452.6,1255.0 1454.3,1255.0C1455.7,1255.0 1457.1,1241.1 1458.5,1235.0C1460.3,1227.4 1462.0,1217.2 1463.8,1214.0C1465.9,1210.1 1468.0,1207.1 1470.1,1206.6C1472.9,1206.0 1475.7,1205.6 1478.5,1205.6C1481.3,1205.6 1484.1,1205.6 1486.9,1205.6C1489.0,1205.6 1491.1,1200.9 1493.2,1199.3C1495.3,1197.6 1497.4,1195.7 1499.5,1195.0C1503.7,1193.8 1507.9,1193.4 1512.2,1192.9C1519.2,1192.2 1526.2,1191.5 1533.2,1191.3C1540.2,1191.0 1547.2,1190.8 1554.2,1190.8C1561.2,1190.8 1568.2,1194.4 1575.2,1195.0C1577.3,1195.2 1579.4,1195.5 1581.5,1195.5C1586.4,1195.5 1591.3,1193.8 1596.2,1193.4C1603.2,1192.7 1610.3,1192.3 1617.3,1191.9C1624.3,1191.5 1631.3,1190.8 1638.3,1190.8C1645.3,1190.8 1652.3,1190.8 1659.3,1190.8C1666.3,1190.8 1673.3,1190.0 1680.3,1189.8C1690.1,1189.5 1699.9,1189.4 1709.8,1189.2" stroke="#ff00ff" stroke-width="5.6"/>
</g>
<rect x="1030.4" y="1029.5" width="676.0" height="317.7" fill="none" stroke="#000" stroke-width="2.5"/>
<path d="M1078.7,1347.2v-2.0M1078.7,1029.5v2.0M1127.0,1347.2v-6.5M1127.0,1029.5v6.5M1175.3,1347.2v-2.0M1175.3,1029.5v2.0M1223.5,1347.2v-6.5M1223.5,1029.5v6.5M1271.8,1347.2v-2.0M1271.8,1029.5v2.0M1320.1,1347.2v-6.5M1320.1,1029.5v6.5M1368.4,1347.2v-2.0M1368.4,1029.5v2.0M1416.7,1347.2v-6.5M1416.7,1029.5v6.5M1465.0,1347.2v-2.0M1465.0,1029.5v2.0M1513.3,1347.2v-6.5M1513.3,1029.5v6.5M1561.5,1347.2v-2.0M1561.5,1029.5v2.0M1609.8,1347.2v-6.5M1609.8,1029.5v6.5M1658.1,1347.2v-2.0M1658.1,1029.5v2.0M1030.4,1307.5h2.0M1706.4,1307.5h-2.0M1030.4,1267.8h6.5M1706.4,1267.8h-6.5M1030.4,1228.1h2.0M1706.4,1228.1h-2.0M1030.4,1188.3h6.5M1706.4,1188.3h-6.5M1030.4,1148.6h2.0M1706.4,1148.6h-2.0M1030.4,1108.9h6.5M1706.4,1108.9h-6.5M1030.4,1069.2h2.0M1706.4,1069.2h-2.0" stroke="#000" stroke-width="2.2" fill="none"/>
<text transform="translate(1014.54,1381.30) scale(0.9250,1)" font-size="40.50" font-weight="bold">-8</text>
<text transform="translate(1111.30,1381.30) scale(0.9250,1)" font-size="40.50" font-weight="bold">-6</text>
<text transform="translate(1207.31,1381.30) scale(0.9250,1)" font-size="40.50" font-weight="bold">-4</text>
<text transform="translate(1304.44,1381.30) scale(0.9250,1)" font-size="40.50" font-weight="bold">-2</text>
<text transform="translate(1407.20,1381.30) scale(0.9250,1)" font-size="40.50" font-weight="bold">0</text>
<text transform="translate(1503.95,1381.30) scale(0.9250,1)" font-size="40.50" font-weight="bold">2</text>
<text transform="translate(1600.15,1381.30) scale(0.9250,1)" font-size="40.50" font-weight="bold">4</text>
<text transform="translate(1696.91,1381.30) scale(0.9250,1)" font-size="40.50" font-weight="bold">6</text>
<text transform="translate(983.64,1039.40) scale(0.9250,1)" font-size="40.50" font-weight="bold">40</text>
<text transform="translate(983.64,1118.83) scale(0.9250,1)" font-size="40.50" font-weight="bold">20</text>
<text transform="translate(1004.62,1198.25) scale(0.9250,1)" font-size="40.50" font-weight="bold">0</text>
<text transform="translate(971.28,1277.67) scale(0.9250,1)" font-size="40.50" font-weight="bold">-20</text>
<text transform="translate(971.28,1357.10) scale(0.9250,1)" font-size="40.50" font-weight="bold">-40</text>
<text transform="translate(1048.54,1313.65) scale(0.9700,1)" font-size="38.40" font-weight="bold">(h)</text>
<text transform="translate(1427.16,1312.50) scale(0.9415,1)" font-size="46.09" font-weight="bold" fill="#000">E</text>
<text transform="translate(1455.00,1329.90) scale(1.1180,1)" font-size="44.72" font-weight="normal" fill="#000">f</text>
<text transform="translate(1293.66,1456.70) scale(0.8998,1)" font-size="40.40" font-weight="bold">Energy (eV)</text>
<text transform="translate(940.90,1338.90) rotate(-90) scale(0.9561,1) translate(-2.78,0)" font-size="39.71" font-weight="bold">DOS (states/cell)</text>
<rect x="1524.3" y="1030.6" width="179.3" height="64.7" fill="#fff" stroke="#3a3a3a" stroke-width="1.3"/>
<line x1="1536.1" y1="1070.8" x2="1565.7" y2="1070.8" stroke="#000" stroke-width="5.4" stroke-linecap="round"/>
<text transform="translate(1570.59,1075.00) scale(0.9210,1)" font-size="46.75" font-weight="bold">Ni<tspan dy="5.2">3</tspan><tspan dy="-5.2">Ru</tspan></text>
<clipPath id="ci"><rect x="1030.4" y="1491.2" width="676.0" height="318.8"/></clipPath>
<line x1="1416.7" y1="1491.2" x2="1416.7" y2="1810.0" stroke="#000" stroke-width="1.1" stroke-dasharray="2.4,1.6"/>
<g clip-path="url(#ci)" fill="none" stroke-linejoin="round" stroke-linecap="round">
<path d="M1030.4,1650.6C1051.0,1649.6 1071.6,1647.5 1092.2,1647.5C1102.5,1647.5 1112.9,1647.5 1123.2,1647.5C1128.1,1647.5 1132.9,1645.7 1137.7,1645.0C1140.5,1644.7 1143.3,1644.0 1146.0,1644.0C1148.8,1644.0 1151.6,1645.5 1154.3,1646.1C1161.2,1647.4 1168.1,1649.0 1175.0,1649.2C1188.9,1649.5 1202.7,1649.6 1216.5,1649.6C1223.4,1649.6 1230.3,1649.3 1237.2,1649.2C1244.1,1649.1 1251.0,1648.8 1257.9,1648.8C1261.4,1648.8 1264.8,1649.1 1268.3,1649.2C1278.7,1649.4 1289.0,1649.5 1299.4,1649.6C1320.8,1649.9 1342.2,1650.2 1363.6,1650.2C1364.1,1650.2 1364.5,1649.8 1365.0,1649.7C1371.3,1648.2 1377.6,1647.2 1383.9,1647.2C1388.1,1647.2 1392.3,1649.7 1396.5,1649.7C1407.0,1649.7 1417.6,1649.7 1428.1,1649.7C1449.1,1649.7 1470.1,1650.5 1491.1,1650.5C1512.2,1650.5 1533.2,1649.7 1554.2,1649.7C1606.0,1649.7 1657.9,1650.0 1709.8,1650.1" stroke="#000000" stroke-width="4.2"/>
<path d="M1030.4,1650.6C1051.0,1651.7 1071.6,1653.8 1092.2,1653.8C1102.5,1653.8 1112.9,1653.8 1123.2,1653.8C1128.1,1653.8 1132.9,1655.5 1137.7,1656.2C1140.5,1656.6 1143.3,1657.3 1146.0,1657.3C1148.8,1657.3 1151.6,1655.7 1154.3,1655.2C1161.2,1653.9 1168.1,1652.2 1175.0,1652.1C1188.9,1651.8 1202.7,1651.7 1216.5,1651.7C1223.4,1651.7 1230.3,1652.0 1237.2,1652.1C1244.1,1652.2 1251.0,1652.5 1257.9,1652.5C1261.4,1652.5 1264.8,1652.2 1268.3,1652.1C1278.7,1651.9 1289.0,1651.8 1299.4,1651.7C1320.8,1651.4 1342.2,1651.1 1363.6,1651.1C1364.1,1651.1 1364.5,1651.4 1365.0,1651.5C1371.3,1652.9 1377.6,1654.0 1383.9,1654.0C1388.1,1654.0 1392.3,1651.5 1396.5,1651.5C1407.0,1651.5 1417.6,1651.5 1428.1,1651.5C1449.1,1651.5 1470.1,1650.7 1491.1,1650.7C1512.2,1650.7 1533.2,1651.5 1554.2,1651.5C1606.0,1651.5 1657.9,1651.2 1709.8,1651.1" stroke="#000000" stroke-width="4.2"/>
<path d="M1030.4,1650.6C1061.3,1650.3 1092.3,1650.4 1123.2,1649.6C1126.7,1649.5 1130.2,1648.0 1133.6,1647.5C1137.7,1646.9 1141.9,1646.4 1146.0,1646.1C1151.6,1645.6 1157.1,1645.0 1162.6,1645.0C1166.8,1645.0 1170.9,1645.9 1175.0,1646.1C1182.0,1646.4 1188.9,1646.5 1195.8,1646.7C1202.7,1646.9 1209.6,1647.1 1216.5,1647.1C1223.4,1647.1 1230.3,1646.4 1237.2,1646.1C1244.1,1645.7 1251.0,1645.0 1257.9,1645.0C1261.4,1645.0 1264.8,1645.0 1268.3,1645.0C1271.7,1645.0 1275.2,1646.5 1278.7,1646.7C1285.6,1647.2 1292.5,1647.5 1299.4,1647.5C1302.1,1647.5 1304.9,1646.1 1307.7,1645.0C1309.7,1644.3 1311.8,1641.9 1313.9,1641.9C1316.0,1641.9 1318.0,1644.0 1320.1,1645.0C1322.2,1646.1 1324.2,1647.5 1326.3,1648.2C1329.1,1649.1 1331.8,1650.2 1334.6,1650.2C1338.7,1650.2 1342.9,1649.6 1347.0,1649.6C1352.6,1649.6 1358.1,1649.6 1363.6,1649.6C1364.1,1649.6 1364.5,1648.5 1365.0,1648.2C1367.8,1646.5 1370.6,1646.1 1373.4,1645.0C1376.9,1643.8 1380.4,1641.3 1383.9,1641.3C1386.7,1641.3 1389.5,1644.4 1392.3,1645.0C1397.2,1646.2 1402.1,1647.2 1407.0,1647.2C1414.1,1647.2 1421.1,1647.2 1428.1,1647.2C1435.1,1647.2 1442.1,1647.2 1449.1,1647.2C1456.1,1647.2 1463.1,1647.9 1470.1,1648.2C1477.1,1648.5 1484.1,1648.8 1491.1,1648.8C1505.1,1648.8 1519.2,1648.2 1533.2,1647.2C1538.8,1646.7 1544.4,1644.0 1550.0,1644.0C1558.4,1644.0 1566.8,1644.6 1575.2,1644.6C1589.2,1644.6 1603.2,1644.6 1617.3,1644.6C1631.3,1644.6 1645.3,1645.2 1659.3,1645.5C1676.1,1645.8 1692.9,1646.3 1709.8,1646.7" stroke="#0000ff" stroke-width="5.0"/>
<path d="M1030.4,1650.6C1061.3,1651.0 1092.3,1650.8 1123.2,1651.7C1126.7,1651.8 1130.2,1653.2 1133.6,1653.8C1137.7,1654.4 1141.9,1654.9 1146.0,1655.2C1151.6,1655.7 1157.1,1656.2 1162.6,1656.2C1166.8,1656.2 1170.9,1655.4 1175.0,1655.2C1182.0,1654.9 1188.9,1654.7 1195.8,1654.6C1202.7,1654.4 1209.6,1654.2 1216.5,1654.2C1223.4,1654.2 1230.3,1654.9 1237.2,1655.2C1244.1,1655.5 1251.0,1656.2 1257.9,1656.2C1261.4,1656.2 1264.8,1656.2 1268.3,1656.2C1271.7,1656.2 1275.2,1654.8 1278.7,1654.6C1285.6,1654.1 1292.5,1653.8 1299.4,1653.8C1302.1,1653.8 1304.9,1655.2 1307.7,1656.2C1309.7,1657.0 1311.8,1659.3 1313.9,1659.3C1316.0,1659.3 1318.0,1657.3 1320.1,1656.2C1322.2,1655.2 1324.2,1653.8 1326.3,1653.1C1329.1,1652.2 1331.8,1651.1 1334.6,1651.1C1338.7,1651.1 1342.9,1651.7 1347.0,1651.7C1352.6,1651.7 1358.1,1651.7 1363.6,1651.7C1364.1,1651.7 1364.5,1652.7 1365.0,1653.0C1367.8,1654.7 1370.6,1655.1 1373.4,1656.1C1376.9,1657.4 1380.4,1659.9 1383.9,1659.9C1386.7,1659.9 1389.5,1656.8 1392.3,1656.1C1397.2,1655.0 1402.1,1654.0 1407.0,1654.0C1414.1,1654.0 1421.1,1654.0 1428.1,1654.0C1435.1,1654.0 1442.1,1654.0 1449.1,1654.0C1456.1,1654.0 1463.1,1653.3 1470.1,1653.0C1477.1,1652.7 1484.1,1652.4 1491.1,1652.4C1505.1,1652.4 1519.2,1653.0 1533.2,1654.0C1538.8,1654.5 1544.4,1657.2 1550.0,1657.2C1558.4,1657.2 1566.8,1656.6 1575.2,1656.6C1589.2,1656.6 1603.2,1656.6 1617.3,1656.6C1631.3,1656.6 1645.3,1656.0 1659.3,1655.7C1676.1,1655.4 1692.9,1654.9 1709.8,1654.5" stroke="#0000ff" stroke-width="5.0"/>
<path d="M1030.4,1650.6C1061.3,1650.5 1092.3,1650.6 1123.2,1650.2C1126.0,1650.2 1128.8,1649.4 1131.5,1648.2C1133.6,1647.2 1135.7,1640.9 1137.7,1638.8C1139.8,1636.8 1141.9,1634.9 1144.0,1634.3C1146.7,1633.4 1149.5,1633.5 1152.3,1632.6C1155.0,1631.7 1157.8,1628.1 1160.5,1626.4C1164.0,1624.3 1167.4,1623.4 1170.9,1621.2C1173.7,1619.4 1176.4,1616.7 1179.2,1614.0C1182.0,1611.2 1184.7,1607.4 1187.5,1604.6C1190.2,1601.9 1193.0,1600.5 1195.8,1597.4C1197.8,1595.1 1199.9,1588.1 1202.0,1588.1C1204.7,1588.1 1207.5,1589.7 1210.3,1590.1C1213.0,1590.6 1215.8,1590.7 1218.6,1591.2C1220.6,1591.6 1222.7,1592.1 1224.8,1593.2C1226.5,1594.2 1228.2,1601.5 1230.0,1601.5C1231.7,1601.5 1233.4,1597.9 1235.1,1595.3C1237.2,1592.2 1239.3,1586.6 1241.4,1582.9C1244.1,1577.9 1246.9,1569.4 1249.6,1569.4C1251.7,1569.4 1253.8,1575.6 1255.9,1575.6C1257.2,1575.6 1258.6,1567.8 1260.0,1562.2C1262.1,1553.8 1264.1,1534.9 1266.2,1526.9C1267.6,1521.6 1269.0,1514.5 1270.4,1514.5C1271.4,1514.5 1272.4,1523.1 1273.5,1529.0C1274.9,1536.9 1276.2,1560.1 1277.6,1560.1C1279.0,1560.1 1280.4,1559.7 1281.8,1559.1C1283.5,1558.3 1285.2,1542.5 1286.9,1542.5C1288.0,1542.5 1289.0,1542.9 1290.0,1543.5C1291.4,1544.3 1292.8,1555.2 1294.2,1562.2C1295.2,1567.4 1296.3,1576.4 1297.3,1579.8C1298.7,1584.3 1300.1,1585.8 1301.4,1589.1C1303.2,1593.3 1304.9,1602.6 1306.6,1602.6C1308.4,1602.6 1310.1,1592.0 1311.8,1589.1C1313.2,1586.8 1314.6,1583.9 1316.0,1583.9C1317.3,1583.9 1318.7,1585.2 1320.1,1587.0C1321.5,1588.8 1322.9,1600.8 1324.2,1607.7C1325.6,1614.7 1327.0,1622.8 1328.4,1628.5C1329.8,1634.2 1331.1,1640.5 1332.5,1643.0C1334.6,1646.7 1336.7,1649.9 1338.7,1650.2C1341.5,1650.6 1344.3,1650.8 1347.0,1650.8C1350.5,1650.8 1353.9,1649.2 1357.4,1647.1C1359.5,1645.9 1361.5,1643.0 1363.6,1638.8C1364.1,1637.9 1364.5,1636.0 1365.0,1634.5C1366.4,1630.3 1367.8,1627.2 1369.2,1621.9C1370.6,1616.7 1372.0,1609.3 1373.4,1600.9C1374.8,1592.5 1376.2,1577.5 1377.6,1569.4C1379.0,1561.2 1380.4,1550.2 1381.8,1549.4C1382.9,1548.8 1383.9,1548.3 1385.0,1548.3C1386.0,1548.3 1387.1,1557.4 1388.1,1563.1C1389.5,1570.6 1390.9,1583.5 1392.3,1590.4C1393.7,1597.3 1395.1,1603.4 1396.5,1607.2C1398.6,1612.9 1400.7,1616.0 1402.8,1619.8C1404.9,1623.6 1407.0,1627.7 1409.1,1630.3C1411.2,1633.0 1413.3,1636.2 1415.5,1636.6C1418.3,1637.3 1421.1,1637.7 1423.9,1637.7C1426.0,1637.7 1428.1,1637.7 1430.2,1637.7C1432.3,1637.7 1434.4,1634.5 1436.5,1634.5C1439.3,1634.5 1442.1,1635.0 1444.9,1635.6C1447.0,1636.1 1449.1,1639.3 1451.2,1640.8C1453.3,1642.4 1455.4,1644.4 1457.5,1645.0C1461.7,1646.3 1465.9,1646.8 1470.1,1647.2C1477.1,1647.7 1484.1,1647.9 1491.1,1648.2C1498.1,1648.5 1505.1,1648.7 1512.2,1648.8C1519.2,1649.0 1526.2,1649.1 1533.2,1649.3C1540.2,1649.4 1547.2,1649.7 1554.2,1649.7C1561.2,1649.7 1568.2,1649.7 1575.2,1649.7C1582.2,1649.7 1589.2,1649.7 1596.2,1649.7C1610.3,1649.7 1624.3,1650.0 1638.3,1650.1C1662.1,1650.3 1685.9,1650.4 1709.8,1650.5" stroke="#ff00ff" stroke-width="5.6"/>
<path d="M1030.4,1650.6C1061.3,1650.8 1092.3,1650.6 1123.2,1651.1C1126.0,1651.1 1128.8,1651.9 1131.5,1653.1C1133.6,1654.0 1135.7,1660.4 1137.7,1662.5C1139.8,1664.5 1141.9,1666.3 1144.0,1667.0C1146.7,1667.9 1149.5,1667.8 1152.3,1668.7C1155.0,1669.5 1157.8,1673.2 1160.5,1674.9C1164.0,1677.0 1167.4,1677.8 1170.9,1680.1C1173.7,1681.8 1176.4,1684.6 1179.2,1687.3C1182.0,1690.0 1184.7,1693.9 1187.5,1696.6C1190.2,1699.4 1193.0,1700.8 1195.8,1703.9C1197.8,1706.2 1199.9,1713.2 1202.0,1713.2C1204.7,1713.2 1207.5,1711.6 1210.3,1711.1C1213.0,1710.7 1215.8,1710.6 1218.6,1710.1C1220.6,1709.7 1222.7,1709.2 1224.8,1708.0C1226.5,1707.1 1228.2,1699.8 1230.0,1699.8C1231.7,1699.8 1233.4,1703.4 1235.1,1706.0C1237.2,1709.1 1239.3,1714.7 1241.4,1718.4C1244.1,1723.4 1246.9,1731.9 1249.6,1731.9C1251.7,1731.9 1253.8,1725.7 1255.9,1725.7C1257.2,1725.7 1258.6,1733.5 1260.0,1739.1C1262.1,1747.5 1264.1,1766.4 1266.2,1774.3C1267.6,1779.7 1269.0,1786.8 1270.4,1786.8C1271.4,1786.8 1272.4,1778.2 1273.5,1772.3C1274.9,1764.4 1276.2,1741.2 1277.6,1741.2C1279.0,1741.2 1280.4,1741.6 1281.8,1742.2C1283.5,1743.0 1285.2,1758.8 1286.9,1758.8C1288.0,1758.8 1289.0,1758.4 1290.0,1757.8C1291.4,1756.9 1292.8,1746.1 1294.2,1739.1C1295.2,1733.9 1296.3,1724.9 1297.3,1721.5C1298.7,1717.0 1300.1,1715.5 1301.4,1712.2C1303.2,1708.0 1304.9,1698.7 1306.6,1698.7C1308.4,1698.7 1310.1,1709.3 1311.8,1712.2C1313.2,1714.5 1314.6,1717.4 1316.0,1717.4C1317.3,1717.4 1318.7,1716.1 1320.1,1714.3C1321.5,1712.5 1322.9,1700.4 1324.2,1693.5C1325.6,1686.6 1327.0,1678.5 1328.4,1672.8C1329.8,1667.1 1331.1,1660.8 1332.5,1658.3C1334.6,1654.6 1336.7,1651.4 1338.7,1651.1C1341.5,1650.7 1344.3,1650.4 1347.0,1650.4C1350.5,1650.4 1353.9,1652.1 1357.4,1654.2C1359.5,1655.4 1361.5,1658.3 1363.6,1662.5C1364.1,1663.4 1364.5,1665.3 1365.0,1666.7C1366.4,1670.9 1367.8,1674.0 1369.2,1679.3C1370.6,1684.5 1372.0,1691.9 1373.4,1700.3C1374.8,1708.7 1376.2,1723.7 1377.6,1731.8C1379.0,1740.0 1380.4,1751.0 1381.8,1751.8C1382.9,1752.4 1383.9,1752.8 1385.0,1752.8C1386.0,1752.8 1387.1,1743.8 1388.1,1738.1C1389.5,1730.6 1390.9,1717.7 1392.3,1710.8C1393.7,1703.9 1395.1,1697.8 1396.5,1694.0C1398.6,1688.3 1400.7,1685.2 1402.8,1681.4C1404.9,1677.6 1407.0,1673.5 1409.1,1670.9C1411.2,1668.2 1413.3,1665.0 1415.5,1664.6C1418.3,1663.9 1421.1,1663.5 1423.9,1663.5C1426.0,1663.5 1428.1,1663.5 1430.2,1663.5C1432.3,1663.5 1434.4,1666.7 1436.5,1666.7C1439.3,1666.7 1442.1,1666.2 1444.9,1665.6C1447.0,1665.1 1449.1,1661.9 1451.2,1660.4C1453.3,1658.8 1455.4,1656.7 1457.5,1656.1C1461.7,1654.9 1465.9,1654.4 1470.1,1654.0C1477.1,1653.5 1484.1,1653.3 1491.1,1653.0C1498.1,1652.7 1505.1,1652.5 1512.2,1652.4C1519.2,1652.2 1526.2,1652.1 1533.2,1651.9C1540.2,1651.8 1547.2,1651.5 1554.2,1651.5C1561.2,1651.5 1568.2,1651.5 1575.2,1651.5C1582.2,1651.5 1589.2,1651.5 1596.2,1651.5C1610.3,1651.5 1624.3,1651.2 1638.3,1651.1C1662.1,1650.9 1685.9,1650.8 1709.8,1650.7" stroke="#ff00ff" stroke-width="5.6"/>
</g>
<rect x="1030.4" y="1491.2" width="676.0" height="318.8" fill="none" stroke="#000" stroke-width="2.5"/>
<path d="M1078.7,1810.0v-2.0M1078.7,1491.2v2.0M1127.0,1810.0v-6.5M1127.0,1491.2v6.5M1175.3,1810.0v-2.0M1175.3,1491.2v2.0M1223.5,1810.0v-6.5M1223.5,1491.2v6.5M1271.8,1810.0v-2.0M1271.8,1491.2v2.0M1320.1,1810.0v-6.5M1320.1,1491.2v6.5M1368.4,1810.0v-2.0M1368.4,1491.2v2.0M1416.7,1810.0v-6.5M1416.7,1491.2v6.5M1465.0,1810.0v-2.0M1465.0,1491.2v2.0M1513.3,1810.0v-6.5M1513.3,1491.2v6.5M1561.5,1810.0v-2.0M1561.5,1491.2v2.0M1609.8,1810.0v-6.5M1609.8,1491.2v6.5M1658.1,1810.0v-2.0M1658.1,1491.2v2.0M1030.4,1770.1h2.0M1706.4,1770.1h-2.0M1030.4,1730.3h6.5M1706.4,1730.3h-6.5M1030.4,1690.4h2.0M1706.4,1690.4h-2.0M1030.4,1650.6h6.5M1706.4,1650.6h-6.5M1030.4,1610.8h2.0M1706.4,1610.8h-2.0M1030.4,1570.9h6.5M1706.4,1570.9h-6.5M1030.4,1531.0h2.0M1706.4,1531.0h-2.0" stroke="#000" stroke-width="2.2" fill="none"/>
<text transform="translate(1014.54,1844.10) scale(0.9250,1)" font-size="40.50" font-weight="bold">-8</text>
<text transform="translate(1111.30,1844.10) scale(0.9250,1)" font-size="40.50" font-weight="bold">-6</text>
<text transform="translate(1207.31,1844.10) scale(0.9250,1)" font-size="40.50" font-weight="bold">-4</text>
<text transform="translate(1304.44,1844.10) scale(0.9250,1)" font-size="40.50" font-weight="bold">-2</text>
<text transform="translate(1407.20,1844.10) scale(0.9250,1)" font-size="40.50" font-weight="bold">0</text>
<text transform="translate(1503.95,1844.10) scale(0.9250,1)" font-size="40.50" font-weight="bold">2</text>
<text transform="translate(1600.15,1844.10) scale(0.9250,1)" font-size="40.50" font-weight="bold">4</text>
<text transform="translate(1696.91,1844.10) scale(0.9250,1)" font-size="40.50" font-weight="bold">6</text>
<text transform="translate(983.64,1501.10) scale(0.9250,1)" font-size="40.50" font-weight="bold">40</text>
<text transform="translate(983.64,1580.80) scale(0.9250,1)" font-size="40.50" font-weight="bold">20</text>
<text transform="translate(1004.62,1660.50) scale(0.9250,1)" font-size="40.50" font-weight="bold">0</text>
<text transform="translate(971.28,1740.20) scale(0.9250,1)" font-size="40.50" font-weight="bold">-20</text>
<text transform="translate(971.28,1819.90) scale(0.9250,1)" font-size="40.50" font-weight="bold">-40</text>
<text transform="translate(1043.04,1794.65) scale(0.9700,1)" font-size="38.40" font-weight="bold">(i)</text>
<text transform="translate(1428.26,1775.30) scale(0.9415,1)" font-size="46.09" font-weight="bold" fill="#000">E</text>
<text transform="translate(1456.10,1792.70) scale(1.1180,1)" font-size="44.72" font-weight="normal" fill="#000">f</text>
<text transform="translate(1304.26,1908.10) scale(0.8998,1)" font-size="40.40" font-weight="bold">Energy (eV)</text>
<text transform="translate(942.10,1792.30) rotate(-90) scale(0.9561,1) translate(-2.78,0)" font-size="39.71" font-weight="bold">DOS (states/cell)</text>
<rect x="1506.4" y="1491.5" width="195.3" height="63.8" fill="#fff" stroke="#3a3a3a" stroke-width="1.3"/>
<line x1="1519.1" y1="1530.8" x2="1548.8" y2="1530.8" stroke="#000" stroke-width="5.4" stroke-linecap="round"/>
<text transform="translate(1553.38,1535.00) scale(0.9216,1)" font-size="46.75" font-weight="bold">Cu<tspan dy="5.2">3</tspan><tspan dy="-5.2">Ru</tspan></text>
<clipPath id="cj"><rect x="1030.4" y="1953.9" width="676.0" height="317.8"/></clipPath>
<line x1="1416.7" y1="1953.9" x2="1416.7" y2="2271.7" stroke="#000" stroke-width="1.1" stroke-dasharray="2.4,1.6"/>
<g clip-path="url(#cj)" fill="none" stroke-linejoin="round" stroke-linecap="round">
<path d="M1030.4,2112.5C1033.0,2110.8 1035.7,2107.5 1038.3,2107.5C1041.1,2107.5 1043.8,2110.5 1046.6,2110.8C1054.9,2111.8 1063.2,2112.3 1071.4,2112.3C1077.7,2112.3 1083.9,2107.5 1090.1,2107.5C1092.9,2107.5 1095.6,2110.0 1098.4,2110.8C1100.5,2111.5 1102.5,2112.5 1104.6,2112.5C1141.9,2112.5 1179.2,2112.5 1216.5,2112.5C1237.2,2112.5 1257.9,2111.9 1278.7,2111.3C1285.6,2111.1 1292.5,2110.2 1299.4,2110.2C1306.3,2110.2 1313.2,2110.6 1320.1,2110.8C1334.6,2111.3 1349.1,2111.1 1363.6,2112.1C1364.1,2112.1 1364.5,2112.4 1365.0,2112.4C1373.4,2112.4 1381.8,2110.3 1390.2,2110.3C1399.3,2110.3 1408.4,2112.4 1417.6,2112.4C1428.1,2112.4 1438.6,2110.9 1449.1,2110.9C1454.0,2110.9 1458.9,2112.4 1463.8,2112.4C1500.9,2112.4 1538.1,2111.2 1575.2,2109.3C1578.7,2109.1 1582.2,2108.2 1585.7,2108.2C1589.2,2108.2 1592.7,2109.5 1596.2,2109.7C1634.1,2111.2 1671.9,2111.1 1709.8,2111.8" stroke="#000000" stroke-width="4.2"/>
<path d="M1030.4,2112.5C1033.0,2114.2 1035.7,2117.5 1038.3,2117.5C1041.1,2117.5 1043.8,2114.5 1046.6,2114.2C1054.9,2113.2 1063.2,2112.7 1071.4,2112.7C1077.7,2112.7 1083.9,2117.5 1090.1,2117.5C1092.9,2117.5 1095.6,2115.0 1098.4,2114.2C1100.5,2113.5 1102.5,2112.5 1104.6,2112.5C1141.9,2112.5 1179.2,2112.5 1216.5,2112.5C1237.2,2112.5 1257.9,2113.1 1278.7,2113.8C1285.6,2114.0 1292.5,2114.8 1299.4,2114.8C1306.3,2114.8 1313.2,2114.4 1320.1,2114.2C1334.6,2113.7 1349.1,2113.9 1363.6,2112.9C1364.1,2112.9 1364.5,2112.6 1365.0,2112.6C1373.4,2112.6 1381.8,2114.7 1390.2,2114.7C1399.3,2114.7 1408.4,2112.6 1417.6,2112.6C1428.1,2112.6 1438.6,2114.0 1449.1,2114.0C1454.0,2114.0 1458.9,2112.6 1463.8,2112.6C1500.9,2112.6 1538.1,2113.8 1575.2,2115.7C1578.7,2115.9 1582.2,2116.8 1585.7,2116.8C1589.2,2116.8 1592.7,2115.5 1596.2,2115.3C1634.1,2113.7 1671.9,2113.9 1709.8,2113.2" stroke="#000000" stroke-width="4.2"/>
<path d="M1030.4,2112.5C1033.0,2111.1 1035.7,2108.2 1038.3,2108.2C1041.1,2108.2 1043.8,2110.6 1046.6,2110.8C1051.4,2111.4 1056.2,2111.7 1061.1,2111.7C1068.0,2111.7 1074.9,2111.6 1081.8,2111.3C1084.6,2111.1 1087.3,2108.8 1090.1,2108.8C1092.2,2108.8 1094.2,2109.7 1096.3,2110.2C1098.4,2110.8 1100.5,2112.3 1102.5,2112.3C1112.9,2112.3 1123.2,2112.3 1133.6,2112.3C1154.3,2112.3 1175.0,2112.3 1195.8,2112.3C1206.1,2112.3 1216.5,2112.3 1226.9,2112.3C1230.3,2112.3 1233.8,2111.2 1237.2,2110.8C1244.1,2110.2 1251.0,2109.9 1257.9,2109.6C1264.8,2109.3 1271.7,2109.1 1278.7,2108.8C1285.6,2108.4 1292.5,2107.6 1299.4,2107.1C1305.6,2106.7 1311.8,2106.1 1318.0,2106.1C1320.8,2106.1 1323.5,2108.6 1326.3,2109.2C1331.1,2110.2 1336.0,2111.1 1340.8,2111.3C1348.4,2111.5 1356.0,2111.7 1363.6,2111.7C1364.1,2111.7 1364.5,2111.4 1365.0,2111.4C1369.2,2110.6 1373.4,2110.2 1377.6,2109.7C1381.8,2109.2 1386.0,2108.2 1390.2,2108.2C1394.4,2108.2 1398.6,2109.8 1402.8,2110.3C1407.7,2110.9 1412.6,2111.8 1417.6,2111.8C1428.1,2111.8 1438.6,2110.9 1449.1,2110.9C1456.1,2110.9 1463.1,2110.9 1470.1,2110.9C1484.1,2110.9 1498.1,2110.3 1512.2,2110.3C1526.2,2110.3 1540.2,2110.3 1554.2,2110.3C1561.2,2110.3 1568.2,2109.7 1575.2,2109.7C1582.2,2109.7 1589.2,2109.7 1596.2,2109.7C1610.3,2109.7 1624.3,2109.7 1638.3,2109.7C1652.3,2109.7 1666.3,2109.7 1680.3,2109.7C1690.1,2109.7 1699.9,2109.7 1709.8,2109.7" stroke="#0000ff" stroke-width="5.0"/>
<path d="M1030.4,2112.5C1033.0,2114.0 1035.7,2116.9 1038.3,2116.9C1041.1,2116.9 1043.8,2114.5 1046.6,2114.2C1051.4,2113.7 1056.2,2113.3 1061.1,2113.3C1068.0,2113.3 1074.9,2113.5 1081.8,2113.8C1084.6,2113.9 1087.3,2116.2 1090.1,2116.2C1092.2,2116.2 1094.2,2115.4 1096.3,2114.8C1098.4,2114.2 1100.5,2112.7 1102.5,2112.7C1112.9,2112.7 1123.2,2112.7 1133.6,2112.7C1154.3,2112.7 1175.0,2112.7 1195.8,2112.7C1206.1,2112.7 1216.5,2112.7 1226.9,2112.7C1230.3,2112.7 1233.8,2113.9 1237.2,2114.2C1244.1,2114.8 1251.0,2115.1 1257.9,2115.4C1264.8,2115.7 1271.7,2115.9 1278.7,2116.2C1285.6,2116.6 1292.5,2117.4 1299.4,2117.9C1305.6,2118.3 1311.8,2118.9 1318.0,2118.9C1320.8,2118.9 1323.5,2116.4 1326.3,2115.8C1331.1,2114.8 1336.0,2113.9 1340.8,2113.8C1348.4,2113.5 1356.0,2113.3 1363.6,2113.3C1364.1,2113.3 1364.5,2113.5 1365.0,2113.6C1369.2,2114.4 1373.4,2114.8 1377.6,2115.3C1381.8,2115.8 1386.0,2116.8 1390.2,2116.8C1394.4,2116.8 1398.6,2115.2 1402.8,2114.7C1407.7,2114.1 1412.6,2113.2 1417.6,2113.2C1428.1,2113.2 1438.6,2114.0 1449.1,2114.0C1456.1,2114.0 1463.1,2114.0 1470.1,2114.0C1484.1,2114.0 1498.1,2114.7 1512.2,2114.7C1526.2,2114.7 1540.2,2114.7 1554.2,2114.7C1561.2,2114.7 1568.2,2115.3 1575.2,2115.3C1582.2,2115.3 1589.2,2115.3 1596.2,2115.3C1610.3,2115.3 1624.3,2115.3 1638.3,2115.3C1652.3,2115.3 1666.3,2115.3 1680.3,2115.3C1690.1,2115.3 1699.9,2115.3 1709.8,2115.3" stroke="#0000ff" stroke-width="5.0"/>
<path d="M1030.4,2065.7C1031.3,2056.7 1032.2,2045.5 1033.1,2038.7C1034.1,2030.9 1035.2,2023.2 1036.2,2020.1C1037.3,2017.0 1038.3,2013.9 1039.3,2013.9C1040.4,2013.9 1041.4,2017.1 1042.4,2020.1C1043.5,2023.1 1044.5,2032.7 1045.5,2036.7C1046.6,2040.6 1047.6,2046.0 1048.6,2046.0C1049.7,2046.0 1050.7,2040.2 1051.8,2036.7C1052.8,2033.1 1053.8,2024.2 1054.9,2024.2C1056.2,2024.2 1057.6,2026.3 1059.0,2026.3C1060.4,2026.3 1061.8,2020.9 1063.2,2015.9C1064.2,2012.2 1065.2,2003.8 1066.3,1997.3C1067.3,1990.8 1068.3,1976.6 1069.4,1976.6C1070.4,1976.6 1071.4,1977.3 1072.5,1978.6C1073.2,1979.5 1073.9,1993.2 1074.6,1993.2C1075.6,1993.2 1076.6,1980.7 1077.7,1980.7C1078.7,1980.7 1079.7,1984.4 1080.8,1989.0C1081.5,1992.1 1082.1,2003.9 1082.8,2011.8C1083.5,2019.7 1084.2,2029.6 1084.9,2036.7C1085.6,2043.8 1086.3,2053.3 1087.0,2055.3C1088.0,2058.4 1089.1,2060.5 1090.1,2060.5C1091.5,2060.5 1092.9,2051.2 1094.2,2051.2C1095.3,2051.2 1096.3,2060.9 1097.3,2067.7C1098.4,2074.6 1099.4,2087.8 1100.5,2094.7C1101.5,2101.5 1102.5,2111.0 1103.6,2111.3C1106.7,2112.1 1109.8,2112.3 1112.9,2112.3C1126.7,2112.3 1140.5,2112.3 1154.3,2112.3C1168.1,2112.3 1182.0,2112.3 1195.8,2112.3C1202.7,2112.3 1209.6,2112.3 1216.5,2112.3C1220.6,2112.3 1224.8,2111.9 1228.9,2111.3C1231.0,2110.9 1233.1,2107.7 1235.1,2107.1C1237.2,2106.6 1239.3,2106.1 1241.4,2106.1C1244.8,2106.1 1248.3,2107.1 1251.7,2107.1C1255.2,2107.1 1258.6,2105.5 1262.1,2105.0C1265.5,2104.6 1269.0,2104.6 1272.4,2104.0C1275.2,2103.5 1278.0,2100.0 1280.7,2098.8C1282.8,2097.9 1284.9,2096.8 1286.9,2096.8C1289.0,2096.8 1291.1,2098.4 1293.2,2098.4C1295.2,2098.4 1297.3,2095.1 1299.4,2095.1C1301.4,2095.1 1303.5,2096.8 1305.6,2096.8C1307.7,2096.8 1309.7,2096.0 1311.8,2095.7C1313.9,2095.5 1316.0,2095.1 1318.0,2095.1C1320.1,2095.1 1322.2,2099.1 1324.2,2100.9C1326.3,2102.7 1328.4,2105.7 1330.5,2106.1C1333.9,2106.7 1337.4,2106.9 1340.8,2107.1C1345.0,2107.3 1349.1,2107.5 1353.2,2107.5C1356.7,2107.5 1360.2,2107.5 1363.6,2107.5C1364.1,2107.5 1364.5,2109.3 1365.0,2109.3C1367.1,2109.3 1369.2,2108.8 1371.3,2108.8C1374.1,2108.8 1376.9,2110.3 1379.7,2110.3C1381.1,2110.3 1382.5,2105.1 1383.9,2102.9C1385.7,2100.2 1387.4,2095.6 1389.2,2095.6C1390.9,2095.6 1392.7,2098.6 1394.4,2099.8C1397.2,2101.8 1400.0,2103.6 1402.8,2105.0C1405.6,2106.5 1408.4,2107.5 1411.2,2108.8C1413.3,2109.8 1415.5,2111.5 1417.6,2111.8C1421.1,2112.2 1424.6,2112.4 1428.1,2112.4C1430.9,2112.4 1433.7,2111.9 1436.5,2111.4C1439.3,2110.8 1442.1,2108.1 1444.9,2107.2C1446.3,2106.7 1447.7,2106.1 1449.1,2106.1C1451.2,2106.1 1453.3,2108.5 1455.4,2109.3C1458.2,2110.3 1461.0,2111.6 1463.8,2111.8C1472.9,2112.2 1482.0,2112.4 1491.1,2112.4C1505.1,2112.4 1519.2,2112.4 1533.2,2112.4C1547.2,2112.4 1561.2,2112.4 1575.2,2112.4C1577.3,2112.4 1579.4,2111.8 1581.5,2111.8C1586.4,2111.8 1591.3,2112.4 1596.2,2112.4C1610.3,2112.4 1624.3,2112.4 1638.3,2112.4C1662.1,2112.4 1685.9,2112.4 1709.8,2112.4" stroke="#ff00ff" stroke-width="5.6"/>
<path d="M1030.4,2159.3C1031.3,2168.3 1032.2,2179.5 1033.1,2186.3C1034.1,2194.1 1035.2,2201.8 1036.2,2204.9C1037.3,2208.0 1038.3,2211.1 1039.3,2211.1C1040.4,2211.1 1041.4,2207.9 1042.4,2204.9C1043.5,2201.9 1044.5,2192.3 1045.5,2188.3C1046.6,2184.4 1047.6,2179.0 1048.6,2179.0C1049.7,2179.0 1050.7,2184.8 1051.8,2188.3C1052.8,2191.9 1053.8,2200.8 1054.9,2200.8C1056.2,2200.8 1057.6,2198.7 1059.0,2198.7C1060.4,2198.7 1061.8,2204.1 1063.2,2209.1C1064.2,2212.8 1065.2,2221.2 1066.3,2227.7C1067.3,2234.3 1068.3,2248.4 1069.4,2248.4C1070.4,2248.4 1071.4,2247.7 1072.5,2246.4C1073.2,2245.5 1073.9,2231.9 1074.6,2231.9C1075.6,2231.9 1076.6,2244.3 1077.7,2244.3C1078.7,2244.3 1079.7,2240.6 1080.8,2236.0C1081.5,2232.9 1082.1,2221.1 1082.8,2213.2C1083.5,2205.3 1084.2,2195.5 1084.9,2188.3C1085.6,2181.2 1086.3,2171.7 1087.0,2169.7C1088.0,2166.6 1089.1,2164.5 1090.1,2164.5C1091.5,2164.5 1092.9,2173.8 1094.2,2173.8C1095.3,2173.8 1096.3,2164.1 1097.3,2157.3C1098.4,2150.4 1099.4,2137.2 1100.5,2130.3C1101.5,2123.5 1102.5,2114.0 1103.6,2113.8C1106.7,2112.9 1109.8,2112.7 1112.9,2112.7C1126.7,2112.7 1140.5,2112.7 1154.3,2112.7C1168.1,2112.7 1182.0,2112.7 1195.8,2112.7C1202.7,2112.7 1209.6,2112.7 1216.5,2112.7C1220.6,2112.7 1224.8,2113.1 1228.9,2113.8C1231.0,2114.1 1233.1,2117.3 1235.1,2117.9C1237.2,2118.4 1239.3,2118.9 1241.4,2118.9C1244.8,2118.9 1248.3,2117.9 1251.7,2117.9C1255.2,2117.9 1258.6,2119.5 1262.1,2120.0C1265.5,2120.4 1269.0,2120.4 1272.4,2121.0C1275.2,2121.5 1278.0,2125.0 1280.7,2126.2C1282.8,2127.1 1284.9,2128.3 1286.9,2128.3C1289.0,2128.3 1291.1,2126.6 1293.2,2126.6C1295.2,2126.6 1297.3,2129.9 1299.4,2129.9C1301.4,2129.9 1303.5,2128.3 1305.6,2128.3C1307.7,2128.3 1309.7,2129.0 1311.8,2129.3C1313.9,2129.6 1316.0,2129.9 1318.0,2129.9C1320.1,2129.9 1322.2,2125.9 1324.2,2124.1C1326.3,2122.3 1328.4,2119.3 1330.5,2118.9C1333.9,2118.3 1337.4,2118.1 1340.8,2117.9C1345.0,2117.7 1349.1,2117.5 1353.2,2117.5C1356.7,2117.5 1360.2,2117.5 1363.6,2117.5C1364.1,2117.5 1364.5,2115.7 1365.0,2115.7C1367.1,2115.7 1369.2,2116.1 1371.3,2116.1C1374.1,2116.1 1376.9,2114.7 1379.7,2114.7C1381.1,2114.7 1382.5,2119.8 1383.9,2122.0C1385.7,2124.8 1387.4,2129.4 1389.2,2129.4C1390.9,2129.4 1392.7,2126.4 1394.4,2125.2C1397.2,2123.2 1400.0,2121.4 1402.8,2119.9C1405.6,2118.5 1408.4,2117.4 1411.2,2116.1C1413.3,2115.2 1415.5,2113.4 1417.6,2113.2C1421.1,2112.8 1424.6,2112.6 1428.1,2112.6C1430.9,2112.6 1433.7,2113.1 1436.5,2113.6C1439.3,2114.2 1442.1,2116.9 1444.9,2117.8C1446.3,2118.3 1447.7,2118.9 1449.1,2118.9C1451.2,2118.9 1453.3,2116.5 1455.4,2115.7C1458.2,2114.7 1461.0,2113.3 1463.8,2113.2C1472.9,2112.7 1482.0,2112.6 1491.1,2112.6C1505.1,2112.6 1519.2,2112.6 1533.2,2112.6C1547.2,2112.6 1561.2,2112.6 1575.2,2112.6C1577.3,2112.6 1579.4,2113.2 1581.5,2113.2C1586.4,2113.2 1591.3,2112.6 1596.2,2112.6C1610.3,2112.6 1624.3,2112.6 1638.3,2112.6C1662.1,2112.6 1685.9,2112.6 1709.8,2112.6" stroke="#ff00ff" stroke-width="5.6"/>
</g>
<rect x="1030.4" y="1953.9" width="676.0" height="317.8" fill="none" stroke="#000" stroke-width="2.5"/>
<path d="M1078.7,2271.7v-2.0M1078.7,1953.9v2.0M1127.0,2271.7v-6.5M1127.0,1953.9v6.5M1175.3,2271.7v-2.0M1175.3,1953.9v2.0M1223.5,2271.7v-6.5M1223.5,1953.9v6.5M1271.8,2271.7v-2.0M1271.8,1953.9v2.0M1320.1,2271.7v-6.5M1320.1,1953.9v6.5M1368.4,2271.7v-2.0M1368.4,1953.9v2.0M1416.7,2271.7v-6.5M1416.7,1953.9v6.5M1465.0,2271.7v-2.0M1465.0,1953.9v2.0M1513.3,2271.7v-6.5M1513.3,1953.9v6.5M1561.5,2271.7v-2.0M1561.5,1953.9v2.0M1609.8,2271.7v-6.5M1609.8,1953.9v6.5M1658.1,2271.7v-2.0M1658.1,1953.9v2.0M1030.4,2249.0h2.0M1706.4,2249.0h-2.0M1030.4,2226.3h2.0M1706.4,2226.3h-2.0M1030.4,2203.6h6.5M1706.4,2203.6h-6.5M1030.4,2180.9h2.0M1706.4,2180.9h-2.0M1030.4,2158.2h2.0M1706.4,2158.2h-2.0M1030.4,2135.5h2.0M1706.4,2135.5h-2.0M1030.4,2112.8h6.5M1706.4,2112.8h-6.5M1030.4,2090.1h2.0M1706.4,2090.1h-2.0M1030.4,2067.4h2.0M1706.4,2067.4h-2.0M1030.4,2044.7h2.0M1706.4,2044.7h-2.0M1030.4,2022.0h6.5M1706.4,2022.0h-6.5M1030.4,1999.3h2.0M1706.4,1999.3h-2.0M1030.4,1976.6h2.0M1706.4,1976.6h-2.0" stroke="#000" stroke-width="2.2" fill="none"/>
<text transform="translate(1014.54,2305.80) scale(0.9250,1)" font-size="40.50" font-weight="bold">-8</text>
<text transform="translate(1111.30,2305.80) scale(0.9250,1)" font-size="40.50" font-weight="bold">-6</text>
<text transform="translate(1207.31,2305.80) scale(0.9250,1)" font-size="40.50" font-weight="bold">-4</text>
<text transform="translate(1304.44,2305.80) scale(0.9250,1)" font-size="40.50" font-weight="bold">-2</text>
<text transform="translate(1407.20,2305.80) scale(0.9250,1)" font-size="40.50" font-weight="bold">0</text>
<text transform="translate(1503.95,2305.80) scale(0.9250,1)" font-size="40.50" font-weight="bold">2</text>
<text transform="translate(1600.15,2305.80) scale(0.9250,1)" font-size="40.50" font-weight="bold">4</text>
<text transform="translate(1696.91,2305.80) scale(0.9250,1)" font-size="40.50" font-weight="bold">6</text>
<text transform="translate(983.64,2031.90) scale(0.9250,1)" font-size="40.50" font-weight="bold">40</text>
<text transform="translate(1004.62,2122.70) scale(0.9250,1)" font-size="40.50" font-weight="bold">0</text>
<text transform="translate(971.28,2213.50) scale(0.9250,1)" font-size="40.50" font-weight="bold">-40</text>
<text transform="translate(1152.84,2235.55) scale(0.9700,1)" font-size="38.40" font-weight="bold">(j)</text>
<text transform="translate(1430.86,2234.80) scale(0.9535,1)" font-size="45.51" font-weight="bold" fill="#000">E</text>
<text transform="translate(1458.70,2252.20) scale(1.1321,1)" font-size="44.17" font-weight="normal" fill="#000">f</text>
<text transform="translate(1303.86,2359.80) scale(0.8998,1)" font-size="40.40" font-weight="bold">Energy (eV)</text>
<text transform="translate(939.10,2248.40) rotate(-90) scale(0.9561,1) translate(-2.78,0)" font-size="39.71" font-weight="bold">DOS (states/cell)</text>
<rect x="1509.6" y="1952.7" width="190.2" height="63.6" fill="#fff" stroke="#3a3a3a" stroke-width="1.3"/>
<line x1="1522.4" y1="1991.7" x2="1551.7" y2="1991.7" stroke="#000" stroke-width="5.4" stroke-linecap="round"/>
<text transform="translate(1556.00,1995.70) scale(0.9253,1)" font-size="46.75" font-weight="bold">Zn<tspan dy="5.2">3</tspan><tspan dy="-5.2">Ru</tspan></text>
<rect x="789.6" y="1.0" width="241.0" height="59.0" fill="#fff" stroke="#555" stroke-width="1.3"/>
<line x1="793.4" y1="43.3" x2="824.0" y2="43.3" stroke="#000" stroke-width="5.5" stroke-linecap="round"/>
<line x1="875.1" y1="43.3" x2="905.7" y2="43.3" stroke="#0000ff" stroke-width="5.5" stroke-linecap="round"/>
<line x1="959.2" y1="43.3" x2="990.4" y2="43.3" stroke="#ff00ff" stroke-width="5.5" stroke-linecap="round"/>
<text transform="translate(837.63,49.00) scale(0.9685,1)" font-size="48.33" font-weight="bold" fill="#000">s</text>
<text transform="translate(917.44,49.00) scale(1.0221,1)" font-size="48.33" font-weight="bold" fill="#000">p</text>
<text transform="translate(1003.10,49.00) scale(1.0187,1)" font-size="46.53" font-weight="bold" fill="#000">d</text>
</svg>
</body></html>
